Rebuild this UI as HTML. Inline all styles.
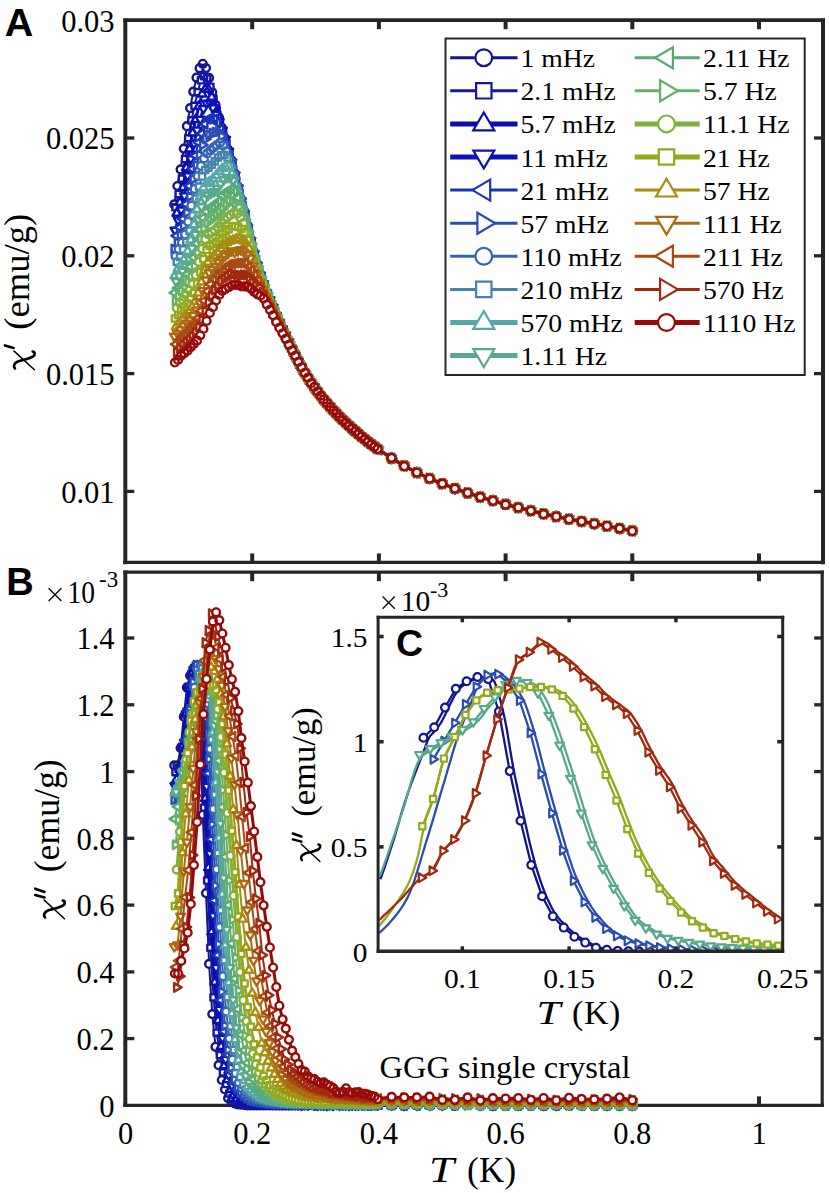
<!DOCTYPE html>
<html><head><meta charset="utf-8"><title>chi</title>
<style>html,body{margin:0;padding:0;background:#fff;}svg{display:block;}</style></head>
<body><svg width="829" height="1193" viewBox="0 0 829 1193">
<rect width="829" height="1193" fill="#fff"/>
<g><line x1="125.3" y1="18.4" x2="125.3" y2="564.2" stroke="#262626" stroke-width="4"/><line x1="823" y1="18.4" x2="823" y2="564.2" stroke="#262626" stroke-width="4"/><line x1="123.3" y1="20.2" x2="825" y2="20.2" stroke="#262626" stroke-width="3.7"/><line x1="123.3" y1="562.4" x2="825" y2="562.4" stroke="#262626" stroke-width="3.3"/><line x1="252.2" y1="20.2" x2="252.2" y2="29.2" stroke="#262626" stroke-width="4"/><line x1="252.2" y1="562.4" x2="252.2" y2="553.4" stroke="#262626" stroke-width="4"/><line x1="378.9" y1="20.2" x2="378.9" y2="29.2" stroke="#262626" stroke-width="4"/><line x1="378.9" y1="562.4" x2="378.9" y2="553.4" stroke="#262626" stroke-width="4"/><line x1="505.6" y1="20.2" x2="505.6" y2="29.2" stroke="#262626" stroke-width="4"/><line x1="505.6" y1="562.4" x2="505.6" y2="553.4" stroke="#262626" stroke-width="4"/><line x1="632.3" y1="20.2" x2="632.3" y2="29.2" stroke="#262626" stroke-width="4"/><line x1="632.3" y1="562.4" x2="632.3" y2="553.4" stroke="#262626" stroke-width="4"/><line x1="759" y1="20.2" x2="759" y2="29.2" stroke="#262626" stroke-width="4"/><line x1="759" y1="562.4" x2="759" y2="553.4" stroke="#262626" stroke-width="4"/><line x1="125.3" y1="491.4" x2="134.3" y2="491.4" stroke="#262626" stroke-width="3.3"/><line x1="823" y1="491.4" x2="814" y2="491.4" stroke="#262626" stroke-width="3.3"/><line x1="125.3" y1="373.6" x2="134.3" y2="373.6" stroke="#262626" stroke-width="3.3"/><line x1="823" y1="373.6" x2="814" y2="373.6" stroke="#262626" stroke-width="3.3"/><line x1="125.3" y1="255.8" x2="134.3" y2="255.8" stroke="#262626" stroke-width="3.3"/><line x1="823" y1="255.8" x2="814" y2="255.8" stroke="#262626" stroke-width="3.3"/><line x1="125.3" y1="138" x2="134.3" y2="138" stroke="#262626" stroke-width="3.3"/><line x1="823" y1="138" x2="814" y2="138" stroke="#262626" stroke-width="3.3"/><text x="114.5" y="31.5" font-family="Liberation Serif" font-size="30.5" text-anchor="end" >0.03</text><text x="114.5" y="149.3" font-family="Liberation Serif" font-size="30.5" text-anchor="end" >0.025</text><text x="114.5" y="267.1" font-family="Liberation Serif" font-size="30.5" text-anchor="end" >0.02</text><text x="114.5" y="384.9" font-family="Liberation Serif" font-size="30.5" text-anchor="end" >0.015</text><text x="114.5" y="502.7" font-family="Liberation Serif" font-size="30.5" text-anchor="end" >0.01</text><line x1="125.3" y1="570.6" x2="125.3" y2="1107" stroke="#262626" stroke-width="4"/><line x1="822.2" y1="570.6" x2="822.2" y2="1107" stroke="#262626" stroke-width="3.2"/><line x1="123.3" y1="572.2" x2="823.8" y2="572.2" stroke="#262626" stroke-width="3.2"/><line x1="123.3" y1="1105.4" x2="823.8" y2="1105.4" stroke="#262626" stroke-width="3.2"/><line x1="252.2" y1="572.2" x2="252.2" y2="581.2" stroke="#262626" stroke-width="4"/><line x1="252.2" y1="1105.4" x2="252.2" y2="1096.4" stroke="#262626" stroke-width="4"/><line x1="378.9" y1="572.2" x2="378.9" y2="581.2" stroke="#262626" stroke-width="4"/><line x1="378.9" y1="1105.4" x2="378.9" y2="1096.4" stroke="#262626" stroke-width="4"/><line x1="505.6" y1="572.2" x2="505.6" y2="581.2" stroke="#262626" stroke-width="4"/><line x1="505.6" y1="1105.4" x2="505.6" y2="1096.4" stroke="#262626" stroke-width="4"/><line x1="632.3" y1="572.2" x2="632.3" y2="581.2" stroke="#262626" stroke-width="4"/><line x1="632.3" y1="1105.4" x2="632.3" y2="1096.4" stroke="#262626" stroke-width="4"/><line x1="759" y1="572.2" x2="759" y2="581.2" stroke="#262626" stroke-width="4"/><line x1="759" y1="1105.4" x2="759" y2="1096.4" stroke="#262626" stroke-width="4"/><line x1="125.3" y1="1038.6" x2="134.3" y2="1038.6" stroke="#262626" stroke-width="3.3"/><line x1="822.2" y1="1038.6" x2="814.2" y2="1038.6" stroke="#262626" stroke-width="3.3"/><line x1="125.3" y1="971.9" x2="134.3" y2="971.9" stroke="#262626" stroke-width="3.3"/><line x1="822.2" y1="971.9" x2="814.2" y2="971.9" stroke="#262626" stroke-width="3.3"/><line x1="125.3" y1="905.1" x2="134.3" y2="905.1" stroke="#262626" stroke-width="3.3"/><line x1="822.2" y1="905.1" x2="814.2" y2="905.1" stroke="#262626" stroke-width="3.3"/><line x1="125.3" y1="838.3" x2="134.3" y2="838.3" stroke="#262626" stroke-width="3.3"/><line x1="822.2" y1="838.3" x2="814.2" y2="838.3" stroke="#262626" stroke-width="3.3"/><line x1="125.3" y1="771.6" x2="134.3" y2="771.6" stroke="#262626" stroke-width="3.3"/><line x1="822.2" y1="771.6" x2="814.2" y2="771.6" stroke="#262626" stroke-width="3.3"/><line x1="125.3" y1="704.8" x2="134.3" y2="704.8" stroke="#262626" stroke-width="3.3"/><line x1="822.2" y1="704.8" x2="814.2" y2="704.8" stroke="#262626" stroke-width="3.3"/><line x1="125.3" y1="638" x2="134.3" y2="638" stroke="#262626" stroke-width="3.3"/><line x1="822.2" y1="638" x2="814.2" y2="638" stroke="#262626" stroke-width="3.3"/><text x="114.5" y="1116.7" font-family="Liberation Serif" font-size="30.5" text-anchor="end" >0</text><text x="114.5" y="1049.9" font-family="Liberation Serif" font-size="30.5" text-anchor="end" >0.2</text><text x="114.5" y="983.2" font-family="Liberation Serif" font-size="30.5" text-anchor="end" >0.4</text><text x="114.5" y="916.4" font-family="Liberation Serif" font-size="30.5" text-anchor="end" >0.6</text><text x="114.5" y="849.6" font-family="Liberation Serif" font-size="30.5" text-anchor="end" >0.8</text><text x="114.5" y="782.9" font-family="Liberation Serif" font-size="30.5" text-anchor="end" >1</text><text x="114.5" y="716.1" font-family="Liberation Serif" font-size="30.5" text-anchor="end" >1.2</text><text x="114.5" y="649.3" font-family="Liberation Serif" font-size="30.5" text-anchor="end" >1.4</text><text x="125.5" y="1144" font-family="Liberation Serif" font-size="30.5" text-anchor="middle" >0</text><text x="252.2" y="1144" font-family="Liberation Serif" font-size="30.5" text-anchor="middle" >0.2</text><text x="378.9" y="1144" font-family="Liberation Serif" font-size="30.5" text-anchor="middle" >0.4</text><text x="505.6" y="1144" font-family="Liberation Serif" font-size="30.5" text-anchor="middle" >0.6</text><text x="632.3" y="1144" font-family="Liberation Serif" font-size="30.5" text-anchor="middle" >0.8</text><text x="759" y="1144" font-family="Liberation Serif" font-size="30.5" text-anchor="middle" >1</text></g>
<g stroke-linejoin="round"><path d="M174.3 204.4 177.4 186 180.6 169.4 183.8 148.6 186.9 126.2 190.1 108.1 193.3 91.6 196.5 77.6 199.6 68.2 202.8 63.8 206 68 209.1 77.9 212.3 92.3 215.5 104.9 218.6 116.9 221.8 127.7 225 138.2 228.1 149.5 231.3 160 234.5 173.4 237.6 186.2 240.8 198.8 244 210.9 247.1 224.6 250.3 238.7 253.5 251.6 256.6 263 259.8 273.4 263 282.8 266.1 291.1 269.3 298.8 272.5 306 275.6 314.3 278.8 321.2 282 328.1 285.1 335.4 288.3 341.6 291.5 348.2 294.6 353.8 297.8 360.3 301 366.6 304.1 371.5 307.3 377 310.5 382.3 313.6 386.5 316.8 390.9 320 395.1 323.2 398.8 326.3 403.1 329.5 406.2 332.7 409.4 335.8 412.7 339 415.9 342.2 419 345.3 421.9 348.5 425.5 351.7 427.9 354.8 431.4 358 433.8 361.2 436.7 364.3 438.6 367.5 441 370.7 443.8 373.8 445.7 377 448.6 391.6 458.2 404.2 465.8 416.9 472.9 429.6 478.4 442.2 483.4 454.9 488.8 467.6 492.8 480.3 497.1 492.9 500.5 505.6 504.2 518.3 507.5 530.9 510.7 543.6 513.8 556.3 516.8 569 518.9 581.6 521.7 594.3 523.8 607 526.1 619.6 528.6 632.3 530.8" fill="none" stroke="#14148c" stroke-width="2.0"/><path d="M170.4 204.4a3.9 3.9 0 1 0 7.8 0a3.9 3.9 0 1 0 -7.8 0ZM173.5 186a3.9 3.9 0 1 0 7.8 0a3.9 3.9 0 1 0 -7.8 0ZM176.7 169.4a3.9 3.9 0 1 0 7.8 0a3.9 3.9 0 1 0 -7.8 0ZM179.9 148.6a3.9 3.9 0 1 0 7.8 0a3.9 3.9 0 1 0 -7.8 0ZM183 126.2a3.9 3.9 0 1 0 7.8 0a3.9 3.9 0 1 0 -7.8 0ZM186.2 108.1a3.9 3.9 0 1 0 7.8 0a3.9 3.9 0 1 0 -7.8 0ZM189.4 91.6a3.9 3.9 0 1 0 7.8 0a3.9 3.9 0 1 0 -7.8 0ZM192.6 77.6a3.9 3.9 0 1 0 7.8 0a3.9 3.9 0 1 0 -7.8 0ZM195.7 68.2a3.9 3.9 0 1 0 7.8 0a3.9 3.9 0 1 0 -7.8 0ZM198.9 63.8a3.9 3.9 0 1 0 7.8 0a3.9 3.9 0 1 0 -7.8 0ZM202.1 68a3.9 3.9 0 1 0 7.8 0a3.9 3.9 0 1 0 -7.8 0ZM205.2 77.9a3.9 3.9 0 1 0 7.8 0a3.9 3.9 0 1 0 -7.8 0ZM208.4 92.3a3.9 3.9 0 1 0 7.8 0a3.9 3.9 0 1 0 -7.8 0ZM211.6 104.9a3.9 3.9 0 1 0 7.8 0a3.9 3.9 0 1 0 -7.8 0ZM214.7 116.9a3.9 3.9 0 1 0 7.8 0a3.9 3.9 0 1 0 -7.8 0ZM217.9 127.7a3.9 3.9 0 1 0 7.8 0a3.9 3.9 0 1 0 -7.8 0ZM221.1 138.2a3.9 3.9 0 1 0 7.8 0a3.9 3.9 0 1 0 -7.8 0ZM224.2 149.5a3.9 3.9 0 1 0 7.8 0a3.9 3.9 0 1 0 -7.8 0ZM227.4 160a3.9 3.9 0 1 0 7.8 0a3.9 3.9 0 1 0 -7.8 0ZM230.6 173.4a3.9 3.9 0 1 0 7.8 0a3.9 3.9 0 1 0 -7.8 0ZM233.7 186.2a3.9 3.9 0 1 0 7.8 0a3.9 3.9 0 1 0 -7.8 0ZM236.9 198.8a3.9 3.9 0 1 0 7.8 0a3.9 3.9 0 1 0 -7.8 0ZM240.1 210.9a3.9 3.9 0 1 0 7.8 0a3.9 3.9 0 1 0 -7.8 0ZM243.2 224.6a3.9 3.9 0 1 0 7.8 0a3.9 3.9 0 1 0 -7.8 0ZM246.4 238.7a3.9 3.9 0 1 0 7.8 0a3.9 3.9 0 1 0 -7.8 0ZM249.6 251.6a3.9 3.9 0 1 0 7.8 0a3.9 3.9 0 1 0 -7.8 0ZM252.7 263a3.9 3.9 0 1 0 7.8 0a3.9 3.9 0 1 0 -7.8 0ZM255.9 273.4a3.9 3.9 0 1 0 7.8 0a3.9 3.9 0 1 0 -7.8 0ZM259.1 282.8a3.9 3.9 0 1 0 7.8 0a3.9 3.9 0 1 0 -7.8 0ZM262.2 291.1a3.9 3.9 0 1 0 7.8 0a3.9 3.9 0 1 0 -7.8 0ZM265.4 298.8a3.9 3.9 0 1 0 7.8 0a3.9 3.9 0 1 0 -7.8 0ZM268.6 306a3.9 3.9 0 1 0 7.8 0a3.9 3.9 0 1 0 -7.8 0ZM271.7 314.3a3.9 3.9 0 1 0 7.8 0a3.9 3.9 0 1 0 -7.8 0ZM274.9 321.2a3.9 3.9 0 1 0 7.8 0a3.9 3.9 0 1 0 -7.8 0ZM278.1 328.1a3.9 3.9 0 1 0 7.8 0a3.9 3.9 0 1 0 -7.8 0ZM281.2 335.4a3.9 3.9 0 1 0 7.8 0a3.9 3.9 0 1 0 -7.8 0ZM284.4 341.6a3.9 3.9 0 1 0 7.8 0a3.9 3.9 0 1 0 -7.8 0ZM287.6 348.2a3.9 3.9 0 1 0 7.8 0a3.9 3.9 0 1 0 -7.8 0ZM290.7 353.8a3.9 3.9 0 1 0 7.8 0a3.9 3.9 0 1 0 -7.8 0ZM293.9 360.3a3.9 3.9 0 1 0 7.8 0a3.9 3.9 0 1 0 -7.8 0ZM297.1 366.6a3.9 3.9 0 1 0 7.8 0a3.9 3.9 0 1 0 -7.8 0ZM300.2 371.5a3.9 3.9 0 1 0 7.8 0a3.9 3.9 0 1 0 -7.8 0ZM303.4 377a3.9 3.9 0 1 0 7.8 0a3.9 3.9 0 1 0 -7.8 0ZM306.6 382.3a3.9 3.9 0 1 0 7.8 0a3.9 3.9 0 1 0 -7.8 0ZM309.7 386.5a3.9 3.9 0 1 0 7.8 0a3.9 3.9 0 1 0 -7.8 0ZM312.9 390.9a3.9 3.9 0 1 0 7.8 0a3.9 3.9 0 1 0 -7.8 0ZM316.1 395.1a3.9 3.9 0 1 0 7.8 0a3.9 3.9 0 1 0 -7.8 0ZM319.3 398.8a3.9 3.9 0 1 0 7.8 0a3.9 3.9 0 1 0 -7.8 0ZM322.4 403.1a3.9 3.9 0 1 0 7.8 0a3.9 3.9 0 1 0 -7.8 0ZM325.6 406.2a3.9 3.9 0 1 0 7.8 0a3.9 3.9 0 1 0 -7.8 0ZM328.8 409.4a3.9 3.9 0 1 0 7.8 0a3.9 3.9 0 1 0 -7.8 0ZM331.9 412.7a3.9 3.9 0 1 0 7.8 0a3.9 3.9 0 1 0 -7.8 0ZM335.1 415.9a3.9 3.9 0 1 0 7.8 0a3.9 3.9 0 1 0 -7.8 0ZM338.3 419a3.9 3.9 0 1 0 7.8 0a3.9 3.9 0 1 0 -7.8 0ZM341.4 421.9a3.9 3.9 0 1 0 7.8 0a3.9 3.9 0 1 0 -7.8 0ZM344.6 425.5a3.9 3.9 0 1 0 7.8 0a3.9 3.9 0 1 0 -7.8 0ZM347.8 427.9a3.9 3.9 0 1 0 7.8 0a3.9 3.9 0 1 0 -7.8 0ZM350.9 431.4a3.9 3.9 0 1 0 7.8 0a3.9 3.9 0 1 0 -7.8 0ZM354.1 433.8a3.9 3.9 0 1 0 7.8 0a3.9 3.9 0 1 0 -7.8 0ZM357.3 436.7a3.9 3.9 0 1 0 7.8 0a3.9 3.9 0 1 0 -7.8 0ZM360.4 438.6a3.9 3.9 0 1 0 7.8 0a3.9 3.9 0 1 0 -7.8 0ZM363.6 441a3.9 3.9 0 1 0 7.8 0a3.9 3.9 0 1 0 -7.8 0ZM366.8 443.8a3.9 3.9 0 1 0 7.8 0a3.9 3.9 0 1 0 -7.8 0ZM369.9 445.7a3.9 3.9 0 1 0 7.8 0a3.9 3.9 0 1 0 -7.8 0ZM373.1 448.6a3.9 3.9 0 1 0 7.8 0a3.9 3.9 0 1 0 -7.8 0ZM387.7 458.2a3.9 3.9 0 1 0 7.8 0a3.9 3.9 0 1 0 -7.8 0ZM400.3 465.8a3.9 3.9 0 1 0 7.8 0a3.9 3.9 0 1 0 -7.8 0ZM413 472.9a3.9 3.9 0 1 0 7.8 0a3.9 3.9 0 1 0 -7.8 0ZM425.7 478.4a3.9 3.9 0 1 0 7.8 0a3.9 3.9 0 1 0 -7.8 0ZM438.4 483.4a3.9 3.9 0 1 0 7.8 0a3.9 3.9 0 1 0 -7.8 0ZM451 488.8a3.9 3.9 0 1 0 7.8 0a3.9 3.9 0 1 0 -7.8 0ZM463.7 492.8a3.9 3.9 0 1 0 7.8 0a3.9 3.9 0 1 0 -7.8 0ZM476.4 497.1a3.9 3.9 0 1 0 7.8 0a3.9 3.9 0 1 0 -7.8 0ZM489 500.5a3.9 3.9 0 1 0 7.8 0a3.9 3.9 0 1 0 -7.8 0ZM501.7 504.2a3.9 3.9 0 1 0 7.8 0a3.9 3.9 0 1 0 -7.8 0ZM514.4 507.5a3.9 3.9 0 1 0 7.8 0a3.9 3.9 0 1 0 -7.8 0ZM527 510.7a3.9 3.9 0 1 0 7.8 0a3.9 3.9 0 1 0 -7.8 0ZM539.7 513.8a3.9 3.9 0 1 0 7.8 0a3.9 3.9 0 1 0 -7.8 0ZM552.4 516.8a3.9 3.9 0 1 0 7.8 0a3.9 3.9 0 1 0 -7.8 0ZM565.1 518.9a3.9 3.9 0 1 0 7.8 0a3.9 3.9 0 1 0 -7.8 0ZM577.7 521.7a3.9 3.9 0 1 0 7.8 0a3.9 3.9 0 1 0 -7.8 0ZM590.4 523.8a3.9 3.9 0 1 0 7.8 0a3.9 3.9 0 1 0 -7.8 0ZM603.1 526.1a3.9 3.9 0 1 0 7.8 0a3.9 3.9 0 1 0 -7.8 0ZM615.7 528.6a3.9 3.9 0 1 0 7.8 0a3.9 3.9 0 1 0 -7.8 0ZM628.4 530.8a3.9 3.9 0 1 0 7.8 0a3.9 3.9 0 1 0 -7.8 0Z" fill="#fff" stroke="#14148c" stroke-width="2.4"/><path d="M175.5 207.3 178.7 194 181.9 178.7 185 159 188.2 138.2 191.4 120.4 194.6 105.8 197.7 92.2 200.9 80.3 204.1 76.1 207.2 78.4 210.4 86.7 213.6 98.6 216.7 110.5 219.9 120.1 223.1 131.2 226.2 142.8 229.4 153.4 232.6 165.1 235.7 177.4 238.9 190.9 242.1 204.1 245.2 217 248.4 229.9 251.6 243.5 254.7 256.5 257.9 267.5 261.1 277.2 264.2 285.7 267.4 294.6 270.6 302 273.7 309.3 276.9 316.6 280.1 324 283.2 330.2 286.4 337.5 289.6 343.8 292.7 350.6 295.9 357.2 299.1 362.6 302.2 368.3 305.4 373.8 308.6 378.8 311.7 383.8 314.9 388.3 318.1 392.4 321.3 395.9 324.4 400.1 327.6 404.2 330.8 407.4 333.9 411.1 337.1 414.4 340.3 417.2 343.4 420.6 346.6 423.9 349.8 426.6 352.9 429.2 356.1 432 359.3 434.4 362.4 437.5 365.6 439.7 368.8 442.2 371.9 444.8 375.1 446.9 378.3 449.2 391.6 458.4 404.2 465.6 416.9 472.9 429.6 478.5 442.2 483.8 454.9 488.5 467.6 493.1 480.3 497.1 492.9 500.8 505.6 504.1 518.3 507.8 530.9 510.8 543.6 513.9 556.3 516.8 569 518.7 581.6 521.5 594.3 524 607 525.9 619.6 528.7 632.3 530.7" fill="none" stroke="#1616a0" stroke-width="2.0"/><path d="M172.4 204.2h6.2v6.2h-6.2ZM175.6 190.9h6.2v6.2h-6.2ZM178.8 175.5h6.2v6.2h-6.2ZM181.9 155.9h6.2v6.2h-6.2ZM185.1 135.1h6.2v6.2h-6.2ZM188.3 117.3h6.2v6.2h-6.2ZM191.4 102.7h6.2v6.2h-6.2ZM194.6 89.1h6.2v6.2h-6.2ZM197.8 77.2h6.2v6.2h-6.2ZM200.9 73h6.2v6.2h-6.2ZM204.1 75.3h6.2v6.2h-6.2ZM207.3 83.6h6.2v6.2h-6.2ZM210.4 95.5h6.2v6.2h-6.2ZM213.6 107.3h6.2v6.2h-6.2ZM216.8 117h6.2v6.2h-6.2ZM219.9 128.1h6.2v6.2h-6.2ZM223.1 139.7h6.2v6.2h-6.2ZM226.3 150.2h6.2v6.2h-6.2ZM229.4 162h6.2v6.2h-6.2ZM232.6 174.3h6.2v6.2h-6.2ZM235.8 187.7h6.2v6.2h-6.2ZM238.9 201h6.2v6.2h-6.2ZM242.1 213.9h6.2v6.2h-6.2ZM245.3 226.8h6.2v6.2h-6.2ZM248.4 240.4h6.2v6.2h-6.2ZM251.6 253.4h6.2v6.2h-6.2ZM254.8 264.4h6.2v6.2h-6.2ZM257.9 274.1h6.2v6.2h-6.2ZM261.1 282.6h6.2v6.2h-6.2ZM264.3 291.5h6.2v6.2h-6.2ZM267.5 298.9h6.2v6.2h-6.2ZM270.6 306.2h6.2v6.2h-6.2ZM273.8 313.5h6.2v6.2h-6.2ZM277 320.9h6.2v6.2h-6.2ZM280.1 327h6.2v6.2h-6.2ZM283.3 334.4h6.2v6.2h-6.2ZM286.5 340.7h6.2v6.2h-6.2ZM289.6 347.5h6.2v6.2h-6.2ZM292.8 354h6.2v6.2h-6.2ZM296 359.5h6.2v6.2h-6.2ZM299.1 365.2h6.2v6.2h-6.2ZM302.3 370.7h6.2v6.2h-6.2ZM305.5 375.7h6.2v6.2h-6.2ZM308.6 380.7h6.2v6.2h-6.2ZM311.8 385.2h6.2v6.2h-6.2ZM315 389.3h6.2v6.2h-6.2ZM318.1 392.8h6.2v6.2h-6.2ZM321.3 397h6.2v6.2h-6.2ZM324.5 401h6.2v6.2h-6.2ZM327.6 404.3h6.2v6.2h-6.2ZM330.8 408h6.2v6.2h-6.2ZM334 411.3h6.2v6.2h-6.2ZM337.1 414.1h6.2v6.2h-6.2ZM340.3 417.5h6.2v6.2h-6.2ZM343.5 420.8h6.2v6.2h-6.2ZM346.6 423.5h6.2v6.2h-6.2ZM349.8 426.1h6.2v6.2h-6.2ZM353 428.9h6.2v6.2h-6.2ZM356.1 431.3h6.2v6.2h-6.2ZM359.3 434.4h6.2v6.2h-6.2ZM362.5 436.6h6.2v6.2h-6.2ZM365.6 439.1h6.2v6.2h-6.2ZM368.8 441.6h6.2v6.2h-6.2ZM372 443.8h6.2v6.2h-6.2ZM375.1 446.1h6.2v6.2h-6.2ZM388.4 455.3h6.2v6.2h-6.2ZM401.1 462.5h6.2v6.2h-6.2ZM413.8 469.8h6.2v6.2h-6.2ZM426.5 475.4h6.2v6.2h-6.2ZM439.1 480.7h6.2v6.2h-6.2ZM451.8 485.4h6.2v6.2h-6.2ZM464.5 490h6.2v6.2h-6.2ZM477.1 493.9h6.2v6.2h-6.2ZM489.8 497.7h6.2v6.2h-6.2ZM502.5 501h6.2v6.2h-6.2ZM515.2 504.6h6.2v6.2h-6.2ZM527.8 507.7h6.2v6.2h-6.2ZM540.5 510.8h6.2v6.2h-6.2ZM553.2 513.7h6.2v6.2h-6.2ZM565.8 515.6h6.2v6.2h-6.2ZM578.5 518.4h6.2v6.2h-6.2ZM591.2 520.9h6.2v6.2h-6.2ZM603.8 522.8h6.2v6.2h-6.2ZM616.5 525.5h6.2v6.2h-6.2ZM629.2 527.6h6.2v6.2h-6.2Z" fill="#fff" stroke="#1616a0" stroke-width="2.4"/><path d="M176.8 213.1 180 202.2 183.1 187.2 186.3 167.6 189.5 148.8 192.7 132.8 195.8 119.2 199 105.9 202.2 93.8 205.3 88.9 208.5 89.2 211.7 97 214.8 106.5 218 115 221.2 126.4 224.3 136.3 227.5 147 230.7 157.9 233.8 170.1 237 183.4 240.2 196.4 243.3 209.6 246.5 222.1 249.7 235.5 252.8 248.6 256 261.3 259.2 270.7 262.3 280.3 265.5 289.4 268.7 297.7 271.8 305.3 275 312.5 278.2 319.6 281.3 326.3 284.5 333.1 287.7 339.6 290.8 346.2 294 353 297.2 359 300.3 365.1 303.5 370.8 306.7 375.4 309.8 381 313 384.9 316.2 389.9 319.4 394 322.5 397.7 325.7 401.8 328.9 405.4 332 409 335.2 412.4 338.4 415.6 341.5 418.8 344.7 421.3 347.9 424.7 351 427.1 354.2 431 357.4 433.1 360.5 435.6 363.7 438.4 366.9 440.6 370 443.2 373.2 445.7 376.4 447.9 391.6 457.6 404.2 465.8 416.9 472.6 429.6 478.6 442.2 483.8 454.9 488.8 467.6 493 480.3 496.6 492.9 500.6 505.6 504.2 518.3 507.4 530.9 510.5 543.6 513.7 556.3 516.3 569 518.9 581.6 521.4 594.3 523.5 607 526.5 619.6 528.6 632.3 530.7" fill="none" stroke="#0c0cb0" stroke-width="3.0"/><path d="M176.8 208.4L181.2 215.8L172.4 215.8ZM180 197.5L184.3 204.9L175.6 204.9ZM183.1 182.5L187.5 189.9L178.8 189.9ZM186.3 162.9L190.7 170.3L181.9 170.3ZM189.5 144.1L193.9 151.5L185.1 151.5ZM192.7 128.1L197 135.5L188.3 135.5ZM195.8 114.5L200.2 121.9L191.5 121.9ZM199 101.2L203.4 108.6L194.6 108.6ZM202.2 89.1L206.5 96.5L197.8 96.5ZM205.3 84.2L209.7 91.6L201 91.6ZM208.5 84.5L212.9 91.9L204.1 91.9ZM211.7 92.2L216 99.7L207.3 99.7ZM214.8 101.8L219.2 109.2L210.5 109.2ZM218 110.2L222.4 117.6L213.6 117.6ZM221.2 121.6L225.5 129L216.8 129ZM224.3 131.5L228.7 138.9L220 138.9ZM227.5 142.3L231.9 149.7L223.1 149.7ZM230.7 153.2L235 160.6L226.3 160.6ZM233.8 165.3L238.2 172.7L229.5 172.7ZM237 178.6L241.4 186L232.6 186ZM240.2 191.6L244.5 199L235.8 199ZM243.3 204.9L247.7 212.3L239 212.3ZM246.5 217.3L250.9 224.7L242.1 224.7ZM249.7 230.7L254 238.1L245.3 238.1ZM252.8 243.9L257.2 251.3L248.5 251.3ZM256 256.5L260.4 264L251.6 264ZM259.2 265.9L263.5 273.3L254.8 273.3ZM262.3 275.6L266.7 283L258 283ZM265.5 284.7L269.9 292.1L261.1 292.1ZM268.7 293L273 300.4L264.3 300.4ZM271.8 300.6L276.2 308L267.5 308ZM275 307.7L279.4 315.1L270.6 315.1ZM278.2 314.8L282.5 322.2L273.8 322.2ZM281.3 321.6L285.7 329L277 329ZM284.5 328.3L288.9 335.7L280.1 335.7ZM287.7 334.8L292 342.2L283.3 342.2ZM290.8 341.5L295.2 348.9L286.5 348.9ZM294 348.2L298.4 355.6L289.6 355.6ZM297.2 354.2L301.5 361.6L292.8 361.6ZM300.3 360.3L304.7 367.8L296 367.8ZM303.5 366L307.9 373.4L299.1 373.4ZM306.7 370.6L311 378L302.3 378ZM309.8 376.3L314.2 383.7L305.5 383.7ZM313 380.2L317.4 387.6L308.6 387.6ZM316.2 385.2L320.6 392.6L311.8 392.6ZM319.4 389.2L323.7 396.6L315 396.6ZM322.5 393L326.9 400.4L318.2 400.4ZM325.7 397.1L330.1 404.5L321.3 404.5ZM328.9 400.6L333.2 408L324.5 408ZM332 404.3L336.4 411.7L327.7 411.7ZM335.2 407.7L339.6 415.1L330.8 415.1ZM338.4 410.8L342.7 418.3L334 418.3ZM341.5 414.1L345.9 421.5L337.2 421.5ZM344.7 416.6L349.1 424L340.3 424ZM347.9 420L352.2 427.4L343.5 427.4ZM351 422.4L355.4 429.8L346.7 429.8ZM354.2 426.3L358.6 433.7L349.8 433.7ZM357.4 428.3L361.7 435.8L353 435.8ZM360.5 430.9L364.9 438.3L356.2 438.3ZM363.7 433.7L368.1 441.1L359.3 441.1ZM366.9 435.9L371.2 443.3L362.5 443.3ZM370 438.4L374.4 445.8L365.7 445.8ZM373.2 441L377.6 448.4L368.8 448.4ZM376.4 443.2L380.7 450.6L372 450.6ZM391.6 452.9L395.9 460.3L387.2 460.3ZM404.2 461.1L408.6 468.5L399.9 468.5ZM416.9 467.8L421.3 475.2L412.5 475.2ZM429.6 473.9L433.9 481.3L425.2 481.3ZM442.2 479L446.6 486.4L437.9 486.4ZM454.9 484.1L459.3 491.5L450.6 491.5ZM467.6 488.3L472 495.7L463.2 495.7ZM480.3 491.9L484.6 499.3L475.9 499.3ZM492.9 495.9L497.3 503.3L488.6 503.3ZM505.6 499.4L510 506.8L501.2 506.8ZM518.3 502.7L522.6 510.1L513.9 510.1ZM530.9 505.8L535.3 513.2L526.6 513.2ZM543.6 509L548 516.4L539.2 516.4ZM556.3 511.5L560.6 518.9L551.9 518.9ZM569 514.2L573.3 521.6L564.6 521.6ZM581.6 516.7L586 524.1L577.3 524.1ZM594.3 518.8L598.7 526.2L589.9 526.2ZM607 521.8L611.3 529.2L602.6 529.2ZM619.6 523.8L624 531.2L615.3 531.2ZM632.3 526L636.7 533.4L627.9 533.4Z" fill="#fff" stroke="#0c0cb0" stroke-width="2.4"/><path d="M174.9 230.4 178.1 220.3 181.2 210.2 184.4 196.1 187.6 175.9 190.8 159 193.9 143.7 197.1 130.2 200.3 119.5 203.4 108.8 206.6 103.5 209.8 103.1 212.9 108 216.1 114.4 219.3 122 222.4 130.4 225.6 139.5 228.8 151.4 231.9 162.2 235.1 175.2 238.3 188 241.4 201.3 244.6 213.7 247.8 228.2 250.9 240.9 254.1 254.1 257.3 265.3 260.4 275.2 263.6 284.1 266.8 293 269.9 300 273.1 307.4 276.3 315.4 279.4 322.4 282.6 329.1 285.8 335.6 288.9 342.1 292.1 349.5 295.3 355.6 298.4 361.8 301.6 367.6 304.8 373.2 307.9 377.8 311.1 383.1 314.3 386.8 317.5 391.3 320.6 395.9 323.8 399.8 327 403.4 330.1 406.5 333.3 410.5 336.5 414 339.6 416.8 342.8 419.8 346 423.1 349.1 425.4 352.3 428.6 355.5 431.4 358.6 434.4 361.8 436.8 365 439.4 368.1 442.4 371.3 444.2 374.5 447 377.6 448.9 391.6 458.6 404.2 465.4 416.9 472.6 429.6 478.3 442.2 483.6 454.9 488.8 467.6 493.4 480.3 497.1 492.9 500.6 505.6 504.3 518.3 507.5 530.9 510.7 543.6 514.1 556.3 516.6 569 518.8 581.6 521.6 594.3 524.1 607 526.2 619.6 528.6 632.3 530.7" fill="none" stroke="#0a14b4" stroke-width="3.0"/><path d="M174.9 235.2L179.3 227.7L170.5 227.7ZM178.1 225L182.4 217.6L173.7 217.6ZM181.2 214.9L185.6 207.5L176.9 207.5ZM184.4 200.8L188.8 193.4L180 193.4ZM187.6 180.6L192 173.2L183.2 173.2ZM190.8 163.7L195.1 156.3L186.4 156.3ZM193.9 148.4L198.3 141L189.6 141ZM197.1 135L201.5 127.6L192.7 127.6ZM200.3 124.2L204.6 116.8L195.9 116.8ZM203.4 113.5L207.8 106.1L199.1 106.1ZM206.6 108.2L211 100.8L202.2 100.8ZM209.8 107.8L214.1 100.4L205.4 100.4ZM212.9 112.7L217.3 105.3L208.6 105.3ZM216.1 119.2L220.5 111.8L211.7 111.8ZM219.3 126.8L223.6 119.3L214.9 119.3ZM222.4 135.2L226.8 127.8L218.1 127.8ZM225.6 144.3L230 136.9L221.2 136.9ZM228.8 156.2L233.1 148.8L224.4 148.8ZM231.9 166.9L236.3 159.5L227.6 159.5ZM235.1 179.9L239.5 172.5L230.7 172.5ZM238.3 192.8L242.6 185.4L233.9 185.4ZM241.4 206L245.8 198.6L237.1 198.6ZM244.6 218.5L249 211.1L240.2 211.1ZM247.8 232.9L252.1 225.5L243.4 225.5ZM250.9 245.6L255.3 238.2L246.6 238.2ZM254.1 258.8L258.5 251.4L249.7 251.4ZM257.3 270L261.6 262.6L252.9 262.6ZM260.4 280L264.8 272.6L256.1 272.6ZM263.6 288.8L268 281.4L259.2 281.4ZM266.8 297.7L271.1 290.3L262.4 290.3ZM269.9 304.8L274.3 297.3L265.6 297.3ZM273.1 312.1L277.5 304.7L268.7 304.7ZM276.3 320.2L280.6 312.8L271.9 312.8ZM279.4 327.1L283.8 319.7L275.1 319.7ZM282.6 333.9L287 326.5L278.2 326.5ZM285.8 340.3L290.1 332.9L281.4 332.9ZM288.9 346.8L293.3 339.4L284.6 339.4ZM292.1 354.2L296.5 346.8L287.7 346.8ZM295.3 360.3L299.6 352.9L290.9 352.9ZM298.4 366.5L302.8 359.1L294.1 359.1ZM301.6 372.3L306 364.9L297.2 364.9ZM304.8 378L309.1 370.6L300.4 370.6ZM307.9 382.6L312.3 375.2L303.6 375.2ZM311.1 387.8L315.5 380.4L306.7 380.4ZM314.3 391.6L318.7 384.2L309.9 384.2ZM317.5 396L321.8 388.6L313.1 388.6ZM320.6 400.7L325 393.2L316.3 393.2ZM323.8 404.6L328.2 397.2L319.4 397.2ZM327 408.2L331.3 400.8L322.6 400.8ZM330.1 411.3L334.5 403.8L325.8 403.8ZM333.3 415.3L337.7 407.9L328.9 407.9ZM336.5 418.7L340.8 411.3L332.1 411.3ZM339.6 421.6L344 414.2L335.3 414.2ZM342.8 424.5L347.2 417.1L338.4 417.1ZM346 427.8L350.3 420.4L341.6 420.4ZM349.1 430.2L353.5 422.8L344.8 422.8ZM352.3 433.4L356.7 426L347.9 426ZM355.5 436.1L359.8 428.7L351.1 428.7ZM358.6 439.1L363 431.7L354.3 431.7ZM361.8 441.5L366.2 434.1L357.4 434.1ZM365 444.1L369.3 436.7L360.6 436.7ZM368.1 447.1L372.5 439.7L363.8 439.7ZM371.3 448.9L375.7 441.5L366.9 441.5ZM374.5 451.8L378.8 444.3L370.1 444.3ZM377.6 453.6L382 446.2L373.3 446.2ZM391.6 463.3L395.9 455.9L387.2 455.9ZM404.2 470.2L408.6 462.8L399.9 462.8ZM416.9 477.3L421.3 469.9L412.5 469.9ZM429.6 483.1L433.9 475.7L425.2 475.7ZM442.2 488.3L446.6 480.9L437.9 480.9ZM454.9 493.6L459.3 486.1L450.6 486.1ZM467.6 498.1L472 490.7L463.2 490.7ZM480.3 501.9L484.6 494.4L475.9 494.4ZM492.9 505.4L497.3 498L488.6 498ZM505.6 509L510 501.6L501.2 501.6ZM518.3 512.2L522.6 504.8L513.9 504.8ZM530.9 515.4L535.3 508L526.6 508ZM543.6 518.8L548 511.4L539.2 511.4ZM556.3 521.3L560.6 513.9L551.9 513.9ZM569 523.5L573.3 516.1L564.6 516.1ZM581.6 526.3L586 518.9L577.3 518.9ZM594.3 528.9L598.7 521.5L589.9 521.5ZM607 530.9L611.3 523.5L602.6 523.5ZM619.6 533.3L624 525.9L615.3 525.9ZM632.3 535.5L636.7 528L627.9 528Z" fill="#fff" stroke="#0a14b4" stroke-width="2.4"/><path d="M176.2 235.8 179.3 227.4 182.5 218.9 185.7 204.2 188.9 185.9 192 168.9 195.2 155.5 198.4 142.5 201.5 133.7 204.7 124 207.9 119.1 211 118.5 214.2 119.1 217.4 122.7 220.5 129.2 223.7 136.7 226.9 144.7 230 156.6 233.2 168.4 236.4 180.8 239.5 193.4 242.7 206.5 245.9 218.7 249 233.2 252.2 246.3 255.4 258.6 258.5 269.5 261.7 278.7 264.9 287.9 268 295.5 271.2 303.8 274.4 310.7 277.5 318.2 280.7 324.6 283.9 332.4 287 338.5 290.2 345.4 293.4 351.6 296.5 357.5 299.7 364.1 302.9 369.9 306 375.1 309.2 379.8 312.4 385.1 315.6 389 318.7 393.6 321.9 397.5 325.1 401.2 328.2 404.6 331.4 408.4 334.6 411.8 337.7 414.9 340.9 418.1 344.1 421.8 347.2 424.2 350.4 427 353.6 429.5 356.7 432.1 359.9 435.1 363.1 437.8 366.2 440.6 369.4 442.8 372.6 445 375.7 447.3 378.9 450 391.6 458.2 404.2 465.7 416.9 472.3 429.6 478.5 442.2 483.9 454.9 488.7 467.6 493 480.3 497.2 492.9 500.6 505.6 504.1 518.3 507.5 530.9 510.6 543.6 513.9 556.3 516.5 569 519.2 581.6 521.5 594.3 523.6 607 526.2 619.6 528.8 632.3 530.8" fill="none" stroke="#1a32b4" stroke-width="2.0"/><path d="M171.4 235.8L178.8 231.5L178.8 240.2ZM174.6 227.4L182 223L182 231.7ZM177.8 218.9L185.2 214.5L185.2 223.2ZM180.9 204.2L188.4 199.8L188.4 208.6ZM184.1 185.9L191.5 181.6L191.5 190.3ZM187.3 168.9L194.7 164.5L194.7 173.3ZM190.4 155.5L197.9 151.1L197.9 159.9ZM193.6 142.5L201 138.1L201 146.8ZM196.8 133.7L204.2 129.3L204.2 138ZM199.9 124L207.4 119.7L207.4 128.4ZM203.1 119.1L210.5 114.8L210.5 123.5ZM206.3 118.5L213.7 114.1L213.7 122.9ZM209.4 119.1L216.9 114.7L216.9 123.5ZM212.6 122.7L220 118.3L220 127.1ZM215.8 129.2L223.2 124.8L223.2 133.6ZM219 136.7L226.4 132.4L226.4 141.1ZM222.1 144.7L229.5 140.3L229.5 149.1ZM225.3 156.6L232.7 152.2L232.7 161ZM228.5 168.4L235.9 164L235.9 172.7ZM231.6 180.8L239 176.4L239 185.1ZM234.8 193.4L242.2 189L242.2 197.8ZM238 206.5L245.4 202.1L245.4 210.8ZM241.1 218.7L248.5 214.4L248.5 223.1ZM244.3 233.2L251.7 228.8L251.7 237.6ZM247.5 246.3L254.9 241.9L254.9 250.7ZM250.6 258.6L258 254.2L258 263ZM253.8 269.5L261.2 265.2L261.2 273.9ZM257 278.7L264.4 274.4L264.4 283.1ZM260.1 287.9L267.5 283.5L267.5 292.3ZM263.3 295.5L270.7 291.1L270.7 299.8ZM266.5 303.8L273.9 299.4L273.9 308.2ZM269.6 310.7L277 306.3L277 315.1ZM272.8 318.2L280.2 313.8L280.2 322.6ZM276 324.6L283.4 320.3L283.4 329ZM279.1 332.4L286.5 328L286.5 336.8ZM282.3 338.5L289.7 334.1L289.7 342.9ZM285.5 345.4L292.9 341L292.9 349.8ZM288.6 351.6L296 347.2L296 356ZM291.8 357.5L299.2 353.1L299.2 361.9ZM295 364.1L302.4 359.8L302.4 368.5ZM298.1 369.9L305.5 365.5L305.5 374.2ZM301.3 375.1L308.7 370.8L308.7 379.5ZM304.5 379.8L311.9 375.5L311.9 384.2ZM307.6 385.1L315.1 380.7L315.1 389.5ZM310.8 389L318.2 384.6L318.2 393.3ZM314 393.6L321.4 389.2L321.4 397.9ZM317.1 397.5L324.6 393.2L324.6 401.9ZM320.3 401.2L327.7 396.8L327.7 405.5ZM323.5 404.6L330.9 400.3L330.9 409ZM326.6 408.4L334.1 404.1L334.1 412.8ZM329.8 411.8L337.2 407.4L337.2 416.1ZM333 414.9L340.4 410.5L340.4 419.3ZM336.1 418.1L343.6 413.8L343.6 422.5ZM339.3 421.8L346.7 417.4L346.7 426.1ZM342.5 424.2L349.9 419.8L349.9 428.6ZM345.7 427L353.1 422.6L353.1 431.3ZM348.8 429.5L356.2 425.2L356.2 433.9ZM352 432.1L359.4 427.7L359.4 436.4ZM355.2 435.1L362.6 430.7L362.6 439.4ZM358.3 437.8L365.7 433.4L365.7 442.2ZM361.5 440.6L368.9 436.2L368.9 444.9ZM364.7 442.8L372.1 438.4L372.1 447.2ZM367.8 445L375.2 440.7L375.2 449.4ZM371 447.3L378.4 442.9L378.4 451.6ZM374.2 450L381.6 445.6L381.6 454.4ZM386.8 458.2L394.2 453.8L394.2 462.6ZM399.5 465.7L406.9 461.3L406.9 470.1ZM412.2 472.3L419.6 467.9L419.6 476.6ZM424.8 478.5L432.2 474.1L432.2 482.8ZM437.5 483.9L444.9 479.5L444.9 488.3ZM450.2 488.7L457.6 484.3L457.6 493.1ZM462.8 493L470.3 488.7L470.3 497.4ZM475.5 497.2L482.9 492.8L482.9 501.5ZM488.2 500.6L495.6 496.3L495.6 505ZM500.9 504.1L508.3 499.7L508.3 508.5ZM513.5 507.5L520.9 503.1L520.9 511.9ZM526.2 510.6L533.6 506.3L533.6 515ZM538.9 513.9L546.3 509.5L546.3 518.3ZM551.5 516.5L558.9 512.2L558.9 520.9ZM564.2 519.2L571.6 514.8L571.6 523.6ZM576.9 521.5L584.3 517.1L584.3 525.8ZM589.5 523.6L597 519.2L597 528ZM602.2 526.2L609.6 521.8L609.6 530.5ZM614.9 528.8L622.3 524.4L622.3 533.1ZM627.6 530.8L635 526.5L635 535.2Z" fill="#fff" stroke="#1a32b4" stroke-width="2.4"/><path d="M174.3 249.1 177.4 242.5 180.6 235.1 183.8 225.6 186.9 212.6 190.1 196.3 193.3 179.1 196.5 165.1 199.6 154.7 202.8 144.9 206 138.9 209.1 134.9 212.3 133.3 215.5 132.2 218.6 131.5 221.8 136.1 225 143.1 228.1 152 231.3 160.3 234.5 172.7 237.6 186.3 240.8 198.4 244 211.7 247.1 224.5 250.3 238.3 253.5 250.9 256.6 263.1 259.8 273.4 263 282.2 266.1 291 269.3 299.2 272.5 306.3 275.6 314.1 278.8 321.2 282 328 285.1 335.1 288.3 341.5 291.5 347.3 294.6 354.4 297.8 360.3 301 366.4 304.1 371.9 307.3 376.5 310.5 381.6 313.6 386.5 316.8 390.7 320 395.1 323.2 399 326.3 402.8 329.5 406.4 332.7 409.5 335.8 412.8 339 416.1 342.2 419.3 345.3 422.6 348.5 425.3 351.7 428.3 354.8 430.7 358 433.5 361.2 436.1 364.3 438.9 367.5 441.8 370.7 443.6 373.8 445.9 377 448.8 391.6 458.2 404.2 465.6 416.9 472.9 429.6 478.2 442.2 483.8 454.9 488.8 467.6 492.7 480.3 497 492.9 500.9 505.6 504.1 518.3 508 530.9 510.5 543.6 514 556.3 516.6 569 519.2 581.6 521.4 594.3 523.7 607 526.3 619.6 528.4 632.3 530.8" fill="none" stroke="#2a4cb4" stroke-width="2.0"/><path d="M179 249.1L171.6 244.7L171.6 253.4ZM182.2 242.5L174.8 238.1L174.8 246.9ZM185.4 235.1L177.9 230.8L177.9 239.5ZM188.5 225.6L181.1 221.3L181.1 230ZM191.7 212.6L184.3 208.2L184.3 217ZM194.9 196.3L187.4 192L187.4 200.7ZM198 179.1L190.6 174.7L190.6 183.4ZM201.2 165.1L193.8 160.8L193.8 169.5ZM204.4 154.7L197 150.4L197 159.1ZM207.5 144.9L200.1 140.5L200.1 149.2ZM210.7 138.9L203.3 134.5L203.3 143.2ZM213.9 134.9L206.5 130.5L206.5 139.2ZM217 133.3L209.6 128.9L209.6 137.7ZM220.2 132.2L212.8 127.8L212.8 136.6ZM223.4 131.5L216 127.2L216 135.9ZM226.5 136.1L219.1 131.8L219.1 140.5ZM229.7 143.1L222.3 138.7L222.3 147.5ZM232.9 152L225.5 147.7L225.5 156.4ZM236 160.3L228.6 155.9L228.6 164.6ZM239.2 172.7L231.8 168.3L231.8 177.1ZM242.4 186.3L235 181.9L235 190.7ZM245.5 198.4L238.1 194L238.1 202.8ZM248.7 211.7L241.3 207.3L241.3 216.1ZM251.9 224.5L244.5 220.1L244.5 228.9ZM255 238.3L247.6 233.9L247.6 242.7ZM258.2 250.9L250.8 246.5L250.8 255.3ZM261.4 263.1L254 258.8L254 267.5ZM264.5 273.4L257.1 269.1L257.1 277.8ZM267.7 282.2L260.3 277.8L260.3 286.5ZM270.9 291L263.5 286.6L263.5 295.3ZM274 299.2L266.6 294.9L266.6 303.6ZM277.2 306.3L269.8 301.9L269.8 310.6ZM280.4 314.1L273 309.7L273 318.4ZM283.5 321.2L276.1 316.8L276.1 325.5ZM286.7 328L279.3 323.7L279.3 332.4ZM289.9 335.1L282.5 330.7L282.5 339.5ZM293.1 341.5L285.6 337.1L285.6 345.9ZM296.2 347.3L288.8 342.9L288.8 351.6ZM299.4 354.4L292 350.1L292 358.8ZM302.6 360.3L295.1 355.9L295.1 364.6ZM305.7 366.4L298.3 362.1L298.3 370.8ZM308.9 371.9L301.5 367.5L301.5 376.2ZM312.1 376.5L304.6 372.1L304.6 380.9ZM315.2 381.6L307.8 377.2L307.8 385.9ZM318.4 386.5L311 382.2L311 390.9ZM321.6 390.7L314.1 386.3L314.1 395.1ZM324.7 395.1L317.3 390.7L317.3 399.4ZM327.9 399L320.5 394.6L320.5 403.4ZM331.1 402.8L323.7 398.4L323.7 407.2ZM334.2 406.4L326.8 402L326.8 410.8ZM337.4 409.5L330 405.2L330 413.9ZM340.6 412.8L333.2 408.4L333.2 417.2ZM343.7 416.1L336.3 411.7L336.3 420.4ZM346.9 419.3L339.5 415L339.5 423.7ZM350.1 422.6L342.7 418.3L342.7 427ZM353.2 425.3L345.8 420.9L345.8 429.6ZM356.4 428.3L349 424L349 432.7ZM359.6 430.7L352.2 426.3L352.2 435.1ZM362.7 433.5L355.3 429.1L355.3 437.9ZM365.9 436.1L358.5 431.7L358.5 440.5ZM369.1 438.9L361.7 434.6L361.7 443.3ZM372.2 441.8L364.8 437.4L364.8 446.1ZM375.4 443.6L368 439.2L368 447.9ZM378.6 445.9L371.2 441.5L371.2 450.2ZM381.7 448.8L374.3 444.4L374.3 453.1ZM396.3 458.2L388.9 453.8L388.9 462.6ZM409 465.6L401.6 461.3L401.6 470ZM421.7 472.9L414.2 468.5L414.2 477.2ZM434.3 478.2L426.9 473.8L426.9 482.5ZM447 483.8L439.6 479.5L439.6 488.2ZM459.7 488.8L452.3 484.4L452.3 493.1ZM472.3 492.7L464.9 488.3L464.9 497.1ZM485 497L477.6 492.6L477.6 501.4ZM497.7 500.9L490.3 496.5L490.3 505.3ZM510.3 504.1L502.9 499.8L502.9 508.5ZM523 508L515.6 503.6L515.6 512.3ZM535.7 510.5L528.3 506.1L528.3 514.9ZM548.4 514L540.9 509.6L540.9 518.3ZM561 516.6L553.6 512.2L553.6 520.9ZM573.7 519.2L566.3 514.8L566.3 523.6ZM586.4 521.4L579 517L579 525.8ZM599 523.7L591.6 519.3L591.6 528ZM611.7 526.3L604.3 521.9L604.3 530.7ZM624.4 528.4L617 524L617 532.7ZM637 530.8L629.6 526.5L629.6 535.2Z" fill="#fff" stroke="#2a4cb4" stroke-width="2.4"/><path d="M175.5 256.2 178.7 249.2 181.9 242.8 185 234.5 188.2 221.7 191.4 205.7 194.6 188.9 197.7 176.1 200.9 166 204.1 158.4 207.2 153.4 210.4 150.3 213.6 147.3 216.7 145.2 219.9 142.9 223.1 145.3 226.2 151.3 229.4 159.1 232.6 167.5 235.7 178.7 238.9 191.6 242.1 203.6 245.2 216.4 248.4 229.8 251.6 243.8 254.7 256.6 257.9 267.4 261.1 276.9 264.2 285.4 267.4 293.6 270.6 302.4 273.7 309.8 276.9 316.8 280.1 323.8 283.2 330.4 286.4 337.2 289.6 343.9 292.7 350 295.9 356.7 299.1 362.9 302.2 368.8 305.4 374.1 308.6 379.2 311.7 384.2 314.9 387.9 318.1 392.3 321.3 396.5 324.4 400.5 327.6 404.4 330.8 407.8 333.9 410.5 337.1 414.8 340.3 417.4 343.4 420.3 346.6 423.5 349.8 426.5 352.9 429.1 356.1 432.3 359.3 434.6 362.4 437 365.6 440.1 368.8 442.5 371.9 444.7 375.1 446.9 378.3 449 391.6 458.1 404.2 466 416.9 472.9 429.6 478.5 442.2 483.7 454.9 488.8 467.6 492.9 480.3 497 492.9 500.6 505.6 504.5 518.3 507.5 530.9 511 543.6 513.9 556.3 516.6 569 518.9 581.6 520.9 594.3 523.8 607 526.1 619.6 528.3 632.3 531" fill="none" stroke="#3464b4" stroke-width="2.0"/><path d="M171.6 256.2a3.9 3.9 0 1 0 7.8 0a3.9 3.9 0 1 0 -7.8 0ZM174.8 249.2a3.9 3.9 0 1 0 7.8 0a3.9 3.9 0 1 0 -7.8 0ZM178 242.8a3.9 3.9 0 1 0 7.8 0a3.9 3.9 0 1 0 -7.8 0ZM181.1 234.5a3.9 3.9 0 1 0 7.8 0a3.9 3.9 0 1 0 -7.8 0ZM184.3 221.7a3.9 3.9 0 1 0 7.8 0a3.9 3.9 0 1 0 -7.8 0ZM187.5 205.7a3.9 3.9 0 1 0 7.8 0a3.9 3.9 0 1 0 -7.8 0ZM190.7 188.9a3.9 3.9 0 1 0 7.8 0a3.9 3.9 0 1 0 -7.8 0ZM193.8 176.1a3.9 3.9 0 1 0 7.8 0a3.9 3.9 0 1 0 -7.8 0ZM197 166a3.9 3.9 0 1 0 7.8 0a3.9 3.9 0 1 0 -7.8 0ZM200.2 158.4a3.9 3.9 0 1 0 7.8 0a3.9 3.9 0 1 0 -7.8 0ZM203.3 153.4a3.9 3.9 0 1 0 7.8 0a3.9 3.9 0 1 0 -7.8 0ZM206.5 150.3a3.9 3.9 0 1 0 7.8 0a3.9 3.9 0 1 0 -7.8 0ZM209.7 147.3a3.9 3.9 0 1 0 7.8 0a3.9 3.9 0 1 0 -7.8 0ZM212.8 145.2a3.9 3.9 0 1 0 7.8 0a3.9 3.9 0 1 0 -7.8 0ZM216 142.9a3.9 3.9 0 1 0 7.8 0a3.9 3.9 0 1 0 -7.8 0ZM219.2 145.3a3.9 3.9 0 1 0 7.8 0a3.9 3.9 0 1 0 -7.8 0ZM222.3 151.3a3.9 3.9 0 1 0 7.8 0a3.9 3.9 0 1 0 -7.8 0ZM225.5 159.1a3.9 3.9 0 1 0 7.8 0a3.9 3.9 0 1 0 -7.8 0ZM228.7 167.5a3.9 3.9 0 1 0 7.8 0a3.9 3.9 0 1 0 -7.8 0ZM231.8 178.7a3.9 3.9 0 1 0 7.8 0a3.9 3.9 0 1 0 -7.8 0ZM235 191.6a3.9 3.9 0 1 0 7.8 0a3.9 3.9 0 1 0 -7.8 0ZM238.2 203.6a3.9 3.9 0 1 0 7.8 0a3.9 3.9 0 1 0 -7.8 0ZM241.3 216.4a3.9 3.9 0 1 0 7.8 0a3.9 3.9 0 1 0 -7.8 0ZM244.5 229.8a3.9 3.9 0 1 0 7.8 0a3.9 3.9 0 1 0 -7.8 0ZM247.7 243.8a3.9 3.9 0 1 0 7.8 0a3.9 3.9 0 1 0 -7.8 0ZM250.8 256.6a3.9 3.9 0 1 0 7.8 0a3.9 3.9 0 1 0 -7.8 0ZM254 267.4a3.9 3.9 0 1 0 7.8 0a3.9 3.9 0 1 0 -7.8 0ZM257.2 276.9a3.9 3.9 0 1 0 7.8 0a3.9 3.9 0 1 0 -7.8 0ZM260.3 285.4a3.9 3.9 0 1 0 7.8 0a3.9 3.9 0 1 0 -7.8 0ZM263.5 293.6a3.9 3.9 0 1 0 7.8 0a3.9 3.9 0 1 0 -7.8 0ZM266.7 302.4a3.9 3.9 0 1 0 7.8 0a3.9 3.9 0 1 0 -7.8 0ZM269.8 309.8a3.9 3.9 0 1 0 7.8 0a3.9 3.9 0 1 0 -7.8 0ZM273 316.8a3.9 3.9 0 1 0 7.8 0a3.9 3.9 0 1 0 -7.8 0ZM276.2 323.8a3.9 3.9 0 1 0 7.8 0a3.9 3.9 0 1 0 -7.8 0ZM279.3 330.4a3.9 3.9 0 1 0 7.8 0a3.9 3.9 0 1 0 -7.8 0ZM282.5 337.2a3.9 3.9 0 1 0 7.8 0a3.9 3.9 0 1 0 -7.8 0ZM285.7 343.9a3.9 3.9 0 1 0 7.8 0a3.9 3.9 0 1 0 -7.8 0ZM288.8 350a3.9 3.9 0 1 0 7.8 0a3.9 3.9 0 1 0 -7.8 0ZM292 356.7a3.9 3.9 0 1 0 7.8 0a3.9 3.9 0 1 0 -7.8 0ZM295.2 362.9a3.9 3.9 0 1 0 7.8 0a3.9 3.9 0 1 0 -7.8 0ZM298.3 368.8a3.9 3.9 0 1 0 7.8 0a3.9 3.9 0 1 0 -7.8 0ZM301.5 374.1a3.9 3.9 0 1 0 7.8 0a3.9 3.9 0 1 0 -7.8 0ZM304.7 379.2a3.9 3.9 0 1 0 7.8 0a3.9 3.9 0 1 0 -7.8 0ZM307.8 384.2a3.9 3.9 0 1 0 7.8 0a3.9 3.9 0 1 0 -7.8 0ZM311 387.9a3.9 3.9 0 1 0 7.8 0a3.9 3.9 0 1 0 -7.8 0ZM314.2 392.3a3.9 3.9 0 1 0 7.8 0a3.9 3.9 0 1 0 -7.8 0ZM317.4 396.5a3.9 3.9 0 1 0 7.8 0a3.9 3.9 0 1 0 -7.8 0ZM320.5 400.5a3.9 3.9 0 1 0 7.8 0a3.9 3.9 0 1 0 -7.8 0ZM323.7 404.4a3.9 3.9 0 1 0 7.8 0a3.9 3.9 0 1 0 -7.8 0ZM326.9 407.8a3.9 3.9 0 1 0 7.8 0a3.9 3.9 0 1 0 -7.8 0ZM330 410.5a3.9 3.9 0 1 0 7.8 0a3.9 3.9 0 1 0 -7.8 0ZM333.2 414.8a3.9 3.9 0 1 0 7.8 0a3.9 3.9 0 1 0 -7.8 0ZM336.4 417.4a3.9 3.9 0 1 0 7.8 0a3.9 3.9 0 1 0 -7.8 0ZM339.5 420.3a3.9 3.9 0 1 0 7.8 0a3.9 3.9 0 1 0 -7.8 0ZM342.7 423.5a3.9 3.9 0 1 0 7.8 0a3.9 3.9 0 1 0 -7.8 0ZM345.9 426.5a3.9 3.9 0 1 0 7.8 0a3.9 3.9 0 1 0 -7.8 0ZM349 429.1a3.9 3.9 0 1 0 7.8 0a3.9 3.9 0 1 0 -7.8 0ZM352.2 432.3a3.9 3.9 0 1 0 7.8 0a3.9 3.9 0 1 0 -7.8 0ZM355.4 434.6a3.9 3.9 0 1 0 7.8 0a3.9 3.9 0 1 0 -7.8 0ZM358.5 437a3.9 3.9 0 1 0 7.8 0a3.9 3.9 0 1 0 -7.8 0ZM361.7 440.1a3.9 3.9 0 1 0 7.8 0a3.9 3.9 0 1 0 -7.8 0ZM364.9 442.5a3.9 3.9 0 1 0 7.8 0a3.9 3.9 0 1 0 -7.8 0ZM368 444.7a3.9 3.9 0 1 0 7.8 0a3.9 3.9 0 1 0 -7.8 0ZM371.2 446.9a3.9 3.9 0 1 0 7.8 0a3.9 3.9 0 1 0 -7.8 0ZM374.4 449a3.9 3.9 0 1 0 7.8 0a3.9 3.9 0 1 0 -7.8 0ZM387.7 458.1a3.9 3.9 0 1 0 7.8 0a3.9 3.9 0 1 0 -7.8 0ZM400.3 466a3.9 3.9 0 1 0 7.8 0a3.9 3.9 0 1 0 -7.8 0ZM413 472.9a3.9 3.9 0 1 0 7.8 0a3.9 3.9 0 1 0 -7.8 0ZM425.7 478.5a3.9 3.9 0 1 0 7.8 0a3.9 3.9 0 1 0 -7.8 0ZM438.4 483.7a3.9 3.9 0 1 0 7.8 0a3.9 3.9 0 1 0 -7.8 0ZM451 488.8a3.9 3.9 0 1 0 7.8 0a3.9 3.9 0 1 0 -7.8 0ZM463.7 492.9a3.9 3.9 0 1 0 7.8 0a3.9 3.9 0 1 0 -7.8 0ZM476.4 497a3.9 3.9 0 1 0 7.8 0a3.9 3.9 0 1 0 -7.8 0ZM489 500.6a3.9 3.9 0 1 0 7.8 0a3.9 3.9 0 1 0 -7.8 0ZM501.7 504.5a3.9 3.9 0 1 0 7.8 0a3.9 3.9 0 1 0 -7.8 0ZM514.4 507.5a3.9 3.9 0 1 0 7.8 0a3.9 3.9 0 1 0 -7.8 0ZM527 511a3.9 3.9 0 1 0 7.8 0a3.9 3.9 0 1 0 -7.8 0ZM539.7 513.9a3.9 3.9 0 1 0 7.8 0a3.9 3.9 0 1 0 -7.8 0ZM552.4 516.6a3.9 3.9 0 1 0 7.8 0a3.9 3.9 0 1 0 -7.8 0ZM565.1 518.9a3.9 3.9 0 1 0 7.8 0a3.9 3.9 0 1 0 -7.8 0ZM577.7 520.9a3.9 3.9 0 1 0 7.8 0a3.9 3.9 0 1 0 -7.8 0ZM590.4 523.8a3.9 3.9 0 1 0 7.8 0a3.9 3.9 0 1 0 -7.8 0ZM603.1 526.1a3.9 3.9 0 1 0 7.8 0a3.9 3.9 0 1 0 -7.8 0ZM615.7 528.3a3.9 3.9 0 1 0 7.8 0a3.9 3.9 0 1 0 -7.8 0ZM628.4 531a3.9 3.9 0 1 0 7.8 0a3.9 3.9 0 1 0 -7.8 0Z" fill="#fff" stroke="#3464b4" stroke-width="2.4"/><path d="M176.8 262 180 257 183.1 249.6 186.3 241.8 189.5 230.6 192.7 215.4 195.8 198.6 199 186.6 202.2 176.5 205.3 170 208.5 167.7 211.7 164.8 214.8 161.5 218 157.5 221.2 155.2 224.3 154.8 227.5 157.7 230.7 166 233.8 175.9 237 186.5 240.2 196.8 243.3 208.8 246.5 221.9 249.7 235.2 252.8 248.3 256 260.4 259.2 271.3 262.3 280.8 265.5 289.5 268.7 297.5 271.8 305 275 312.2 278.2 319.7 281.3 326.4 284.5 333.6 287.7 339.6 290.8 346.7 294 352.8 297.2 359.3 300.3 365.1 303.5 370.8 306.7 375.4 309.8 380.8 313 385.5 316.2 390.1 319.4 394.2 322.5 397.9 325.7 401.4 328.9 405.8 332 409.2 335.2 412.4 338.4 415.7 341.5 419.1 344.7 421.7 347.9 424.5 351 427.9 354.2 430.3 357.4 432.9 360.5 435.5 363.7 438.4 366.9 440.3 370 443.2 373.2 445.9 376.4 447.8 391.6 458.5 404.2 465.7 416.9 472.9 429.6 478.4 442.2 483.9 454.9 488.3 467.6 492.8 480.3 497 492.9 500.8 505.6 504.1 518.3 507.9 530.9 510.8 543.6 513.8 556.3 516.5 569 519 581.6 520.9 594.3 523.8 607 526 619.6 528.5 632.3 530.5" fill="none" stroke="#4482ac" stroke-width="2.0"/><path d="M173.7 258.8h6.2v6.2h-6.2ZM176.9 253.9h6.2v6.2h-6.2ZM180 246.4h6.2v6.2h-6.2ZM183.2 238.7h6.2v6.2h-6.2ZM186.4 227.5h6.2v6.2h-6.2ZM189.5 212.3h6.2v6.2h-6.2ZM192.7 195.5h6.2v6.2h-6.2ZM195.9 183.5h6.2v6.2h-6.2ZM199 173.4h6.2v6.2h-6.2ZM202.2 166.9h6.2v6.2h-6.2ZM205.4 164.6h6.2v6.2h-6.2ZM208.5 161.7h6.2v6.2h-6.2ZM211.7 158.3h6.2v6.2h-6.2ZM214.9 154.4h6.2v6.2h-6.2ZM218 152.1h6.2v6.2h-6.2ZM221.2 151.7h6.2v6.2h-6.2ZM224.4 154.6h6.2v6.2h-6.2ZM227.5 162.8h6.2v6.2h-6.2ZM230.7 172.8h6.2v6.2h-6.2ZM233.9 183.4h6.2v6.2h-6.2ZM237 193.7h6.2v6.2h-6.2ZM240.2 205.6h6.2v6.2h-6.2ZM243.4 218.8h6.2v6.2h-6.2ZM246.5 232.1h6.2v6.2h-6.2ZM249.7 245.2h6.2v6.2h-6.2ZM252.9 257.3h6.2v6.2h-6.2ZM256 268.2h6.2v6.2h-6.2ZM259.2 277.7h6.2v6.2h-6.2ZM262.4 286.4h6.2v6.2h-6.2ZM265.6 294.4h6.2v6.2h-6.2ZM268.7 301.9h6.2v6.2h-6.2ZM271.9 309.1h6.2v6.2h-6.2ZM275.1 316.6h6.2v6.2h-6.2ZM278.2 323.3h6.2v6.2h-6.2ZM281.4 330.5h6.2v6.2h-6.2ZM284.6 336.5h6.2v6.2h-6.2ZM287.7 343.6h6.2v6.2h-6.2ZM290.9 349.7h6.2v6.2h-6.2ZM294.1 356.2h6.2v6.2h-6.2ZM297.2 361.9h6.2v6.2h-6.2ZM300.4 367.7h6.2v6.2h-6.2ZM303.6 372.3h6.2v6.2h-6.2ZM306.7 377.6h6.2v6.2h-6.2ZM309.9 382.4h6.2v6.2h-6.2ZM313.1 387h6.2v6.2h-6.2ZM316.2 391.1h6.2v6.2h-6.2ZM319.4 394.7h6.2v6.2h-6.2ZM322.6 398.3h6.2v6.2h-6.2ZM325.7 402.7h6.2v6.2h-6.2ZM328.9 406.1h6.2v6.2h-6.2ZM332.1 409.2h6.2v6.2h-6.2ZM335.2 412.6h6.2v6.2h-6.2ZM338.4 416h6.2v6.2h-6.2ZM341.6 418.6h6.2v6.2h-6.2ZM344.7 421.4h6.2v6.2h-6.2ZM347.9 424.8h6.2v6.2h-6.2ZM351.1 427.2h6.2v6.2h-6.2ZM354.2 429.7h6.2v6.2h-6.2ZM357.4 432.4h6.2v6.2h-6.2ZM360.6 435.3h6.2v6.2h-6.2ZM363.7 437.2h6.2v6.2h-6.2ZM366.9 440.1h6.2v6.2h-6.2ZM370.1 442.7h6.2v6.2h-6.2ZM373.2 444.7h6.2v6.2h-6.2ZM388.4 455.4h6.2v6.2h-6.2ZM401.1 462.6h6.2v6.2h-6.2ZM413.8 469.8h6.2v6.2h-6.2ZM426.5 475.2h6.2v6.2h-6.2ZM439.1 480.8h6.2v6.2h-6.2ZM451.8 485.2h6.2v6.2h-6.2ZM464.5 489.7h6.2v6.2h-6.2ZM477.1 493.9h6.2v6.2h-6.2ZM489.8 497.7h6.2v6.2h-6.2ZM502.5 501h6.2v6.2h-6.2ZM515.2 504.8h6.2v6.2h-6.2ZM527.8 507.6h6.2v6.2h-6.2ZM540.5 510.6h6.2v6.2h-6.2ZM553.2 513.4h6.2v6.2h-6.2ZM565.8 515.9h6.2v6.2h-6.2ZM578.5 517.7h6.2v6.2h-6.2ZM591.2 520.7h6.2v6.2h-6.2ZM603.8 522.9h6.2v6.2h-6.2ZM616.5 525.3h6.2v6.2h-6.2ZM629.2 527.4h6.2v6.2h-6.2Z" fill="#fff" stroke="#4482ac" stroke-width="2.4"/><path d="M174.9 275.4 178.1 268.4 181.2 264.4 184.4 258.9 187.6 251 190.8 239.7 193.9 224.4 197.1 209.3 200.3 196.7 203.4 187.9 206.6 183 209.8 181.5 212.9 178.6 216.1 175.2 219.3 171 222.4 168.2 225.6 166.4 228.8 165.9 231.9 173.6 235.1 183.3 238.3 194.1 241.4 204.2 244.6 215.5 247.8 228.1 250.9 241.6 254.1 253.9 257.3 265 260.4 275.3 263.6 284 266.8 292.7 269.9 300.6 273.1 308.1 276.3 315.3 279.4 322 282.6 329.1 285.8 336.2 288.9 342.6 292.1 349.1 295.3 355.3 298.4 361.4 301.6 367.1 304.8 373.2 307.9 377.8 311.1 382.4 314.3 387.6 317.5 391.1 320.6 395.6 323.8 399.6 327 403.8 330.1 406.6 333.3 410.6 336.5 413.7 339.6 416.7 342.8 420.2 346 423.1 349.1 426.1 352.3 428.7 355.5 431.3 358.6 434.1 361.8 436.7 365 439.4 368.1 441.8 371.3 444.4 374.5 446.2 377.6 448.9 391.6 458.7 404.2 466.1 416.9 472.3 429.6 478.8 442.2 483.9 454.9 488.5 467.6 493.2 480.3 496.9 492.9 500.5 505.6 504.4 518.3 507.4 530.9 511 543.6 514 556.3 516.6 569 519.1 581.6 521.6 594.3 523.7 607 526.4 619.6 528.6 632.3 531" fill="none" stroke="#56a8a8" stroke-width="3.0"/><path d="M174.9 270.6L179.3 278L170.5 278ZM178.1 263.7L182.4 271.1L173.7 271.1ZM181.2 259.6L185.6 267L176.9 267ZM184.4 254.1L188.8 261.5L180 261.5ZM187.6 246.3L192 253.7L183.2 253.7ZM190.8 235L195.1 242.4L186.4 242.4ZM193.9 219.7L198.3 227.1L189.6 227.1ZM197.1 204.5L201.5 211.9L192.7 211.9ZM200.3 191.9L204.6 199.3L195.9 199.3ZM203.4 183.1L207.8 190.5L199.1 190.5ZM206.6 178.3L211 185.7L202.2 185.7ZM209.8 176.7L214.1 184.1L205.4 184.1ZM212.9 173.8L217.3 181.2L208.6 181.2ZM216.1 170.5L220.5 177.9L211.7 177.9ZM219.3 166.3L223.6 173.7L214.9 173.7ZM222.4 163.5L226.8 170.9L218.1 170.9ZM225.6 161.6L230 169L221.2 169ZM228.8 161.2L233.1 168.6L224.4 168.6ZM231.9 168.9L236.3 176.3L227.6 176.3ZM235.1 178.5L239.5 185.9L230.7 185.9ZM238.3 189.3L242.6 196.7L233.9 196.7ZM241.4 199.4L245.8 206.8L237.1 206.8ZM244.6 210.8L249 218.2L240.2 218.2ZM247.8 223.4L252.1 230.8L243.4 230.8ZM250.9 236.9L255.3 244.3L246.6 244.3ZM254.1 249.2L258.5 256.6L249.7 256.6ZM257.3 260.3L261.6 267.7L252.9 267.7ZM260.4 270.5L264.8 277.9L256.1 277.9ZM263.6 279.2L268 286.6L259.2 286.6ZM266.8 287.9L271.1 295.3L262.4 295.3ZM269.9 295.8L274.3 303.3L265.6 303.3ZM273.1 303.4L277.5 310.8L268.7 310.8ZM276.3 310.6L280.6 318L271.9 318ZM279.4 317.3L283.8 324.7L275.1 324.7ZM282.6 324.3L287 331.7L278.2 331.7ZM285.8 331.4L290.1 338.8L281.4 338.8ZM288.9 337.9L293.3 345.3L284.6 345.3ZM292.1 344.4L296.5 351.8L287.7 351.8ZM295.3 350.5L299.6 357.9L290.9 357.9ZM298.4 356.7L302.8 364.1L294.1 364.1ZM301.6 362.4L306 369.8L297.2 369.8ZM304.8 368.4L309.1 375.8L300.4 375.8ZM307.9 373.1L312.3 380.5L303.6 380.5ZM311.1 377.6L315.5 385.1L306.7 385.1ZM314.3 382.9L318.7 390.3L309.9 390.3ZM317.5 386.4L321.8 393.8L313.1 393.8ZM320.6 390.8L325 398.2L316.3 398.2ZM323.8 394.9L328.2 402.3L319.4 402.3ZM327 399L331.3 406.4L322.6 406.4ZM330.1 401.8L334.5 409.3L325.8 409.3ZM333.3 405.8L337.7 413.2L328.9 413.2ZM336.5 409L340.8 416.4L332.1 416.4ZM339.6 411.9L344 419.3L335.3 419.3ZM342.8 415.4L347.2 422.8L338.4 422.8ZM346 418.4L350.3 425.8L341.6 425.8ZM349.1 421.4L353.5 428.8L344.8 428.8ZM352.3 424L356.7 431.4L347.9 431.4ZM355.5 426.6L359.8 434L351.1 434ZM358.6 429.3L363 436.7L354.3 436.7ZM361.8 432L366.2 439.4L357.4 439.4ZM365 434.7L369.3 442.1L360.6 442.1ZM368.1 437.1L372.5 444.5L363.8 444.5ZM371.3 439.7L375.7 447.1L366.9 447.1ZM374.5 441.4L378.8 448.8L370.1 448.8ZM377.6 444.1L382 451.5L373.3 451.5ZM391.6 453.9L395.9 461.3L387.2 461.3ZM404.2 461.4L408.6 468.8L399.9 468.8ZM416.9 467.6L421.3 475L412.5 475ZM429.6 474L433.9 481.5L425.2 481.5ZM442.2 479.1L446.6 486.5L437.9 486.5ZM454.9 483.7L459.3 491.1L450.6 491.1ZM467.6 488.4L472 495.8L463.2 495.8ZM480.3 492.1L484.6 499.5L475.9 499.5ZM492.9 495.7L497.3 503.2L488.6 503.2ZM505.6 499.7L510 507.1L501.2 507.1ZM518.3 502.7L522.6 510.1L513.9 510.1ZM530.9 506.2L535.3 513.7L526.6 513.7ZM543.6 509.3L548 516.7L539.2 516.7ZM556.3 511.8L560.6 519.2L551.9 519.2ZM569 514.3L573.3 521.7L564.6 521.7ZM581.6 516.8L586 524.2L577.3 524.2ZM594.3 518.9L598.7 526.3L589.9 526.3ZM607 521.6L611.3 529.1L602.6 529.1ZM619.6 523.9L624 531.3L615.3 531.3ZM632.3 526.2L636.7 533.6L627.9 533.6Z" fill="#fff" stroke="#56a8a8" stroke-width="2.4"/><path d="M176.2 281.6 179.3 276.1 182.5 271.6 185.7 266.5 188.9 258.9 192 248.3 195.2 234.6 198.4 219.5 201.5 206.9 204.7 199.1 207.9 195.6 211 193.5 214.2 191.6 217.4 188.5 220.5 184.1 223.7 179.9 226.9 177.6 230 177.7 233.2 180.4 236.4 190.1 239.5 200.7 242.7 211.8 245.9 222.6 249 234.3 252.2 246.4 255.4 258.9 258.5 269.2 261.7 279.2 264.9 287.6 268 295.6 271.2 304.1 274.4 311 277.5 318.1 280.7 325.2 283.9 332.1 287 339.2 290.2 344.9 293.4 351.9 296.5 358.2 299.7 363.6 302.9 370 306 374.6 309.2 379.8 312.4 384.4 315.6 389 318.7 393.5 321.9 397.7 325.1 400.7 328.2 404.9 331.4 408.4 334.6 411.2 337.7 415.1 340.9 418.1 344.1 421.2 347.2 424.1 350.4 427.2 353.6 429.9 356.7 432.3 359.9 435.1 363.1 438.5 366.2 440.8 369.4 442.7 372.6 445.2 375.7 447.6 378.9 449.6 391.6 458.6 404.2 465.6 416.9 472.6 429.6 478.4 442.2 483.7 454.9 488.4 467.6 493 480.3 497.2 492.9 500.7 505.6 504.3 518.3 507.8 530.9 510.6 543.6 513.6 556.3 516.4 569 519.1 581.6 521.4 594.3 523.9 607 526.3 619.6 528.5 632.3 530.8" fill="none" stroke="#58a88e" stroke-width="3.0"/><path d="M176.2 286.4L180.5 279L171.8 279ZM179.3 280.8L183.7 273.4L175 273.4ZM182.5 276.3L186.9 268.9L178.1 268.9ZM185.7 271.2L190.1 263.8L181.3 263.8ZM188.9 263.6L193.2 256.2L184.5 256.2ZM192 253L196.4 245.6L187.6 245.6ZM195.2 239.3L199.6 231.9L190.8 231.9ZM198.4 224.2L202.7 216.8L194 216.8ZM201.5 211.7L205.9 204.3L197.2 204.3ZM204.7 203.8L209.1 196.4L200.3 196.4ZM207.9 200.4L212.2 192.9L203.5 192.9ZM211 198.2L215.4 190.8L206.7 190.8ZM214.2 196.4L218.6 189L209.8 189ZM217.4 193.3L221.7 185.9L213 185.9ZM220.5 188.8L224.9 181.4L216.2 181.4ZM223.7 184.7L228.1 177.3L219.3 177.3ZM226.9 182.4L231.2 175L222.5 175ZM230 182.5L234.4 175.1L225.7 175.1ZM233.2 185.1L237.6 177.7L228.8 177.7ZM236.4 194.9L240.7 187.5L232 187.5ZM239.5 205.5L243.9 198.1L235.2 198.1ZM242.7 216.5L247.1 209.1L238.3 209.1ZM245.9 227.3L250.2 219.9L241.5 219.9ZM249 239L253.4 231.6L244.7 231.6ZM252.2 251.2L256.6 243.7L247.8 243.7ZM255.4 263.6L259.7 256.2L251 256.2ZM258.5 273.9L262.9 266.5L254.2 266.5ZM261.7 283.9L266.1 276.5L257.3 276.5ZM264.9 292.3L269.2 284.9L260.5 284.9ZM268 300.4L272.4 293L263.7 293ZM271.2 308.8L275.6 301.4L266.8 301.4ZM274.4 315.8L278.7 308.3L270 308.3ZM277.5 322.8L281.9 315.4L273.2 315.4ZM280.7 330L285.1 322.5L276.3 322.5ZM283.9 336.8L288.2 329.4L279.5 329.4ZM287 344L291.4 336.6L282.7 336.6ZM290.2 349.6L294.6 342.2L285.8 342.2ZM293.4 356.7L297.7 349.3L289 349.3ZM296.5 363L300.9 355.6L292.2 355.6ZM299.7 368.4L304.1 361L295.3 361ZM302.9 374.8L307.2 367.3L298.5 367.3ZM306 379.3L310.4 371.9L301.7 371.9ZM309.2 384.5L313.6 377.1L304.8 377.1ZM312.4 389.2L316.8 381.7L308 381.7ZM315.6 393.8L319.9 386.4L311.2 386.4ZM318.7 398.3L323.1 390.9L314.3 390.9ZM321.9 402.5L326.3 395.1L317.5 395.1ZM325.1 405.4L329.4 398L320.7 398ZM328.2 409.6L332.6 402.2L323.9 402.2ZM331.4 413.1L335.8 405.7L327 405.7ZM334.6 416L338.9 408.6L330.2 408.6ZM337.7 419.8L342.1 412.4L333.4 412.4ZM340.9 422.9L345.3 415.4L336.5 415.4ZM344.1 425.9L348.4 418.5L339.7 418.5ZM347.2 428.9L351.6 421.5L342.9 421.5ZM350.4 432L354.8 424.6L346 424.6ZM353.6 434.7L357.9 427.3L349.2 427.3ZM356.7 437L361.1 429.6L352.4 429.6ZM359.9 439.8L364.3 432.4L355.5 432.4ZM363.1 443.3L367.4 435.8L358.7 435.8ZM366.2 445.5L370.6 438.1L361.9 438.1ZM369.4 447.5L373.8 440.1L365 440.1ZM372.6 450L376.9 442.6L368.2 442.6ZM375.7 452.4L380.1 445L371.4 445ZM378.9 454.3L383.3 446.9L374.5 446.9ZM391.6 463.4L395.9 456L387.2 456ZM404.2 470.4L408.6 463L399.9 463ZM416.9 477.4L421.3 469.9L412.5 469.9ZM429.6 483.2L433.9 475.7L425.2 475.7ZM442.2 488.5L446.6 481.1L437.9 481.1ZM454.9 493.1L459.3 485.7L450.6 485.7ZM467.6 497.8L472 490.3L463.2 490.3ZM480.3 501.9L484.6 494.5L475.9 494.5ZM492.9 505.4L497.3 498L488.6 498ZM505.6 509L510 501.6L501.2 501.6ZM518.3 512.6L522.6 505.2L513.9 505.2ZM530.9 515.3L535.3 507.9L526.6 507.9ZM543.6 518.4L548 511L539.2 511ZM556.3 521.1L560.6 513.7L551.9 513.7ZM569 523.8L573.3 516.4L564.6 516.4ZM581.6 526.2L586 518.7L577.3 518.7ZM594.3 528.6L598.7 521.2L589.9 521.2ZM607 531L611.3 523.6L602.6 523.6ZM619.6 533.2L624 525.8L615.3 525.8ZM632.3 535.5L636.7 528.1L627.9 528.1Z" fill="#fff" stroke="#58a88e" stroke-width="2.4"/><path d="M174.3 292.7 177.4 288.1 180.6 284.5 183.8 279.9 186.9 274.3 190.1 266.8 193.3 257.4 196.5 243.5 199.6 229.4 202.8 217.9 206 211.6 209.1 207.7 212.3 206.2 215.5 203.6 218.6 201 221.8 195.7 225 192.6 228.1 190.4 231.3 189.5 234.5 191.4 237.6 197.6 240.8 208.2 244 218.2 247.1 229.1 250.3 241.7 253.5 253.1 256.6 264.3 259.8 273.4 263 282.3 266.1 290.8 269.3 298.8 272.5 306.2 275.6 313.9 278.8 320.7 282 328.2 285.1 334.9 288.3 341.3 291.5 348.1 294.6 354 297.8 359.9 301 366 304.1 371.9 307.3 377.1 310.5 381.4 313.6 386.6 316.8 390.7 320 394.9 323.2 398.8 326.3 402.3 329.5 406.3 332.7 410 335.8 412.6 339 416.1 342.2 419.1 345.3 422.3 348.5 425.1 351.7 427.8 354.8 430.6 358 433.7 361.2 436.4 364.3 438.8 367.5 441.3 370.7 443.7 373.8 446.3 377 449 391.6 458.1 404.2 465.7 416.9 472.5 429.6 478.2 442.2 483.6 454.9 488.6 467.6 492.8 480.3 497.1 492.9 500.6 505.6 504.2 518.3 507.5 530.9 510.8 543.6 513.8 556.3 516.9 569 519.1 581.6 521.8 594.3 523.7 607 526 619.6 528.2 632.3 530.7" fill="none" stroke="#5aaa74" stroke-width="2.0"/><path d="M169.5 292.7L176.9 288.3L176.9 297ZM172.7 288.1L180.1 283.7L180.1 292.4ZM175.9 284.5L183.3 280.1L183.3 288.9ZM179 279.9L186.4 275.5L186.4 284.2ZM182.2 274.3L189.6 269.9L189.6 278.6ZM185.4 266.8L192.8 262.4L192.8 271.2ZM188.5 257.4L196 253L196 261.7ZM191.7 243.5L199.1 239.1L199.1 247.9ZM194.9 229.4L202.3 225L202.3 233.8ZM198 217.9L205.5 213.5L205.5 222.2ZM201.2 211.6L208.6 207.2L208.6 216ZM204.4 207.7L211.8 203.4L211.8 212.1ZM207.5 206.2L215 201.8L215 210.6ZM210.7 203.6L218.1 199.3L218.1 208ZM213.9 201L221.3 196.7L221.3 205.4ZM217 195.7L224.5 191.4L224.5 200.1ZM220.2 192.6L227.6 188.2L227.6 197ZM223.4 190.4L230.8 186L230.8 194.8ZM226.6 189.5L234 185.1L234 193.8ZM229.7 191.4L237.1 187L237.1 195.8ZM232.9 197.6L240.3 193.2L240.3 202ZM236.1 208.2L243.5 203.8L243.5 212.6ZM239.2 218.2L246.6 213.8L246.6 222.6ZM242.4 229.1L249.8 224.7L249.8 233.5ZM245.6 241.7L253 237.4L253 246.1ZM248.7 253.1L256.1 248.7L256.1 257.4ZM251.9 264.3L259.3 259.9L259.3 268.7ZM255.1 273.4L262.5 269.1L262.5 277.8ZM258.2 282.3L265.6 277.9L265.6 286.7ZM261.4 290.8L268.8 286.4L268.8 295.2ZM264.6 298.8L272 294.4L272 303.2ZM267.7 306.2L275.1 301.8L275.1 310.6ZM270.9 313.9L278.3 309.5L278.3 318.3ZM274.1 320.7L281.5 316.3L281.5 325ZM277.2 328.2L284.6 323.8L284.6 332.5ZM280.4 334.9L287.8 330.5L287.8 339.3ZM283.6 341.3L291 336.9L291 345.6ZM286.7 348.1L294.1 343.7L294.1 352.5ZM289.9 354L297.3 349.6L297.3 358.4ZM293.1 359.9L300.5 355.5L300.5 364.2ZM296.2 366L303.6 361.6L303.6 370.4ZM299.4 371.9L306.8 367.5L306.8 376.3ZM302.6 377.1L310 372.8L310 381.5ZM305.7 381.4L313.1 377.1L313.1 385.8ZM308.9 386.6L316.3 382.2L316.3 391ZM312.1 390.7L319.5 386.3L319.5 395ZM315.2 394.9L322.7 390.5L322.7 399.3ZM318.4 398.8L325.8 394.4L325.8 403.1ZM321.6 402.3L329 397.9L329 406.6ZM324.7 406.3L332.2 401.9L332.2 410.7ZM327.9 410L335.3 405.6L335.3 414.4ZM331.1 412.6L338.5 408.2L338.5 417ZM334.2 416.1L341.7 411.8L341.7 420.5ZM337.4 419.1L344.8 414.7L344.8 423.5ZM340.6 422.3L348 417.9L348 426.7ZM343.7 425.1L351.2 420.7L351.2 429.4ZM346.9 427.8L354.3 423.5L354.3 432.2ZM350.1 430.6L357.5 426.2L357.5 435ZM353.3 433.7L360.7 429.3L360.7 438.1ZM356.4 436.4L363.8 432L363.8 440.7ZM359.6 438.8L367 434.4L367 443.1ZM362.8 441.3L370.2 436.9L370.2 445.7ZM365.9 443.7L373.3 439.3L373.3 448ZM369.1 446.3L376.5 441.9L376.5 450.7ZM372.3 449L379.7 444.6L379.7 453.3ZM386.8 458.1L394.2 453.8L394.2 462.5ZM399.5 465.7L406.9 461.3L406.9 470.1ZM412.2 472.5L419.6 468.1L419.6 476.9ZM424.8 478.2L432.2 473.8L432.2 482.6ZM437.5 483.6L444.9 479.2L444.9 488ZM450.2 488.6L457.6 484.3L457.6 493ZM462.8 492.8L470.3 488.4L470.3 497.1ZM475.5 497.1L482.9 492.7L482.9 501.4ZM488.2 500.6L495.6 496.2L495.6 504.9ZM500.9 504.2L508.3 499.9L508.3 508.6ZM513.5 507.5L520.9 503.2L520.9 511.9ZM526.2 510.8L533.6 506.4L533.6 515.2ZM538.9 513.8L546.3 509.5L546.3 518.2ZM551.5 516.9L558.9 512.5L558.9 521.2ZM564.2 519.1L571.6 514.7L571.6 523.5ZM576.9 521.8L584.3 517.5L584.3 526.2ZM589.5 523.7L597 519.3L597 528.1ZM602.2 526L609.6 521.6L609.6 530.4ZM614.9 528.2L622.3 523.8L622.3 532.5ZM627.6 530.7L635 526.4L635 535.1Z" fill="#fff" stroke="#5aaa74" stroke-width="2.4"/><path d="M175.5 300.8 178.7 296.2 181.9 291 185 287.9 188.2 281.8 191.4 276.5 194.6 266.1 197.7 252.6 200.9 238.8 204.1 228.3 207.2 223.2 210.4 220.7 213.6 218.3 216.7 215.6 219.9 212.5 223.1 208.8 226.2 205.3 229.4 201.3 232.6 200.9 235.7 203.2 238.9 206.8 242.1 214.7 245.2 225.5 248.4 235.9 251.6 247.9 254.7 259.5 257.9 268.6 261.1 277 264.2 286.7 267.4 294.2 270.6 302.2 273.7 309.7 276.9 316.5 280.1 323.9 283.2 331 286.4 337.8 289.6 344 292.7 350.2 295.9 356.6 299.1 362.7 302.2 368.4 305.4 373.5 308.6 378.8 311.7 383.9 314.9 388.2 318.1 392.1 321.3 396.6 324.4 400.4 327.6 404 330.8 407.8 333.9 410.8 337.1 414.8 340.3 417.1 343.4 420.6 346.6 423.8 349.8 426.3 352.9 429.7 356.1 431.9 359.3 434.5 362.4 437.4 365.6 439.9 368.8 442.1 371.9 444.9 375.1 447.1 378.3 449.3 391.6 457.9 404.2 466 416.9 472.6 429.6 478.3 442.2 484.3 454.9 488.6 467.6 493.3 480.3 497.4 492.9 500.4 505.6 504.2 518.3 507.4 530.9 510.9 543.6 513.7 556.3 516.7 569 519.2 581.6 521.5 594.3 523.8 607 525.9 619.6 528.5 632.3 530.7" fill="none" stroke="#68b068" stroke-width="2.0"/><path d="M180.3 300.8L172.9 296.4L172.9 305.2ZM183.5 296.2L176 291.9L176 300.6ZM186.6 291L179.2 286.6L179.2 295.3ZM189.8 287.9L182.4 283.5L182.4 292.3ZM193 281.8L185.5 277.4L185.5 286.2ZM196.1 276.5L188.7 272.1L188.7 280.9ZM199.3 266.1L191.9 261.8L191.9 270.5ZM202.5 252.6L195.1 248.2L195.1 256.9ZM205.6 238.8L198.2 234.5L198.2 243.2ZM208.8 228.3L201.4 223.9L201.4 232.7ZM212 223.2L204.6 218.8L204.6 227.5ZM215.1 220.7L207.7 216.3L207.7 225.1ZM218.3 218.3L210.9 213.9L210.9 222.7ZM221.5 215.6L214.1 211.2L214.1 220ZM224.6 212.5L217.2 208.1L217.2 216.8ZM227.8 208.8L220.4 204.5L220.4 213.2ZM231 205.3L223.6 200.9L223.6 209.7ZM234.1 201.3L226.7 196.9L226.7 205.6ZM237.3 200.9L229.9 196.5L229.9 205.3ZM240.5 203.2L233.1 198.8L233.1 207.6ZM243.6 206.8L236.2 202.4L236.2 211.2ZM246.8 214.7L239.4 210.3L239.4 219ZM250 225.5L242.6 221.2L242.6 229.9ZM253.1 235.9L245.7 231.6L245.7 240.3ZM256.3 247.9L248.9 243.6L248.9 252.3ZM259.5 259.5L252.1 255.2L252.1 263.9ZM262.6 268.6L255.2 264.2L255.2 273ZM265.8 277L258.4 272.6L258.4 281.4ZM269 286.7L261.6 282.3L261.6 291.1ZM272.1 294.2L264.7 289.9L264.7 298.6ZM275.3 302.2L267.9 297.9L267.9 306.6ZM278.5 309.7L271.1 305.3L271.1 314.1ZM281.6 316.5L274.2 312.2L274.2 320.9ZM284.8 323.9L277.4 319.5L277.4 328.2ZM288 331L280.6 326.7L280.6 335.4ZM291.2 337.8L283.7 333.4L283.7 342.1ZM294.3 344L286.9 339.6L286.9 348.3ZM297.5 350.2L290.1 345.8L290.1 354.6ZM300.7 356.6L293.2 352.3L293.2 361ZM303.8 362.7L296.4 358.3L296.4 367.1ZM307 368.4L299.6 364L299.6 372.8ZM310.2 373.5L302.7 369.1L302.7 377.8ZM313.3 378.8L305.9 374.4L305.9 383.1ZM316.5 383.9L309.1 379.5L309.1 388.2ZM319.7 388.2L312.2 383.8L312.2 392.6ZM322.8 392.1L315.4 387.7L315.4 396.4ZM326 396.6L318.6 392.2L318.6 401ZM329.2 400.4L321.8 396L321.8 404.8ZM332.3 404L324.9 399.7L324.9 408.4ZM335.5 407.8L328.1 403.5L328.1 412.2ZM338.7 410.8L331.3 406.4L331.3 415.1ZM341.8 414.8L334.4 410.4L334.4 419.2ZM345 417.1L337.6 412.7L337.6 421.4ZM348.2 420.6L340.8 416.2L340.8 425ZM351.3 423.8L343.9 419.4L343.9 428.2ZM354.5 426.3L347.1 422L347.1 430.7ZM357.7 429.7L350.3 425.3L350.3 434ZM360.8 431.9L353.4 427.5L353.4 436.3ZM364 434.5L356.6 430.2L356.6 438.9ZM367.2 437.4L359.8 433.1L359.8 441.8ZM370.3 439.9L362.9 435.6L362.9 444.3ZM373.5 442.1L366.1 437.7L366.1 446.5ZM376.7 444.9L369.3 440.5L369.3 449.3ZM379.8 447.1L372.4 442.7L372.4 451.4ZM383 449.3L375.6 444.9L375.6 453.6ZM396.3 457.9L388.9 453.5L388.9 462.3ZM409 466L401.6 461.6L401.6 470.3ZM421.7 472.6L414.2 468.3L414.2 477ZM434.3 478.3L426.9 473.9L426.9 482.7ZM447 484.3L439.6 479.9L439.6 488.6ZM459.7 488.6L452.3 484.2L452.3 493ZM472.3 493.3L464.9 489L464.9 497.7ZM485 497.4L477.6 493L477.6 501.8ZM497.7 500.4L490.3 496.1L490.3 504.8ZM510.3 504.2L502.9 499.9L502.9 508.6ZM523 507.4L515.6 503L515.6 511.7ZM535.7 510.9L528.3 506.5L528.3 515.2ZM548.4 513.7L540.9 509.4L540.9 518.1ZM561 516.7L553.6 512.3L553.6 521.1ZM573.7 519.2L566.3 514.8L566.3 523.6ZM586.4 521.5L579 517.1L579 525.9ZM599 523.8L591.6 519.4L591.6 528.1ZM611.7 525.9L604.3 521.5L604.3 530.3ZM624.4 528.5L617 524.1L617 532.9ZM637 530.7L629.6 526.4L629.6 535.1Z" fill="#fff" stroke="#68b068" stroke-width="2.4"/><path d="M176.8 308 180 303 183.1 299.9 186.3 295 189.5 290.5 192.7 284.1 195.8 275.1 199 261.9 202.2 248.7 205.3 239.3 208.5 234.5 211.7 232.1 214.8 230.1 218 226.9 221.2 223.1 224.3 219.8 227.5 217.1 230.7 214.9 233.8 212.8 237 213.9 240.2 217.6 243.3 223.1 246.5 233.3 249.7 243.3 252.8 255.5 256 265.1 259.2 275.4 262.3 282.3 265.5 289.8 268.7 298 271.8 305.6 275 312.5 278.2 319.7 281.3 326.6 284.5 333.3 287.7 340.2 290.8 346.6 294 352.7 297.2 359.2 300.3 364.9 303.5 370.8 306.7 375.6 309.8 381.2 313 385.2 316.2 390.7 319.4 394.3 322.5 398.4 325.7 401.5 328.9 405.4 332 409.3 335.2 412.5 338.4 415.2 341.5 418.7 344.7 421.6 347.9 425 351 427.9 354.2 430.2 357.4 432.6 360.5 435.9 363.7 438.2 366.9 441.1 370 443 373.2 445.8 376.4 448.1 391.6 458.7 404.2 466 416.9 472.6 429.6 478.3 442.2 484 454.9 488.4 467.6 493 480.3 497.1 492.9 501 505.6 504.6 518.3 507.8 530.9 510.6 543.6 514.1 556.3 516.7 569 518.9 581.6 521.8 594.3 523.7 607 526.2 619.6 528.5 632.3 530.7" fill="none" stroke="#80b040" stroke-width="3.0"/><path d="M172.9 308a3.9 3.9 0 1 0 7.8 0a3.9 3.9 0 1 0 -7.8 0ZM176.1 303a3.9 3.9 0 1 0 7.8 0a3.9 3.9 0 1 0 -7.8 0ZM179.2 299.9a3.9 3.9 0 1 0 7.8 0a3.9 3.9 0 1 0 -7.8 0ZM182.4 295a3.9 3.9 0 1 0 7.8 0a3.9 3.9 0 1 0 -7.8 0ZM185.6 290.5a3.9 3.9 0 1 0 7.8 0a3.9 3.9 0 1 0 -7.8 0ZM188.8 284.1a3.9 3.9 0 1 0 7.8 0a3.9 3.9 0 1 0 -7.8 0ZM191.9 275.1a3.9 3.9 0 1 0 7.8 0a3.9 3.9 0 1 0 -7.8 0ZM195.1 261.9a3.9 3.9 0 1 0 7.8 0a3.9 3.9 0 1 0 -7.8 0ZM198.3 248.7a3.9 3.9 0 1 0 7.8 0a3.9 3.9 0 1 0 -7.8 0ZM201.4 239.3a3.9 3.9 0 1 0 7.8 0a3.9 3.9 0 1 0 -7.8 0ZM204.6 234.5a3.9 3.9 0 1 0 7.8 0a3.9 3.9 0 1 0 -7.8 0ZM207.8 232.1a3.9 3.9 0 1 0 7.8 0a3.9 3.9 0 1 0 -7.8 0ZM210.9 230.1a3.9 3.9 0 1 0 7.8 0a3.9 3.9 0 1 0 -7.8 0ZM214.1 226.9a3.9 3.9 0 1 0 7.8 0a3.9 3.9 0 1 0 -7.8 0ZM217.3 223.1a3.9 3.9 0 1 0 7.8 0a3.9 3.9 0 1 0 -7.8 0ZM220.4 219.8a3.9 3.9 0 1 0 7.8 0a3.9 3.9 0 1 0 -7.8 0ZM223.6 217.1a3.9 3.9 0 1 0 7.8 0a3.9 3.9 0 1 0 -7.8 0ZM226.8 214.9a3.9 3.9 0 1 0 7.8 0a3.9 3.9 0 1 0 -7.8 0ZM229.9 212.8a3.9 3.9 0 1 0 7.8 0a3.9 3.9 0 1 0 -7.8 0ZM233.1 213.9a3.9 3.9 0 1 0 7.8 0a3.9 3.9 0 1 0 -7.8 0ZM236.3 217.6a3.9 3.9 0 1 0 7.8 0a3.9 3.9 0 1 0 -7.8 0ZM239.4 223.1a3.9 3.9 0 1 0 7.8 0a3.9 3.9 0 1 0 -7.8 0ZM242.6 233.3a3.9 3.9 0 1 0 7.8 0a3.9 3.9 0 1 0 -7.8 0ZM245.8 243.3a3.9 3.9 0 1 0 7.8 0a3.9 3.9 0 1 0 -7.8 0ZM248.9 255.5a3.9 3.9 0 1 0 7.8 0a3.9 3.9 0 1 0 -7.8 0ZM252.1 265.1a3.9 3.9 0 1 0 7.8 0a3.9 3.9 0 1 0 -7.8 0ZM255.3 275.4a3.9 3.9 0 1 0 7.8 0a3.9 3.9 0 1 0 -7.8 0ZM258.4 282.3a3.9 3.9 0 1 0 7.8 0a3.9 3.9 0 1 0 -7.8 0ZM261.6 289.8a3.9 3.9 0 1 0 7.8 0a3.9 3.9 0 1 0 -7.8 0ZM264.8 298a3.9 3.9 0 1 0 7.8 0a3.9 3.9 0 1 0 -7.8 0ZM267.9 305.6a3.9 3.9 0 1 0 7.8 0a3.9 3.9 0 1 0 -7.8 0ZM271.1 312.5a3.9 3.9 0 1 0 7.8 0a3.9 3.9 0 1 0 -7.8 0ZM274.3 319.7a3.9 3.9 0 1 0 7.8 0a3.9 3.9 0 1 0 -7.8 0ZM277.4 326.6a3.9 3.9 0 1 0 7.8 0a3.9 3.9 0 1 0 -7.8 0ZM280.6 333.3a3.9 3.9 0 1 0 7.8 0a3.9 3.9 0 1 0 -7.8 0ZM283.8 340.2a3.9 3.9 0 1 0 7.8 0a3.9 3.9 0 1 0 -7.8 0ZM286.9 346.6a3.9 3.9 0 1 0 7.8 0a3.9 3.9 0 1 0 -7.8 0ZM290.1 352.7a3.9 3.9 0 1 0 7.8 0a3.9 3.9 0 1 0 -7.8 0ZM293.3 359.2a3.9 3.9 0 1 0 7.8 0a3.9 3.9 0 1 0 -7.8 0ZM296.4 364.9a3.9 3.9 0 1 0 7.8 0a3.9 3.9 0 1 0 -7.8 0ZM299.6 370.8a3.9 3.9 0 1 0 7.8 0a3.9 3.9 0 1 0 -7.8 0ZM302.8 375.6a3.9 3.9 0 1 0 7.8 0a3.9 3.9 0 1 0 -7.8 0ZM305.9 381.2a3.9 3.9 0 1 0 7.8 0a3.9 3.9 0 1 0 -7.8 0ZM309.1 385.2a3.9 3.9 0 1 0 7.8 0a3.9 3.9 0 1 0 -7.8 0ZM312.3 390.7a3.9 3.9 0 1 0 7.8 0a3.9 3.9 0 1 0 -7.8 0ZM315.5 394.3a3.9 3.9 0 1 0 7.8 0a3.9 3.9 0 1 0 -7.8 0ZM318.6 398.4a3.9 3.9 0 1 0 7.8 0a3.9 3.9 0 1 0 -7.8 0ZM321.8 401.5a3.9 3.9 0 1 0 7.8 0a3.9 3.9 0 1 0 -7.8 0ZM325 405.4a3.9 3.9 0 1 0 7.8 0a3.9 3.9 0 1 0 -7.8 0ZM328.1 409.3a3.9 3.9 0 1 0 7.8 0a3.9 3.9 0 1 0 -7.8 0ZM331.3 412.5a3.9 3.9 0 1 0 7.8 0a3.9 3.9 0 1 0 -7.8 0ZM334.5 415.2a3.9 3.9 0 1 0 7.8 0a3.9 3.9 0 1 0 -7.8 0ZM337.6 418.7a3.9 3.9 0 1 0 7.8 0a3.9 3.9 0 1 0 -7.8 0ZM340.8 421.6a3.9 3.9 0 1 0 7.8 0a3.9 3.9 0 1 0 -7.8 0ZM344 425a3.9 3.9 0 1 0 7.8 0a3.9 3.9 0 1 0 -7.8 0ZM347.1 427.9a3.9 3.9 0 1 0 7.8 0a3.9 3.9 0 1 0 -7.8 0ZM350.3 430.2a3.9 3.9 0 1 0 7.8 0a3.9 3.9 0 1 0 -7.8 0ZM353.5 432.6a3.9 3.9 0 1 0 7.8 0a3.9 3.9 0 1 0 -7.8 0ZM356.6 435.9a3.9 3.9 0 1 0 7.8 0a3.9 3.9 0 1 0 -7.8 0ZM359.8 438.2a3.9 3.9 0 1 0 7.8 0a3.9 3.9 0 1 0 -7.8 0ZM363 441.1a3.9 3.9 0 1 0 7.8 0a3.9 3.9 0 1 0 -7.8 0ZM366.1 443a3.9 3.9 0 1 0 7.8 0a3.9 3.9 0 1 0 -7.8 0ZM369.3 445.8a3.9 3.9 0 1 0 7.8 0a3.9 3.9 0 1 0 -7.8 0ZM372.5 448.1a3.9 3.9 0 1 0 7.8 0a3.9 3.9 0 1 0 -7.8 0ZM387.7 458.7a3.9 3.9 0 1 0 7.8 0a3.9 3.9 0 1 0 -7.8 0ZM400.3 466a3.9 3.9 0 1 0 7.8 0a3.9 3.9 0 1 0 -7.8 0ZM413 472.6a3.9 3.9 0 1 0 7.8 0a3.9 3.9 0 1 0 -7.8 0ZM425.7 478.3a3.9 3.9 0 1 0 7.8 0a3.9 3.9 0 1 0 -7.8 0ZM438.4 484a3.9 3.9 0 1 0 7.8 0a3.9 3.9 0 1 0 -7.8 0ZM451 488.4a3.9 3.9 0 1 0 7.8 0a3.9 3.9 0 1 0 -7.8 0ZM463.7 493a3.9 3.9 0 1 0 7.8 0a3.9 3.9 0 1 0 -7.8 0ZM476.4 497.1a3.9 3.9 0 1 0 7.8 0a3.9 3.9 0 1 0 -7.8 0ZM489 501a3.9 3.9 0 1 0 7.8 0a3.9 3.9 0 1 0 -7.8 0ZM501.7 504.6a3.9 3.9 0 1 0 7.8 0a3.9 3.9 0 1 0 -7.8 0ZM514.4 507.8a3.9 3.9 0 1 0 7.8 0a3.9 3.9 0 1 0 -7.8 0ZM527 510.6a3.9 3.9 0 1 0 7.8 0a3.9 3.9 0 1 0 -7.8 0ZM539.7 514.1a3.9 3.9 0 1 0 7.8 0a3.9 3.9 0 1 0 -7.8 0ZM552.4 516.7a3.9 3.9 0 1 0 7.8 0a3.9 3.9 0 1 0 -7.8 0ZM565.1 518.9a3.9 3.9 0 1 0 7.8 0a3.9 3.9 0 1 0 -7.8 0ZM577.7 521.8a3.9 3.9 0 1 0 7.8 0a3.9 3.9 0 1 0 -7.8 0ZM590.4 523.7a3.9 3.9 0 1 0 7.8 0a3.9 3.9 0 1 0 -7.8 0ZM603.1 526.2a3.9 3.9 0 1 0 7.8 0a3.9 3.9 0 1 0 -7.8 0ZM615.7 528.5a3.9 3.9 0 1 0 7.8 0a3.9 3.9 0 1 0 -7.8 0ZM628.4 530.7a3.9 3.9 0 1 0 7.8 0a3.9 3.9 0 1 0 -7.8 0Z" fill="#fff" stroke="#80b040" stroke-width="2.4"/><path d="M174.9 318.5 178.1 315.1 181.2 310.5 184.4 307.2 187.6 303.6 190.8 298.6 193.9 293.1 197.1 283.4 200.3 272.2 203.4 259.1 206.6 249.8 209.8 245.9 212.9 243.8 216.1 241.7 219.3 238.3 222.4 234.2 225.6 231.5 228.8 229.4 231.9 226.1 235.1 226.1 238.3 227.1 241.4 229 244.6 232.4 247.8 239.9 250.9 250.8 254.1 261.3 257.3 271.3 260.4 280 263.6 288.3 266.8 294.2 269.9 301.7 273.1 308.7 276.3 315.6 279.4 322.8 282.6 329.5 285.8 336 288.9 342.8 292.1 349 295.3 355.7 298.4 361.6 301.6 367.6 304.8 372.9 307.9 377.9 311.1 382.8 314.3 387.7 317.5 391.6 320.6 395.6 323.8 399.3 327 403.3 330.1 407 333.3 410.6 336.5 413.1 339.6 417.1 342.8 420.2 346 423 349.1 426.3 352.3 428.5 355.5 431.4 358.6 434.1 361.8 437 365 439.5 368.1 441.7 371.3 444.1 374.5 446 377.6 448.7 391.6 458.7 404.2 465.9 416.9 472.7 429.6 478.3 442.2 483.8 454.9 488.5 467.6 493 480.3 497 492.9 500.5 505.6 504.4 518.3 508 530.9 511 543.6 513.6 556.3 516.6 569 519.2 581.6 521.6 594.3 523.6 607 526.1 619.6 528.5 632.3 530.9" fill="none" stroke="#92aa1c" stroke-width="3.0"/><path d="M171.8 315.4h6.2v6.2h-6.2ZM175 312h6.2v6.2h-6.2ZM178.1 307.4h6.2v6.2h-6.2ZM181.3 304h6.2v6.2h-6.2ZM184.5 300.5h6.2v6.2h-6.2ZM187.6 295.5h6.2v6.2h-6.2ZM190.8 290h6.2v6.2h-6.2ZM194 280.3h6.2v6.2h-6.2ZM197.1 269h6.2v6.2h-6.2ZM200.3 256h6.2v6.2h-6.2ZM203.5 246.7h6.2v6.2h-6.2ZM206.6 242.8h6.2v6.2h-6.2ZM209.8 240.7h6.2v6.2h-6.2ZM213 238.6h6.2v6.2h-6.2ZM216.1 235.2h6.2v6.2h-6.2ZM219.3 231.1h6.2v6.2h-6.2ZM222.5 228.4h6.2v6.2h-6.2ZM225.6 226.2h6.2v6.2h-6.2ZM228.8 223h6.2v6.2h-6.2ZM232 223h6.2v6.2h-6.2ZM235.1 223.9h6.2v6.2h-6.2ZM238.3 225.9h6.2v6.2h-6.2ZM241.5 229.3h6.2v6.2h-6.2ZM244.6 236.8h6.2v6.2h-6.2ZM247.8 247.7h6.2v6.2h-6.2ZM251 258.2h6.2v6.2h-6.2ZM254.1 268.2h6.2v6.2h-6.2ZM257.3 276.9h6.2v6.2h-6.2ZM260.5 285.1h6.2v6.2h-6.2ZM263.7 291h6.2v6.2h-6.2ZM266.8 298.6h6.2v6.2h-6.2ZM270 305.6h6.2v6.2h-6.2ZM273.2 312.5h6.2v6.2h-6.2ZM276.3 319.7h6.2v6.2h-6.2ZM279.5 326.4h6.2v6.2h-6.2ZM282.7 332.9h6.2v6.2h-6.2ZM285.8 339.6h6.2v6.2h-6.2ZM289 345.9h6.2v6.2h-6.2ZM292.2 352.6h6.2v6.2h-6.2ZM295.3 358.4h6.2v6.2h-6.2ZM298.5 364.5h6.2v6.2h-6.2ZM301.7 369.7h6.2v6.2h-6.2ZM304.8 374.8h6.2v6.2h-6.2ZM308 379.7h6.2v6.2h-6.2ZM311.2 384.5h6.2v6.2h-6.2ZM314.3 388.5h6.2v6.2h-6.2ZM317.5 392.5h6.2v6.2h-6.2ZM320.7 396.2h6.2v6.2h-6.2ZM323.8 400.2h6.2v6.2h-6.2ZM327 403.9h6.2v6.2h-6.2ZM330.2 407.5h6.2v6.2h-6.2ZM333.3 410h6.2v6.2h-6.2ZM336.5 413.9h6.2v6.2h-6.2ZM339.7 417.1h6.2v6.2h-6.2ZM342.8 419.8h6.2v6.2h-6.2ZM346 423.2h6.2v6.2h-6.2ZM349.2 425.3h6.2v6.2h-6.2ZM352.3 428.3h6.2v6.2h-6.2ZM355.5 431h6.2v6.2h-6.2ZM358.7 433.9h6.2v6.2h-6.2ZM361.8 436.4h6.2v6.2h-6.2ZM365 438.5h6.2v6.2h-6.2ZM368.2 441h6.2v6.2h-6.2ZM371.3 442.9h6.2v6.2h-6.2ZM374.5 445.5h6.2v6.2h-6.2ZM388.4 455.5h6.2v6.2h-6.2ZM401.1 462.7h6.2v6.2h-6.2ZM413.8 469.6h6.2v6.2h-6.2ZM426.5 475.2h6.2v6.2h-6.2ZM439.1 480.7h6.2v6.2h-6.2ZM451.8 485.4h6.2v6.2h-6.2ZM464.5 489.9h6.2v6.2h-6.2ZM477.1 493.8h6.2v6.2h-6.2ZM489.8 497.4h6.2v6.2h-6.2ZM502.5 501.3h6.2v6.2h-6.2ZM515.2 504.9h6.2v6.2h-6.2ZM527.8 507.9h6.2v6.2h-6.2ZM540.5 510.5h6.2v6.2h-6.2ZM553.2 513.5h6.2v6.2h-6.2ZM565.8 516.1h6.2v6.2h-6.2ZM578.5 518.5h6.2v6.2h-6.2ZM591.2 520.5h6.2v6.2h-6.2ZM603.8 523h6.2v6.2h-6.2ZM616.5 525.4h6.2v6.2h-6.2ZM629.2 527.8h6.2v6.2h-6.2Z" fill="#fff" stroke="#92aa1c" stroke-width="2.4"/><path d="M176.2 326.6 179.3 322.3 182.5 318.3 185.7 314.9 188.9 312.1 192 307.3 195.2 301.2 198.4 292.8 201.5 281.7 204.7 270.1 207.9 262 211 257.8 214.2 255 217.4 252 220.5 248.4 223.7 245.1 226.9 242.4 230 240.8 233.2 239.9 236.4 238.6 239.5 238.4 242.7 240.5 245.9 243 249 248.7 252.2 257.9 255.4 267.7 258.5 277.4 261.7 285 264.9 292.5 268 298.8 271.2 305.7 274.4 311.8 277.5 318.7 280.7 325.2 283.9 331.8 287 338.8 290.2 345.2 293.4 351.6 296.5 357.6 299.7 363.9 302.9 369.5 306 375 309.2 380.2 312.4 384.5 315.6 388.9 318.7 393.4 321.9 396.8 325.1 401.3 328.2 404.6 331.4 408.2 334.6 412.1 337.7 414.9 340.9 418.5 344.1 421.2 347.2 423.9 350.4 426.6 353.6 429.6 356.7 432.9 359.9 435.3 363.1 437.5 366.2 440.3 369.4 442.4 372.6 445.4 375.7 447.7 378.9 450.1 391.6 458.3 404.2 465.6 416.9 472.8 429.6 478.4 442.2 483.7 454.9 488.4 467.6 493 480.3 497.1 492.9 500.4 505.6 504.5 518.3 507.5 530.9 510.6 543.6 513.8 556.3 516.3 569 519.6 581.6 521.5 594.3 524 607 526.2 619.6 528.5 632.3 530.7" fill="none" stroke="#a88e10" stroke-width="2.0"/><path d="M176.2 321.8L180.5 329.2L171.8 329.2ZM179.3 317.5L183.7 324.9L175 324.9ZM182.5 313.6L186.9 321L178.1 321ZM185.7 310.2L190.1 317.6L181.3 317.6ZM188.9 307.4L193.2 314.8L184.5 314.8ZM192 302.6L196.4 310L187.6 310ZM195.2 296.4L199.6 303.8L190.8 303.8ZM198.4 288L202.7 295.4L194 295.4ZM201.5 277L205.9 284.4L197.2 284.4ZM204.7 265.3L209.1 272.7L200.3 272.7ZM207.9 257.2L212.2 264.6L203.5 264.6ZM211 253.1L215.4 260.5L206.7 260.5ZM214.2 250.3L218.6 257.7L209.8 257.7ZM217.4 247.3L221.7 254.7L213 254.7ZM220.5 243.7L224.9 251.1L216.2 251.1ZM223.7 240.3L228.1 247.7L219.3 247.7ZM226.9 237.6L231.2 245L222.5 245ZM230 236L234.4 243.5L225.7 243.5ZM233.2 235.2L237.6 242.6L228.8 242.6ZM236.4 233.9L240.7 241.3L232 241.3ZM239.5 233.7L243.9 241.1L235.2 241.1ZM242.7 235.8L247.1 243.2L238.3 243.2ZM245.9 238.2L250.2 245.6L241.5 245.6ZM249 243.9L253.4 251.3L244.7 251.3ZM252.2 253.1L256.6 260.5L247.8 260.5ZM255.4 263L259.7 270.4L251 270.4ZM258.5 272.7L262.9 280.1L254.2 280.1ZM261.7 280.2L266.1 287.6L257.3 287.6ZM264.9 287.8L269.2 295.2L260.5 295.2ZM268 294.1L272.4 301.5L263.7 301.5ZM271.2 301L275.6 308.4L266.8 308.4ZM274.4 307.1L278.7 314.5L270 314.5ZM277.5 314L281.9 321.4L273.2 321.4ZM280.7 320.4L285.1 327.8L276.3 327.8ZM283.9 327.1L288.2 334.5L279.5 334.5ZM287 334L291.4 341.4L282.7 341.4ZM290.2 340.5L294.6 347.9L285.8 347.9ZM293.4 346.9L297.7 354.3L289 354.3ZM296.5 352.9L300.9 360.3L292.2 360.3ZM299.7 359.2L304.1 366.6L295.3 366.6ZM302.9 364.8L307.2 372.2L298.5 372.2ZM306 370.3L310.4 377.7L301.7 377.7ZM309.2 375.4L313.6 382.9L304.8 382.9ZM312.4 379.8L316.8 387.2L308 387.2ZM315.6 384.2L319.9 391.6L311.2 391.6ZM318.7 388.7L323.1 396.1L314.3 396.1ZM321.9 392.1L326.3 399.5L317.5 399.5ZM325.1 396.5L329.4 403.9L320.7 403.9ZM328.2 399.8L332.6 407.2L323.9 407.2ZM331.4 403.4L335.8 410.9L327 410.9ZM334.6 407.4L338.9 414.8L330.2 414.8ZM337.7 410.2L342.1 417.6L333.4 417.6ZM340.9 413.7L345.3 421.1L336.5 421.1ZM344.1 416.4L348.4 423.8L339.7 423.8ZM347.2 419.2L351.6 426.6L342.9 426.6ZM350.4 421.8L354.8 429.2L346 429.2ZM353.6 424.9L357.9 432.3L349.2 432.3ZM356.7 428.2L361.1 435.6L352.4 435.6ZM359.9 430.6L364.3 438L355.5 438ZM363.1 432.8L367.4 440.2L358.7 440.2ZM366.2 435.6L370.6 443L361.9 443ZM369.4 437.7L373.8 445.1L365 445.1ZM372.6 440.6L376.9 448.1L368.2 448.1ZM375.7 442.9L380.1 450.3L371.4 450.3ZM378.9 445.4L383.3 452.8L374.5 452.8ZM391.6 453.6L395.9 461L387.2 461ZM404.2 460.9L408.6 468.3L399.9 468.3ZM416.9 468.1L421.3 475.5L412.5 475.5ZM429.6 473.6L433.9 481L425.2 481ZM442.2 479L446.6 486.4L437.9 486.4ZM454.9 483.7L459.3 491.1L450.6 491.1ZM467.6 488.3L472 495.7L463.2 495.7ZM480.3 492.3L484.6 499.7L475.9 499.7ZM492.9 495.7L497.3 503.1L488.6 503.1ZM505.6 499.8L510 507.2L501.2 507.2ZM518.3 502.8L522.6 510.2L513.9 510.2ZM530.9 505.8L535.3 513.2L526.6 513.2ZM543.6 509L548 516.4L539.2 516.4ZM556.3 511.6L560.6 519L551.9 519ZM569 514.9L573.3 522.3L564.6 522.3ZM581.6 516.8L586 524.2L577.3 524.2ZM594.3 519.3L598.7 526.7L589.9 526.7ZM607 521.5L611.3 528.9L602.6 528.9ZM619.6 523.8L624 531.2L615.3 531.2ZM632.3 526L636.7 533.4L627.9 533.4Z" fill="#fff" stroke="#a88e10" stroke-width="2.4"/><path d="M174.3 336.4 177.4 333.7 180.6 330.1 183.8 326.1 186.9 323.4 190.1 320.2 193.3 315.8 196.5 310.3 199.6 302.1 202.8 290.8 206 280.2 209.1 272.9 212.3 269.4 215.5 266.4 218.6 262.3 221.8 259.7 225 256 228.1 253.7 231.3 251.2 234.5 252.4 237.6 250.9 240.8 250 244 252.3 247.1 255 250.3 258.3 253.5 266.2 256.6 274.8 259.8 282.5 263 289.6 266.1 296.7 269.3 303.7 272.5 309.1 275.6 315.9 278.8 321.9 282 328.4 285.1 334.5 288.3 341.5 291.5 348.1 294.6 353.7 297.8 359.9 301 365.9 304.1 372.1 307.3 377.3 310.5 381.9 313.6 386.5 316.8 390.8 320 394.9 323.2 398.6 326.3 402.8 329.5 406.1 332.7 409.8 335.8 413.1 339 416.3 342.2 419.1 345.3 422.3 348.5 425.5 351.7 428.1 354.8 430.9 358 433.5 361.2 436.4 364.3 438.6 367.5 441.3 370.7 444.1 373.8 446.4 377 448.8 391.6 458.2 404.2 466 416.9 472.7 429.6 478.5 442.2 483.5 454.9 488.1 467.6 493 480.3 496.7 492.9 500.7 505.6 504.1 518.3 507.7 530.9 511 543.6 513.8 556.3 516.4 569 519.4 581.6 521.5 594.3 523.8 607 526.1 619.6 528.7 632.3 530.9" fill="none" stroke="#ae6a12" stroke-width="2.0"/><path d="M174.3 341.1L178.6 333.7L169.9 333.7ZM177.4 338.5L181.8 331L173.1 331ZM180.6 334.8L185 327.4L176.2 327.4ZM183.8 330.8L188.2 323.4L179.4 323.4ZM186.9 328.1L191.3 320.7L182.6 320.7ZM190.1 324.9L194.5 317.5L185.7 317.5ZM193.3 320.5L197.7 313.1L188.9 313.1ZM196.5 315L200.8 307.6L192.1 307.6ZM199.6 306.8L204 299.4L195.3 299.4ZM202.8 295.5L207.2 288.1L198.4 288.1ZM206 284.9L210.3 277.5L201.6 277.5ZM209.1 277.6L213.5 270.2L204.8 270.2ZM212.3 274.1L216.7 266.7L207.9 266.7ZM215.5 271.1L219.8 263.7L211.1 263.7ZM218.6 267.1L223 259.7L214.3 259.7ZM221.8 264.4L226.2 257L217.4 257ZM225 260.8L229.3 253.3L220.6 253.3ZM228.1 258.4L232.5 251L223.8 251ZM231.3 255.9L235.7 248.5L226.9 248.5ZM234.5 257.1L238.8 249.7L230.1 249.7ZM237.6 255.6L242 248.2L233.3 248.2ZM240.8 254.7L245.2 247.3L236.4 247.3ZM244 257L248.3 249.6L239.6 249.6ZM247.1 259.7L251.5 252.3L242.8 252.3ZM250.3 263L254.7 255.6L245.9 255.6ZM253.5 271L257.8 263.6L249.1 263.6ZM256.6 279.5L261 272.1L252.3 272.1ZM259.8 287.3L264.2 279.9L255.4 279.9ZM263 294.3L267.3 286.9L258.6 286.9ZM266.1 301.4L270.5 294L261.8 294ZM269.3 308.4L273.7 301L264.9 301ZM272.5 313.9L276.8 306.5L268.1 306.5ZM275.6 320.6L280 313.2L271.3 313.2ZM278.8 326.6L283.2 319.2L274.4 319.2ZM282 333.2L286.3 325.7L277.6 325.7ZM285.1 339.3L289.5 331.9L280.8 331.9ZM288.3 346.2L292.7 338.8L283.9 338.8ZM291.5 352.8L295.8 345.4L287.1 345.4ZM294.6 358.4L299 351L290.3 351ZM297.8 364.7L302.2 357.3L293.4 357.3ZM301 370.6L305.3 363.2L296.6 363.2ZM304.1 376.8L308.5 369.4L299.8 369.4ZM307.3 382L311.7 374.6L302.9 374.6ZM310.5 386.7L314.9 379.2L306.1 379.2ZM313.6 391.2L318 383.8L309.3 383.8ZM316.8 395.6L321.2 388.2L312.4 388.2ZM320 399.7L324.4 392.3L315.6 392.3ZM323.2 403.4L327.5 396L318.8 396ZM326.3 407.6L330.7 400.2L322 400.2ZM329.5 410.9L333.9 403.5L325.1 403.5ZM332.7 414.5L337 407.1L328.3 407.1ZM335.8 417.8L340.2 410.4L331.5 410.4ZM339 421L343.4 413.6L334.6 413.6ZM342.2 423.9L346.5 416.5L337.8 416.5ZM345.3 427L349.7 419.6L341 419.6ZM348.5 430.2L352.9 422.8L344.1 422.8ZM351.7 432.8L356 425.4L347.3 425.4ZM354.8 435.6L359.2 428.2L350.5 428.2ZM358 438.3L362.4 430.9L353.6 430.9ZM361.2 441.1L365.5 433.7L356.8 433.7ZM364.3 443.4L368.7 436L360 436ZM367.5 446L371.9 438.6L363.1 438.6ZM370.7 448.8L375 441.4L366.3 441.4ZM373.8 451.2L378.2 443.8L369.5 443.8ZM377 453.5L381.4 446.1L372.6 446.1ZM391.6 462.9L395.9 455.5L387.2 455.5ZM404.2 470.8L408.6 463.4L399.9 463.4ZM416.9 477.5L421.3 470L412.5 470ZM429.6 483.3L433.9 475.9L425.2 475.9ZM442.2 488.3L446.6 480.9L437.9 480.9ZM454.9 492.9L459.3 485.5L450.6 485.5ZM467.6 497.7L472 490.3L463.2 490.3ZM480.3 501.4L484.6 494L475.9 494ZM492.9 505.4L497.3 498L488.6 498ZM505.6 508.8L510 501.4L501.2 501.4ZM518.3 512.4L522.6 505L513.9 505ZM530.9 515.8L535.3 508.4L526.6 508.4ZM543.6 518.5L548 511.1L539.2 511.1ZM556.3 521.1L560.6 513.7L551.9 513.7ZM569 524.1L573.3 516.7L564.6 516.7ZM581.6 526.2L586 518.8L577.3 518.8ZM594.3 528.5L598.7 521.1L589.9 521.1ZM607 530.8L611.3 523.4L602.6 523.4ZM619.6 533.4L624 526L615.3 526ZM632.3 535.6L636.7 528.2L627.9 528.2Z" fill="#fff" stroke="#ae6a12" stroke-width="2.4"/><path d="M175.5 344.2 178.7 340.6 181.9 337.2 185 334 188.2 331.3 191.4 327.6 194.6 323.7 197.7 318.3 200.9 310.8 204.1 300.7 207.2 291.2 210.4 284.3 213.6 279.5 216.7 276 219.9 271.9 223.1 270.4 226.2 266.8 229.4 264.2 232.6 263.8 235.7 263 238.9 263.1 242.1 263.2 245.2 263.4 248.4 266.8 251.6 270 254.7 274.3 257.9 280.9 261.1 287 264.2 294.6 267.4 300.9 270.6 307.9 273.7 314 276.9 320.2 280.1 325.7 283.2 331.7 286.4 337.7 289.6 343.8 292.7 350.7 295.9 356.8 299.1 362.5 302.2 368.1 305.4 373.9 308.6 379 311.7 383.8 314.9 388.1 318.1 392.3 321.3 396.6 324.4 400.4 327.6 403.8 330.8 407.6 333.9 411.1 337.1 414.1 340.3 417.3 343.4 420.4 346.6 423.3 349.8 426.5 352.9 429.2 356.1 431.9 359.3 434.7 362.4 437.7 365.6 439.9 368.8 442.3 371.9 444.6 375.1 447.1 378.3 449.3 391.6 458.6 404.2 466.2 416.9 473.2 429.6 478.6 442.2 483.5 454.9 488.2 467.6 493.2 480.3 496.9 492.9 500.6 505.6 504.3 518.3 508 530.9 510.6 543.6 513.9 556.3 516.7 569 518.8 581.6 521.4 594.3 523.7 607 525.9 619.6 528.5 632.3 530.9" fill="none" stroke="#a84a12" stroke-width="2.0"/><path d="M170.8 344.2L178.2 339.8L178.2 348.6ZM174 340.6L181.4 336.3L181.4 345ZM177.1 337.2L184.5 332.8L184.5 341.5ZM180.3 334L187.7 329.6L187.7 338.4ZM183.5 331.3L190.9 326.9L190.9 335.6ZM186.6 327.6L194.1 323.3L194.1 332ZM189.8 323.7L197.2 319.3L197.2 328ZM193 318.3L200.4 314L200.4 322.7ZM196.1 310.8L203.6 306.5L203.6 315.2ZM199.3 300.7L206.7 296.4L206.7 305.1ZM202.5 291.2L209.9 286.8L209.9 295.5ZM205.6 284.3L213.1 280L213.1 288.7ZM208.8 279.5L216.2 275.1L216.2 283.9ZM212 276L219.4 271.6L219.4 280.3ZM215.1 271.9L222.6 267.5L222.6 276.2ZM218.3 270.4L225.7 266L225.7 274.7ZM221.5 266.8L228.9 262.5L228.9 271.2ZM224.7 264.2L232.1 259.8L232.1 268.6ZM227.8 263.8L235.2 259.5L235.2 268.2ZM231 263L238.4 258.6L238.4 267.4ZM234.2 263.1L241.6 258.8L241.6 267.5ZM237.3 263.2L244.7 258.8L244.7 267.5ZM240.5 263.4L247.9 259L247.9 267.8ZM243.7 266.8L251.1 262.5L251.1 271.2ZM246.8 270L254.2 265.7L254.2 274.4ZM250 274.3L257.4 270L257.4 278.7ZM253.2 280.9L260.6 276.5L260.6 285.2ZM256.3 287L263.7 282.6L263.7 291.3ZM259.5 294.6L266.9 290.3L266.9 299ZM262.7 300.9L270.1 296.6L270.1 305.3ZM265.8 307.9L273.2 303.6L273.2 312.3ZM269 314L276.4 309.6L276.4 318.3ZM272.2 320.2L279.6 315.8L279.6 324.6ZM275.3 325.7L282.7 321.4L282.7 330.1ZM278.5 331.7L285.9 327.3L285.9 336ZM281.7 337.7L289.1 333.3L289.1 342.1ZM284.8 343.8L292.2 339.4L292.2 348.2ZM288 350.7L295.4 346.4L295.4 355.1ZM291.2 356.8L298.6 352.4L298.6 361.1ZM294.3 362.5L301.7 358.2L301.7 366.9ZM297.5 368.1L304.9 363.8L304.9 372.5ZM300.7 373.9L308.1 369.5L308.1 378.2ZM303.8 379L311.2 374.7L311.2 383.4ZM307 383.8L314.4 379.5L314.4 388.2ZM310.2 388.1L317.6 383.8L317.6 392.5ZM313.3 392.3L320.8 387.9L320.8 396.7ZM316.5 396.6L323.9 392.3L323.9 401ZM319.7 400.4L327.1 396L327.1 404.8ZM322.8 403.8L330.3 399.5L330.3 408.2ZM326 407.6L333.4 403.2L333.4 411.9ZM329.2 411.1L336.6 406.8L336.6 415.5ZM332.3 414.1L339.8 409.7L339.8 418.5ZM335.5 417.3L342.9 412.9L342.9 421.6ZM338.7 420.4L346.1 416L346.1 424.7ZM341.8 423.3L349.3 419L349.3 427.7ZM345 426.5L352.4 422.1L352.4 430.9ZM348.2 429.2L355.6 424.8L355.6 433.6ZM351.4 431.9L358.8 427.6L358.8 436.3ZM354.5 434.7L361.9 430.3L361.9 439ZM357.7 437.7L365.1 433.4L365.1 442.1ZM360.9 439.9L368.3 435.5L368.3 444.2ZM364 442.3L371.4 437.9L371.4 446.6ZM367.2 444.6L374.6 440.3L374.6 449ZM370.4 447.1L377.8 442.8L377.8 451.5ZM373.5 449.3L380.9 445L380.9 453.7ZM386.8 458.6L394.2 454.3L394.2 463ZM399.5 466.2L406.9 461.8L406.9 470.6ZM412.2 473.2L419.6 468.9L419.6 477.6ZM424.8 478.6L432.2 474.2L432.2 482.9ZM437.5 483.5L444.9 479.1L444.9 487.8ZM450.2 488.2L457.6 483.9L457.6 492.6ZM462.8 493.2L470.3 488.8L470.3 497.5ZM475.5 496.9L482.9 492.6L482.9 501.3ZM488.2 500.6L495.6 496.2L495.6 504.9ZM500.9 504.3L508.3 500L508.3 508.7ZM513.5 508L520.9 503.6L520.9 512.3ZM526.2 510.6L533.6 506.2L533.6 515ZM538.9 513.9L546.3 509.5L546.3 518.3ZM551.5 516.7L558.9 512.3L558.9 521ZM564.2 518.8L571.6 514.5L571.6 523.2ZM576.9 521.4L584.3 517L584.3 525.8ZM589.5 523.7L597 519.3L597 528ZM602.2 525.9L609.6 521.5L609.6 530.3ZM614.9 528.5L622.3 524.1L622.3 532.9ZM627.6 530.9L635 526.6L635 535.3Z" fill="#fff" stroke="#a84a12" stroke-width="2.4"/><path d="M176.8 352.2 180 348.4 183.1 344.7 186.3 342.2 189.5 339.6 192.7 336 195.8 332 199 326.9 202.2 319.7 205.3 310.9 208.5 302.4 211.7 295.9 214.8 290 218 286.2 221.2 281.1 224.3 279.3 227.5 276.6 230.7 274.2 233.8 274.1 237 274.8 240.2 275.5 243.3 274.7 246.5 275 249.7 277.4 252.8 280.7 256 283.9 259.2 287 262.3 292.2 265.5 299.4 268.7 304.4 271.8 312.1 275 317.7 278.2 323.4 281.3 329.3 284.5 335.2 287.7 340.8 290.8 346.6 294 354 297.2 359.1 300.3 365.2 303.5 370.8 306.7 375.9 309.8 380.8 313 385.3 316.2 390 319.4 393.7 322.5 398.6 325.7 402.1 328.9 405.8 332 408.9 335.2 412.4 338.4 415.4 341.5 418.9 344.7 421.4 347.9 424.5 351 427.7 354.2 430.8 357.4 433.4 360.5 436.1 363.7 438.1 366.9 440.7 370 443.6 373.2 445.3 376.4 448.1 391.6 458.7 404.2 465.6 416.9 472.4 429.6 478.5 442.2 484 454.9 488.3 467.6 493.1 480.3 497.1 492.9 500.7 505.6 504.2 518.3 507.7 530.9 511 543.6 513.7 556.3 517 569 519.1 581.6 521.4 594.3 523.7 607 526.2 619.6 528.4 632.3 530.7" fill="none" stroke="#a02a10" stroke-width="2.0"/><path d="M181.6 352.2L174.1 347.8L174.1 356.6ZM184.7 348.4L177.3 344.1L177.3 352.8ZM187.9 344.7L180.5 340.4L180.5 349.1ZM191.1 342.2L183.6 337.8L183.6 346.6ZM194.2 339.6L186.8 335.3L186.8 344ZM197.4 336L190 331.6L190 340.4ZM200.6 332L193.2 327.7L193.2 336.4ZM203.7 326.9L196.3 322.6L196.3 331.3ZM206.9 319.7L199.5 315.3L199.5 324ZM210.1 310.9L202.7 306.5L202.7 315.2ZM213.2 302.4L205.8 298L205.8 306.8ZM216.4 295.9L209 291.6L209 300.3ZM219.6 290L212.2 285.6L212.2 294.4ZM222.7 286.2L215.3 281.9L215.3 290.6ZM225.9 281.1L218.5 276.7L218.5 285.5ZM229.1 279.3L221.7 275L221.7 283.7ZM232.2 276.6L224.8 272.2L224.8 280.9ZM235.4 274.2L228 269.9L228 278.6ZM238.6 274.1L231.2 269.7L231.2 278.5ZM241.7 274.8L234.3 270.4L234.3 279.2ZM244.9 275.5L237.5 271.1L237.5 279.8ZM248.1 274.7L240.7 270.4L240.7 279.1ZM251.2 275L243.8 270.6L243.8 279.4ZM254.4 277.4L247 273L247 281.7ZM257.6 280.7L250.2 276.3L250.2 285ZM260.7 283.9L253.3 279.5L253.3 288.3ZM263.9 287L256.5 282.6L256.5 291.4ZM267.1 292.2L259.7 287.9L259.7 296.6ZM270.2 299.4L262.8 295.1L262.8 303.8ZM273.4 304.4L266 300L266 308.8ZM276.6 312.1L269.2 307.7L269.2 316.5ZM279.7 317.7L272.3 313.3L272.3 322.1ZM282.9 323.4L275.5 319L275.5 327.7ZM286.1 329.3L278.7 325L278.7 333.7ZM289.3 335.2L281.8 330.8L281.8 339.5ZM292.4 340.8L285 336.4L285 345.2ZM295.6 346.6L288.2 342.3L288.2 351ZM298.8 354L291.3 349.6L291.3 358.4ZM301.9 359.1L294.5 354.7L294.5 363.5ZM305.1 365.2L297.7 360.8L297.7 369.6ZM308.3 370.8L300.8 366.5L300.8 375.2ZM311.4 375.9L304 371.5L304 380.2ZM314.6 380.8L307.2 376.4L307.2 385.2ZM317.8 385.3L310.3 381L310.3 389.7ZM320.9 390L313.5 385.6L313.5 394.4ZM324.1 393.7L316.7 389.3L316.7 398.1ZM327.3 398.6L319.9 394.2L319.9 402.9ZM330.4 402.1L323 397.7L323 406.4ZM333.6 405.8L326.2 401.4L326.2 410.1ZM336.8 408.9L329.4 404.5L329.4 413.3ZM339.9 412.4L332.5 408.1L332.5 416.8ZM343.1 415.4L335.7 411L335.7 419.8ZM346.3 418.9L338.9 414.5L338.9 423.2ZM349.4 421.4L342 417L342 425.8ZM352.6 424.5L345.2 420.1L345.2 428.9ZM355.8 427.7L348.4 423.3L348.4 432ZM358.9 430.8L351.5 426.4L351.5 435.1ZM362.1 433.4L354.7 429L354.7 437.7ZM365.3 436.1L357.9 431.7L357.9 440.5ZM368.4 438.1L361 433.7L361 442.4ZM371.6 440.7L364.2 436.3L364.2 445ZM374.8 443.6L367.4 439.2L367.4 448ZM377.9 445.3L370.5 440.9L370.5 449.6ZM381.1 448.1L373.7 443.7L373.7 452.4ZM396.3 458.7L388.9 454.4L388.9 463.1ZM409 465.6L401.6 461.3L401.6 470ZM421.7 472.4L414.2 468L414.2 476.7ZM434.3 478.5L426.9 474.1L426.9 482.9ZM447 484L439.6 479.6L439.6 488.3ZM459.7 488.3L452.3 484L452.3 492.7ZM472.3 493.1L464.9 488.7L464.9 497.4ZM485 497.1L477.6 492.7L477.6 501.4ZM497.7 500.7L490.3 496.3L490.3 505.1ZM510.3 504.2L502.9 499.9L502.9 508.6ZM523 507.7L515.6 503.3L515.6 512.1ZM535.7 511L528.3 506.6L528.3 515.4ZM548.4 513.7L540.9 509.3L540.9 518.1ZM561 517L553.6 512.6L553.6 521.4ZM573.7 519.1L566.3 514.7L566.3 523.4ZM586.4 521.4L579 517.1L579 525.8ZM599 523.7L591.6 519.3L591.6 528.1ZM611.7 526.2L604.3 521.8L604.3 530.6ZM624.4 528.4L617 524.1L617 532.8ZM637 530.7L629.6 526.3L629.6 535Z" fill="#fff" stroke="#a02a10" stroke-width="2.4"/><path d="M174.9 362.5 178.1 359.9 181.2 355.7 184.4 353.2 187.6 350.7 190.8 347.1 193.9 344 197.1 340.6 200.3 335.3 203.4 328.9 206.6 320.9 209.8 313 212.9 307.2 216.1 300.4 219.3 295 222.4 290.9 225.6 288.9 228.8 287.1 231.9 285.2 235.1 285 238.3 285.2 241.4 286.5 244.6 286.3 247.8 286.9 250.9 288.6 254.1 292 257.3 294.2 260.4 295.7 263.6 298.3 266.8 304.7 269.9 309.8 273.1 315.4 276.3 322.2 279.4 327.9 282.6 333.3 285.8 338.9 288.9 344.9 292.1 350.3 295.3 355.9 298.4 361.9 301.6 367.3 304.8 372.8 307.9 377.6 311.1 383.2 314.3 386.9 317.5 391.3 320.6 395.7 323.8 399.4 327 403 330.1 406.8 333.3 410.4 336.5 413.5 339.6 417 342.8 420.2 346 423.1 349.1 426 352.3 428.6 355.5 431.3 358.6 434.1 361.8 436.5 365 439.4 368.1 442 371.3 444.4 374.5 446.8 377.6 449 391.6 457.9 404.2 466.2 416.9 472.5 429.6 478.5 442.2 483.6 454.9 488.6 467.6 492.8 480.3 497.1 492.9 500.7 505.6 504.6 518.3 507.5 530.9 510.7 543.6 514.1 556.3 516.5 569 519.3 581.6 521.3 594.3 523.8 607 526 619.6 528.4 632.3 531" fill="none" stroke="#980a0a" stroke-width="3.0"/><path d="M171 362.5a3.9 3.9 0 1 0 7.8 0a3.9 3.9 0 1 0 -7.8 0ZM174.2 359.9a3.9 3.9 0 1 0 7.8 0a3.9 3.9 0 1 0 -7.8 0ZM177.3 355.7a3.9 3.9 0 1 0 7.8 0a3.9 3.9 0 1 0 -7.8 0ZM180.5 353.2a3.9 3.9 0 1 0 7.8 0a3.9 3.9 0 1 0 -7.8 0ZM183.7 350.7a3.9 3.9 0 1 0 7.8 0a3.9 3.9 0 1 0 -7.8 0ZM186.9 347.1a3.9 3.9 0 1 0 7.8 0a3.9 3.9 0 1 0 -7.8 0ZM190 344a3.9 3.9 0 1 0 7.8 0a3.9 3.9 0 1 0 -7.8 0ZM193.2 340.6a3.9 3.9 0 1 0 7.8 0a3.9 3.9 0 1 0 -7.8 0ZM196.4 335.3a3.9 3.9 0 1 0 7.8 0a3.9 3.9 0 1 0 -7.8 0ZM199.5 328.9a3.9 3.9 0 1 0 7.8 0a3.9 3.9 0 1 0 -7.8 0ZM202.7 320.9a3.9 3.9 0 1 0 7.8 0a3.9 3.9 0 1 0 -7.8 0ZM205.9 313a3.9 3.9 0 1 0 7.8 0a3.9 3.9 0 1 0 -7.8 0ZM209 307.2a3.9 3.9 0 1 0 7.8 0a3.9 3.9 0 1 0 -7.8 0ZM212.2 300.4a3.9 3.9 0 1 0 7.8 0a3.9 3.9 0 1 0 -7.8 0ZM215.4 295a3.9 3.9 0 1 0 7.8 0a3.9 3.9 0 1 0 -7.8 0ZM218.5 290.9a3.9 3.9 0 1 0 7.8 0a3.9 3.9 0 1 0 -7.8 0ZM221.7 288.9a3.9 3.9 0 1 0 7.8 0a3.9 3.9 0 1 0 -7.8 0ZM224.9 287.1a3.9 3.9 0 1 0 7.8 0a3.9 3.9 0 1 0 -7.8 0ZM228 285.2a3.9 3.9 0 1 0 7.8 0a3.9 3.9 0 1 0 -7.8 0ZM231.2 285a3.9 3.9 0 1 0 7.8 0a3.9 3.9 0 1 0 -7.8 0ZM234.4 285.2a3.9 3.9 0 1 0 7.8 0a3.9 3.9 0 1 0 -7.8 0ZM237.5 286.5a3.9 3.9 0 1 0 7.8 0a3.9 3.9 0 1 0 -7.8 0ZM240.7 286.3a3.9 3.9 0 1 0 7.8 0a3.9 3.9 0 1 0 -7.8 0ZM243.9 286.9a3.9 3.9 0 1 0 7.8 0a3.9 3.9 0 1 0 -7.8 0ZM247 288.6a3.9 3.9 0 1 0 7.8 0a3.9 3.9 0 1 0 -7.8 0ZM250.2 292a3.9 3.9 0 1 0 7.8 0a3.9 3.9 0 1 0 -7.8 0ZM253.4 294.2a3.9 3.9 0 1 0 7.8 0a3.9 3.9 0 1 0 -7.8 0ZM256.5 295.7a3.9 3.9 0 1 0 7.8 0a3.9 3.9 0 1 0 -7.8 0ZM259.7 298.3a3.9 3.9 0 1 0 7.8 0a3.9 3.9 0 1 0 -7.8 0ZM262.9 304.7a3.9 3.9 0 1 0 7.8 0a3.9 3.9 0 1 0 -7.8 0ZM266 309.8a3.9 3.9 0 1 0 7.8 0a3.9 3.9 0 1 0 -7.8 0ZM269.2 315.4a3.9 3.9 0 1 0 7.8 0a3.9 3.9 0 1 0 -7.8 0ZM272.4 322.2a3.9 3.9 0 1 0 7.8 0a3.9 3.9 0 1 0 -7.8 0ZM275.5 327.9a3.9 3.9 0 1 0 7.8 0a3.9 3.9 0 1 0 -7.8 0ZM278.7 333.3a3.9 3.9 0 1 0 7.8 0a3.9 3.9 0 1 0 -7.8 0ZM281.9 338.9a3.9 3.9 0 1 0 7.8 0a3.9 3.9 0 1 0 -7.8 0ZM285 344.9a3.9 3.9 0 1 0 7.8 0a3.9 3.9 0 1 0 -7.8 0ZM288.2 350.3a3.9 3.9 0 1 0 7.8 0a3.9 3.9 0 1 0 -7.8 0ZM291.4 355.9a3.9 3.9 0 1 0 7.8 0a3.9 3.9 0 1 0 -7.8 0ZM294.5 361.9a3.9 3.9 0 1 0 7.8 0a3.9 3.9 0 1 0 -7.8 0ZM297.7 367.3a3.9 3.9 0 1 0 7.8 0a3.9 3.9 0 1 0 -7.8 0ZM300.9 372.8a3.9 3.9 0 1 0 7.8 0a3.9 3.9 0 1 0 -7.8 0ZM304 377.6a3.9 3.9 0 1 0 7.8 0a3.9 3.9 0 1 0 -7.8 0ZM307.2 383.2a3.9 3.9 0 1 0 7.8 0a3.9 3.9 0 1 0 -7.8 0ZM310.4 386.9a3.9 3.9 0 1 0 7.8 0a3.9 3.9 0 1 0 -7.8 0ZM313.6 391.3a3.9 3.9 0 1 0 7.8 0a3.9 3.9 0 1 0 -7.8 0ZM316.7 395.7a3.9 3.9 0 1 0 7.8 0a3.9 3.9 0 1 0 -7.8 0ZM319.9 399.4a3.9 3.9 0 1 0 7.8 0a3.9 3.9 0 1 0 -7.8 0ZM323.1 403a3.9 3.9 0 1 0 7.8 0a3.9 3.9 0 1 0 -7.8 0ZM326.2 406.8a3.9 3.9 0 1 0 7.8 0a3.9 3.9 0 1 0 -7.8 0ZM329.4 410.4a3.9 3.9 0 1 0 7.8 0a3.9 3.9 0 1 0 -7.8 0ZM332.6 413.5a3.9 3.9 0 1 0 7.8 0a3.9 3.9 0 1 0 -7.8 0ZM335.7 417a3.9 3.9 0 1 0 7.8 0a3.9 3.9 0 1 0 -7.8 0ZM338.9 420.2a3.9 3.9 0 1 0 7.8 0a3.9 3.9 0 1 0 -7.8 0ZM342.1 423.1a3.9 3.9 0 1 0 7.8 0a3.9 3.9 0 1 0 -7.8 0ZM345.2 426a3.9 3.9 0 1 0 7.8 0a3.9 3.9 0 1 0 -7.8 0ZM348.4 428.6a3.9 3.9 0 1 0 7.8 0a3.9 3.9 0 1 0 -7.8 0ZM351.6 431.3a3.9 3.9 0 1 0 7.8 0a3.9 3.9 0 1 0 -7.8 0ZM354.7 434.1a3.9 3.9 0 1 0 7.8 0a3.9 3.9 0 1 0 -7.8 0ZM357.9 436.5a3.9 3.9 0 1 0 7.8 0a3.9 3.9 0 1 0 -7.8 0ZM361.1 439.4a3.9 3.9 0 1 0 7.8 0a3.9 3.9 0 1 0 -7.8 0ZM364.2 442a3.9 3.9 0 1 0 7.8 0a3.9 3.9 0 1 0 -7.8 0ZM367.4 444.4a3.9 3.9 0 1 0 7.8 0a3.9 3.9 0 1 0 -7.8 0ZM370.6 446.8a3.9 3.9 0 1 0 7.8 0a3.9 3.9 0 1 0 -7.8 0ZM373.7 449a3.9 3.9 0 1 0 7.8 0a3.9 3.9 0 1 0 -7.8 0ZM387.7 457.9a3.9 3.9 0 1 0 7.8 0a3.9 3.9 0 1 0 -7.8 0ZM400.3 466.2a3.9 3.9 0 1 0 7.8 0a3.9 3.9 0 1 0 -7.8 0ZM413 472.5a3.9 3.9 0 1 0 7.8 0a3.9 3.9 0 1 0 -7.8 0ZM425.7 478.5a3.9 3.9 0 1 0 7.8 0a3.9 3.9 0 1 0 -7.8 0ZM438.4 483.6a3.9 3.9 0 1 0 7.8 0a3.9 3.9 0 1 0 -7.8 0ZM451 488.6a3.9 3.9 0 1 0 7.8 0a3.9 3.9 0 1 0 -7.8 0ZM463.7 492.8a3.9 3.9 0 1 0 7.8 0a3.9 3.9 0 1 0 -7.8 0ZM476.4 497.1a3.9 3.9 0 1 0 7.8 0a3.9 3.9 0 1 0 -7.8 0ZM489 500.7a3.9 3.9 0 1 0 7.8 0a3.9 3.9 0 1 0 -7.8 0ZM501.7 504.6a3.9 3.9 0 1 0 7.8 0a3.9 3.9 0 1 0 -7.8 0ZM514.4 507.5a3.9 3.9 0 1 0 7.8 0a3.9 3.9 0 1 0 -7.8 0ZM527 510.7a3.9 3.9 0 1 0 7.8 0a3.9 3.9 0 1 0 -7.8 0ZM539.7 514.1a3.9 3.9 0 1 0 7.8 0a3.9 3.9 0 1 0 -7.8 0ZM552.4 516.5a3.9 3.9 0 1 0 7.8 0a3.9 3.9 0 1 0 -7.8 0ZM565.1 519.3a3.9 3.9 0 1 0 7.8 0a3.9 3.9 0 1 0 -7.8 0ZM577.7 521.3a3.9 3.9 0 1 0 7.8 0a3.9 3.9 0 1 0 -7.8 0ZM590.4 523.8a3.9 3.9 0 1 0 7.8 0a3.9 3.9 0 1 0 -7.8 0ZM603.1 526a3.9 3.9 0 1 0 7.8 0a3.9 3.9 0 1 0 -7.8 0ZM615.7 528.4a3.9 3.9 0 1 0 7.8 0a3.9 3.9 0 1 0 -7.8 0ZM628.4 531a3.9 3.9 0 1 0 7.8 0a3.9 3.9 0 1 0 -7.8 0Z" fill="#fff" stroke="#980a0a" stroke-width="2.4"/></g>
<g stroke-linejoin="round"><path d="M174.3 765.4 177.4 765.4 180.6 748 183.8 716.7 186.9 687.4 190.1 675.6 193.3 668.8 196.5 672 199.6 721.6 202.8 814.8 206 893.2 209.1 963.9 212.3 1014.1 215.5 1046.8 218.6 1065.2 221.8 1080 225 1089.4 228.1 1098.2 231.3 1101.5 234.5 1103.5 237.6 1104.3 240.8 1104.7 244 1105 247.1 1105.3 250.3 1105.4 253.5 1105.4 256.6 1105.4 259.8 1105.4 263 1105.4 266.1 1105.4 269.3 1105.4 272.5 1105.4 275.6 1105.4 278.8 1105.4 282 1105.4 285.1 1105.3 288.3 1105.4 291.5 1105.4 294.6 1105.4 297.8 1105.4 301 1105.3 304.1 1105.4 307.3 1105.4 310.5 1105 313.6 1105.4 316.8 1105.4 320 1105.4 323.2 1104.8 326.3 1105.4 329.5 1105.4 332.7 1105.1 335.8 1104.7 339 1105 342.2 1105.4 345.3 1105.4 348.5 1105 351.7 1105.4 354.8 1105.2 358 1105.4 361.2 1104.8 364.3 1105.4 367.5 1105.4 370.7 1105.3 373.8 1105.4 377 1105.3 391.6 1105.4 404.2 1105.4 416.9 1105.4 429.6 1105.4 442.2 1105.4 454.9 1105.3 467.6 1105 480.3 1105.3 492.9 1105.4 505.6 1105.4 518.3 1105.1 530.9 1105.4 543.6 1105.4 556.3 1105.4 569 1105.4 581.6 1104.7 594.3 1105.4 607 1105.4 619.6 1105.4 632.3 1104.9" fill="none" stroke="#14148c" stroke-width="2.0"/><path d="M170.4 765.4a3.9 3.9 0 1 0 7.8 0a3.9 3.9 0 1 0 -7.8 0ZM173.5 765.4a3.9 3.9 0 1 0 7.8 0a3.9 3.9 0 1 0 -7.8 0ZM176.7 748a3.9 3.9 0 1 0 7.8 0a3.9 3.9 0 1 0 -7.8 0ZM179.9 716.7a3.9 3.9 0 1 0 7.8 0a3.9 3.9 0 1 0 -7.8 0ZM183 687.4a3.9 3.9 0 1 0 7.8 0a3.9 3.9 0 1 0 -7.8 0ZM186.2 675.6a3.9 3.9 0 1 0 7.8 0a3.9 3.9 0 1 0 -7.8 0ZM189.4 668.8a3.9 3.9 0 1 0 7.8 0a3.9 3.9 0 1 0 -7.8 0ZM192.6 672a3.9 3.9 0 1 0 7.8 0a3.9 3.9 0 1 0 -7.8 0ZM195.7 721.6a3.9 3.9 0 1 0 7.8 0a3.9 3.9 0 1 0 -7.8 0ZM198.9 814.8a3.9 3.9 0 1 0 7.8 0a3.9 3.9 0 1 0 -7.8 0ZM202.1 893.2a3.9 3.9 0 1 0 7.8 0a3.9 3.9 0 1 0 -7.8 0ZM205.2 963.9a3.9 3.9 0 1 0 7.8 0a3.9 3.9 0 1 0 -7.8 0ZM208.4 1014.1a3.9 3.9 0 1 0 7.8 0a3.9 3.9 0 1 0 -7.8 0ZM211.6 1046.8a3.9 3.9 0 1 0 7.8 0a3.9 3.9 0 1 0 -7.8 0ZM214.7 1065.2a3.9 3.9 0 1 0 7.8 0a3.9 3.9 0 1 0 -7.8 0ZM217.9 1080a3.9 3.9 0 1 0 7.8 0a3.9 3.9 0 1 0 -7.8 0ZM221.1 1089.4a3.9 3.9 0 1 0 7.8 0a3.9 3.9 0 1 0 -7.8 0ZM224.2 1098.2a3.9 3.9 0 1 0 7.8 0a3.9 3.9 0 1 0 -7.8 0ZM227.4 1101.5a3.9 3.9 0 1 0 7.8 0a3.9 3.9 0 1 0 -7.8 0ZM230.6 1103.5a3.9 3.9 0 1 0 7.8 0a3.9 3.9 0 1 0 -7.8 0ZM233.7 1104.3a3.9 3.9 0 1 0 7.8 0a3.9 3.9 0 1 0 -7.8 0ZM236.9 1104.7a3.9 3.9 0 1 0 7.8 0a3.9 3.9 0 1 0 -7.8 0ZM240.1 1105a3.9 3.9 0 1 0 7.8 0a3.9 3.9 0 1 0 -7.8 0ZM243.2 1105.3a3.9 3.9 0 1 0 7.8 0a3.9 3.9 0 1 0 -7.8 0ZM246.4 1105.4a3.9 3.9 0 1 0 7.8 0a3.9 3.9 0 1 0 -7.8 0ZM249.6 1105.4a3.9 3.9 0 1 0 7.8 0a3.9 3.9 0 1 0 -7.8 0ZM252.7 1105.4a3.9 3.9 0 1 0 7.8 0a3.9 3.9 0 1 0 -7.8 0ZM255.9 1105.4a3.9 3.9 0 1 0 7.8 0a3.9 3.9 0 1 0 -7.8 0ZM259.1 1105.4a3.9 3.9 0 1 0 7.8 0a3.9 3.9 0 1 0 -7.8 0ZM262.2 1105.4a3.9 3.9 0 1 0 7.8 0a3.9 3.9 0 1 0 -7.8 0ZM265.4 1105.4a3.9 3.9 0 1 0 7.8 0a3.9 3.9 0 1 0 -7.8 0ZM268.6 1105.4a3.9 3.9 0 1 0 7.8 0a3.9 3.9 0 1 0 -7.8 0ZM271.7 1105.4a3.9 3.9 0 1 0 7.8 0a3.9 3.9 0 1 0 -7.8 0ZM274.9 1105.4a3.9 3.9 0 1 0 7.8 0a3.9 3.9 0 1 0 -7.8 0ZM278.1 1105.4a3.9 3.9 0 1 0 7.8 0a3.9 3.9 0 1 0 -7.8 0ZM281.2 1105.3a3.9 3.9 0 1 0 7.8 0a3.9 3.9 0 1 0 -7.8 0ZM284.4 1105.4a3.9 3.9 0 1 0 7.8 0a3.9 3.9 0 1 0 -7.8 0ZM287.6 1105.4a3.9 3.9 0 1 0 7.8 0a3.9 3.9 0 1 0 -7.8 0ZM290.7 1105.4a3.9 3.9 0 1 0 7.8 0a3.9 3.9 0 1 0 -7.8 0ZM293.9 1105.4a3.9 3.9 0 1 0 7.8 0a3.9 3.9 0 1 0 -7.8 0ZM297.1 1105.3a3.9 3.9 0 1 0 7.8 0a3.9 3.9 0 1 0 -7.8 0ZM300.2 1105.4a3.9 3.9 0 1 0 7.8 0a3.9 3.9 0 1 0 -7.8 0ZM303.4 1105.4a3.9 3.9 0 1 0 7.8 0a3.9 3.9 0 1 0 -7.8 0ZM306.6 1105a3.9 3.9 0 1 0 7.8 0a3.9 3.9 0 1 0 -7.8 0ZM309.7 1105.4a3.9 3.9 0 1 0 7.8 0a3.9 3.9 0 1 0 -7.8 0ZM312.9 1105.4a3.9 3.9 0 1 0 7.8 0a3.9 3.9 0 1 0 -7.8 0ZM316.1 1105.4a3.9 3.9 0 1 0 7.8 0a3.9 3.9 0 1 0 -7.8 0ZM319.3 1104.8a3.9 3.9 0 1 0 7.8 0a3.9 3.9 0 1 0 -7.8 0ZM322.4 1105.4a3.9 3.9 0 1 0 7.8 0a3.9 3.9 0 1 0 -7.8 0ZM325.6 1105.4a3.9 3.9 0 1 0 7.8 0a3.9 3.9 0 1 0 -7.8 0ZM328.8 1105.1a3.9 3.9 0 1 0 7.8 0a3.9 3.9 0 1 0 -7.8 0ZM331.9 1104.7a3.9 3.9 0 1 0 7.8 0a3.9 3.9 0 1 0 -7.8 0ZM335.1 1105a3.9 3.9 0 1 0 7.8 0a3.9 3.9 0 1 0 -7.8 0ZM338.3 1105.4a3.9 3.9 0 1 0 7.8 0a3.9 3.9 0 1 0 -7.8 0ZM341.4 1105.4a3.9 3.9 0 1 0 7.8 0a3.9 3.9 0 1 0 -7.8 0ZM344.6 1105a3.9 3.9 0 1 0 7.8 0a3.9 3.9 0 1 0 -7.8 0ZM347.8 1105.4a3.9 3.9 0 1 0 7.8 0a3.9 3.9 0 1 0 -7.8 0ZM350.9 1105.2a3.9 3.9 0 1 0 7.8 0a3.9 3.9 0 1 0 -7.8 0ZM354.1 1105.4a3.9 3.9 0 1 0 7.8 0a3.9 3.9 0 1 0 -7.8 0ZM357.3 1104.8a3.9 3.9 0 1 0 7.8 0a3.9 3.9 0 1 0 -7.8 0ZM360.4 1105.4a3.9 3.9 0 1 0 7.8 0a3.9 3.9 0 1 0 -7.8 0ZM363.6 1105.4a3.9 3.9 0 1 0 7.8 0a3.9 3.9 0 1 0 -7.8 0ZM366.8 1105.3a3.9 3.9 0 1 0 7.8 0a3.9 3.9 0 1 0 -7.8 0ZM369.9 1105.4a3.9 3.9 0 1 0 7.8 0a3.9 3.9 0 1 0 -7.8 0ZM373.1 1105.3a3.9 3.9 0 1 0 7.8 0a3.9 3.9 0 1 0 -7.8 0ZM387.7 1105.4a3.9 3.9 0 1 0 7.8 0a3.9 3.9 0 1 0 -7.8 0ZM400.3 1105.4a3.9 3.9 0 1 0 7.8 0a3.9 3.9 0 1 0 -7.8 0ZM413 1105.4a3.9 3.9 0 1 0 7.8 0a3.9 3.9 0 1 0 -7.8 0ZM425.7 1105.4a3.9 3.9 0 1 0 7.8 0a3.9 3.9 0 1 0 -7.8 0ZM438.4 1105.4a3.9 3.9 0 1 0 7.8 0a3.9 3.9 0 1 0 -7.8 0ZM451 1105.3a3.9 3.9 0 1 0 7.8 0a3.9 3.9 0 1 0 -7.8 0ZM463.7 1105a3.9 3.9 0 1 0 7.8 0a3.9 3.9 0 1 0 -7.8 0ZM476.4 1105.3a3.9 3.9 0 1 0 7.8 0a3.9 3.9 0 1 0 -7.8 0ZM489 1105.4a3.9 3.9 0 1 0 7.8 0a3.9 3.9 0 1 0 -7.8 0ZM501.7 1105.4a3.9 3.9 0 1 0 7.8 0a3.9 3.9 0 1 0 -7.8 0ZM514.4 1105.1a3.9 3.9 0 1 0 7.8 0a3.9 3.9 0 1 0 -7.8 0ZM527 1105.4a3.9 3.9 0 1 0 7.8 0a3.9 3.9 0 1 0 -7.8 0ZM539.7 1105.4a3.9 3.9 0 1 0 7.8 0a3.9 3.9 0 1 0 -7.8 0ZM552.4 1105.4a3.9 3.9 0 1 0 7.8 0a3.9 3.9 0 1 0 -7.8 0ZM565.1 1105.4a3.9 3.9 0 1 0 7.8 0a3.9 3.9 0 1 0 -7.8 0ZM577.7 1104.7a3.9 3.9 0 1 0 7.8 0a3.9 3.9 0 1 0 -7.8 0ZM590.4 1105.4a3.9 3.9 0 1 0 7.8 0a3.9 3.9 0 1 0 -7.8 0ZM603.1 1105.4a3.9 3.9 0 1 0 7.8 0a3.9 3.9 0 1 0 -7.8 0ZM615.7 1105.4a3.9 3.9 0 1 0 7.8 0a3.9 3.9 0 1 0 -7.8 0ZM628.4 1104.9a3.9 3.9 0 1 0 7.8 0a3.9 3.9 0 1 0 -7.8 0Z" fill="#fff" stroke="#14148c" stroke-width="2.4"/><path d="M175.5 772.2 178.7 768.4 181.9 746.8 185 714.5 188.2 688 191.4 674.1 194.6 667.7 197.7 673.7 200.9 724.5 204.1 807.8 207.2 880.5 210.4 947.7 213.6 997.4 216.7 1032.7 219.9 1055.1 223.1 1072.4 226.2 1084.1 229.4 1093.5 232.6 1098 235.7 1100.8 238.9 1102.1 242.1 1103.1 245.2 1103.8 248.4 1104.3 251.6 1104.5 254.7 1104.6 257.9 1104.7 261.1 1104.8 264.2 1104.9 267.4 1105 270.6 1105 273.7 1105.1 276.9 1105.1 280.1 1105.1 283.2 1105.1 286.4 1104.7 289.6 1105.2 292.7 1105.3 295.9 1105.4 299.1 1105.4 302.2 1105.4 305.4 1105.4 308.6 1105.4 311.7 1105.1 314.9 1105.1 318.1 1105.4 321.3 1105.1 324.4 1105.4 327.6 1104.5 330.8 1104.4 333.9 1105.3 337.1 1105.1 340.3 1105.2 343.4 1105 346.6 1105.4 349.8 1105.4 352.9 1105 356.1 1105.4 359.3 1105.2 362.4 1105.4 365.6 1105.4 368.8 1105 371.9 1104.8 375.1 1105.4 378.3 1105.4 391.6 1105.2 404.2 1105.4 416.9 1105.4 429.6 1105.4 442.2 1105.4 454.9 1105.2 467.6 1105.4 480.3 1105.3 492.9 1105.4 505.6 1105.4 518.3 1105.2 530.9 1105 543.6 1105.1 556.3 1105.3 569 1105.4 581.6 1105.2 594.3 1105.4 607 1105.4 619.6 1105 632.3 1105.4" fill="none" stroke="#1616a0" stroke-width="2.0"/><path d="M172.4 769.1h6.2v6.2h-6.2ZM175.6 765.2h6.2v6.2h-6.2ZM178.8 743.7h6.2v6.2h-6.2ZM181.9 711.3h6.2v6.2h-6.2ZM185.1 684.8h6.2v6.2h-6.2ZM188.3 671h6.2v6.2h-6.2ZM191.4 664.6h6.2v6.2h-6.2ZM194.6 670.5h6.2v6.2h-6.2ZM197.8 721.3h6.2v6.2h-6.2ZM200.9 804.6h6.2v6.2h-6.2ZM204.1 877.4h6.2v6.2h-6.2ZM207.3 944.6h6.2v6.2h-6.2ZM210.4 994.3h6.2v6.2h-6.2ZM213.6 1029.6h6.2v6.2h-6.2ZM216.8 1052h6.2v6.2h-6.2ZM219.9 1069.2h6.2v6.2h-6.2ZM223.1 1080.9h6.2v6.2h-6.2ZM226.3 1090.4h6.2v6.2h-6.2ZM229.4 1094.9h6.2v6.2h-6.2ZM232.6 1097.7h6.2v6.2h-6.2ZM235.8 1099h6.2v6.2h-6.2ZM238.9 1099.9h6.2v6.2h-6.2ZM242.1 1100.7h6.2v6.2h-6.2ZM245.3 1101.1h6.2v6.2h-6.2ZM248.4 1101.4h6.2v6.2h-6.2ZM251.6 1101.5h6.2v6.2h-6.2ZM254.8 1101.6h6.2v6.2h-6.2ZM257.9 1101.7h6.2v6.2h-6.2ZM261.1 1101.8h6.2v6.2h-6.2ZM264.3 1101.9h6.2v6.2h-6.2ZM267.5 1101.9h6.2v6.2h-6.2ZM270.6 1102h6.2v6.2h-6.2ZM273.8 1102h6.2v6.2h-6.2ZM277 1102h6.2v6.2h-6.2ZM280.1 1102h6.2v6.2h-6.2ZM283.3 1101.6h6.2v6.2h-6.2ZM286.5 1102.1h6.2v6.2h-6.2ZM289.6 1102.2h6.2v6.2h-6.2ZM292.8 1102.3h6.2v6.2h-6.2ZM296 1102.3h6.2v6.2h-6.2ZM299.1 1102.3h6.2v6.2h-6.2ZM302.3 1102.3h6.2v6.2h-6.2ZM305.5 1102.3h6.2v6.2h-6.2ZM308.6 1102h6.2v6.2h-6.2ZM311.8 1101.9h6.2v6.2h-6.2ZM315 1102.2h6.2v6.2h-6.2ZM318.1 1102h6.2v6.2h-6.2ZM321.3 1102.3h6.2v6.2h-6.2ZM324.5 1101.4h6.2v6.2h-6.2ZM327.6 1101.3h6.2v6.2h-6.2ZM330.8 1102.2h6.2v6.2h-6.2ZM334 1102h6.2v6.2h-6.2ZM337.1 1102.1h6.2v6.2h-6.2ZM340.3 1101.9h6.2v6.2h-6.2ZM343.5 1102.3h6.2v6.2h-6.2ZM346.6 1102.3h6.2v6.2h-6.2ZM349.8 1101.9h6.2v6.2h-6.2ZM353 1102.3h6.2v6.2h-6.2ZM356.1 1102h6.2v6.2h-6.2ZM359.3 1102.3h6.2v6.2h-6.2ZM362.5 1102.3h6.2v6.2h-6.2ZM365.6 1101.8h6.2v6.2h-6.2ZM368.8 1101.6h6.2v6.2h-6.2ZM372 1102.2h6.2v6.2h-6.2ZM375.1 1102.3h6.2v6.2h-6.2ZM388.4 1102.1h6.2v6.2h-6.2ZM401.1 1102.3h6.2v6.2h-6.2ZM413.8 1102.3h6.2v6.2h-6.2ZM426.5 1102.2h6.2v6.2h-6.2ZM439.1 1102.3h6.2v6.2h-6.2ZM451.8 1102.1h6.2v6.2h-6.2ZM464.5 1102.3h6.2v6.2h-6.2ZM477.1 1102.2h6.2v6.2h-6.2ZM489.8 1102.3h6.2v6.2h-6.2ZM502.5 1102.3h6.2v6.2h-6.2ZM515.2 1102.1h6.2v6.2h-6.2ZM527.8 1101.8h6.2v6.2h-6.2ZM540.5 1102h6.2v6.2h-6.2ZM553.2 1102.2h6.2v6.2h-6.2ZM565.8 1102.3h6.2v6.2h-6.2ZM578.5 1102.1h6.2v6.2h-6.2ZM591.2 1102.3h6.2v6.2h-6.2ZM603.8 1102.3h6.2v6.2h-6.2ZM616.5 1101.9h6.2v6.2h-6.2ZM629.2 1102.3h6.2v6.2h-6.2Z" fill="#fff" stroke="#1616a0" stroke-width="2.4"/><path d="M176.8 779.1 180 769.4 183.1 744.9 186.3 712.7 189.5 688 192.7 671.9 195.8 666.5 199 677.3 202.2 726 205.3 798.1 208.5 867.3 211.7 931.7 214.8 981.9 218 1020.3 221.2 1046.2 224.3 1065.6 227.5 1079.4 230.7 1089.3 233.8 1094.8 237 1098.3 240.2 1100.1 243.3 1101.6 246.5 1102.7 249.7 1103.3 252.8 1103.6 256 1103.9 259.2 1104.1 262.3 1104.3 265.5 1104.5 268.7 1104.6 271.8 1104.7 275 1104.8 278.2 1104.8 281.3 1104.9 284.5 1104.8 287.7 1105 290.8 1104.8 294 1105 297.2 1104.6 300.3 1104.8 303.5 1105.4 306.7 1105.4 309.8 1105.2 313 1105.2 316.2 1105.2 319.4 1104.7 322.5 1105.3 325.7 1105.2 328.9 1105 332 1105.4 335.2 1104.9 338.4 1104.9 341.5 1104.6 344.7 1105.4 347.9 1105.2 351 1105 354.2 1105.2 357.4 1105.4 360.5 1104.8 363.7 1105.2 366.9 1105 370 1105.4 373.2 1104.8 376.4 1105.3 391.6 1105.4 404.2 1105 416.9 1104.9 429.6 1105.4 442.2 1105 454.9 1104.8 467.6 1105.2 480.3 1105.4 492.9 1105.2 505.6 1105 518.3 1105.4 530.9 1104.8 543.6 1105.4 556.3 1105.4 569 1105 581.6 1105.3 594.3 1105 607 1105.4 619.6 1105.3 632.3 1105.4" fill="none" stroke="#0c0cb0" stroke-width="3.0"/><path d="M176.8 774.3L181.2 781.7L172.4 781.7ZM180 764.7L184.3 772.1L175.6 772.1ZM183.1 740.1L187.5 747.5L178.8 747.5ZM186.3 708L190.7 715.4L181.9 715.4ZM189.5 683.2L193.9 690.6L185.1 690.6ZM192.7 667.2L197 674.6L188.3 674.6ZM195.8 661.7L200.2 669.1L191.5 669.1ZM199 672.5L203.4 680L194.6 680ZM202.2 721.3L206.5 728.7L197.8 728.7ZM205.3 793.4L209.7 800.8L201 800.8ZM208.5 862.6L212.9 870L204.1 870ZM211.7 926.9L216 934.3L207.3 934.3ZM214.8 977.1L219.2 984.6L210.5 984.6ZM218 1015.6L222.4 1023L213.6 1023ZM221.2 1041.5L225.5 1048.9L216.8 1048.9ZM224.3 1060.8L228.7 1068.2L220 1068.2ZM227.5 1074.7L231.9 1082.1L223.1 1082.1ZM230.7 1084.6L235 1092L226.3 1092ZM233.8 1090.1L238.2 1097.5L229.5 1097.5ZM237 1093.5L241.4 1101L232.6 1101ZM240.2 1095.4L244.5 1102.8L235.8 1102.8ZM243.3 1096.8L247.7 1104.2L239 1104.2ZM246.5 1097.9L250.9 1105.3L242.1 1105.3ZM249.7 1098.6L254 1106L245.3 1106ZM252.8 1098.9L257.2 1106.3L248.5 1106.3ZM256 1099.1L260.4 1106.6L251.6 1106.6ZM259.2 1099.4L263.5 1106.8L254.8 1106.8ZM262.3 1099.6L266.7 1107L258 1107ZM265.5 1099.7L269.9 1107.1L261.1 1107.1ZM268.7 1099.8L273 1107.3L264.3 1107.3ZM271.8 1100L276.2 1107.4L267.5 1107.4ZM275 1100L279.4 1107.4L270.6 1107.4ZM278.2 1100.1L282.5 1107.5L273.8 1107.5ZM281.3 1100.1L285.7 1107.5L277 1107.5ZM284.5 1100.1L288.9 1107.5L280.1 1107.5ZM287.7 1100.3L292 1107.7L283.3 1107.7ZM290.8 1100.1L295.2 1107.5L286.5 1107.5ZM294 1100.3L298.4 1107.7L289.6 1107.7ZM297.2 1099.8L301.5 1107.2L292.8 1107.2ZM300.3 1100L304.7 1107.5L296 1107.5ZM303.5 1100.6L307.9 1108L299.1 1108ZM306.7 1100.7L311 1108.1L302.3 1108.1ZM309.8 1100.5L314.2 1107.9L305.5 1107.9ZM313 1100.5L317.4 1107.9L308.6 1107.9ZM316.2 1100.5L320.6 1107.9L311.8 1107.9ZM319.4 1100L323.7 1107.4L315 1107.4ZM322.5 1100.5L326.9 1107.9L318.2 1107.9ZM325.7 1100.4L330.1 1107.8L321.3 1107.8ZM328.9 1100.2L333.2 1107.7L324.5 1107.7ZM332 1100.7L336.4 1108.1L327.7 1108.1ZM335.2 1100.2L339.6 1107.6L330.8 1107.6ZM338.4 1100.1L342.7 1107.5L334 1107.5ZM341.5 1099.9L345.9 1107.3L337.2 1107.3ZM344.7 1100.7L349.1 1108.1L340.3 1108.1ZM347.9 1100.5L352.2 1107.9L343.5 1107.9ZM351 1100.3L355.4 1107.7L346.7 1107.7ZM354.2 1100.5L358.6 1107.9L349.8 1107.9ZM357.4 1100.7L361.7 1108.1L353 1108.1ZM360.5 1100.1L364.9 1107.5L356.2 1107.5ZM363.7 1100.5L368.1 1107.9L359.3 1107.9ZM366.9 1100.3L371.2 1107.7L362.5 1107.7ZM370 1100.7L374.4 1108.1L365.7 1108.1ZM373.2 1100.1L377.6 1107.5L368.8 1107.5ZM376.4 1100.5L380.7 1107.9L372 1107.9ZM391.6 1100.7L395.9 1108.1L387.2 1108.1ZM404.2 1100.2L408.6 1107.6L399.9 1107.6ZM416.9 1100.1L421.3 1107.5L412.5 1107.5ZM429.6 1100.7L433.9 1108.1L425.2 1108.1ZM442.2 1100.2L446.6 1107.6L437.9 1107.6ZM454.9 1100L459.3 1107.4L450.6 1107.4ZM467.6 1100.5L472 1107.9L463.2 1107.9ZM480.3 1100.7L484.6 1108.1L475.9 1108.1ZM492.9 1100.4L497.3 1107.8L488.6 1107.8ZM505.6 1100.3L510 1107.7L501.2 1107.7ZM518.3 1100.7L522.6 1108.1L513.9 1108.1ZM530.9 1100.1L535.3 1107.5L526.6 1107.5ZM543.6 1100.7L548 1108.1L539.2 1108.1ZM556.3 1100.7L560.6 1108.1L551.9 1108.1ZM569 1100.3L573.3 1107.7L564.6 1107.7ZM581.6 1100.6L586 1108L577.3 1108ZM594.3 1100.2L598.7 1107.6L589.9 1107.6ZM607 1100.7L611.3 1108.1L602.6 1108.1ZM619.6 1100.5L624 1107.9L615.3 1107.9ZM632.3 1100.6L636.7 1108.1L627.9 1108.1Z" fill="#fff" stroke="#0c0cb0" stroke-width="2.4"/><path d="M174.9 785.9 178.1 785.9 181.2 769.5 184.4 742.7 187.6 711.5 190.8 687.2 193.9 669.7 197.1 665.3 200.3 680.5 203.4 724.4 206.6 786.6 209.8 853.7 212.9 915.9 216.1 967.8 219.3 1009.5 222.4 1038.4 225.6 1059.6 228.8 1075.2 231.9 1085.6 235.1 1092 238.3 1096 241.4 1098.3 244.6 1100.2 247.8 1101.6 250.9 1102.4 254.1 1102.8 257.3 1103.2 260.4 1103.5 263.6 1103.8 266.8 1104 269.9 1104.2 273.1 1104.4 276.3 1104.5 279.4 1104.6 282.6 1104.6 285.8 1104.5 288.9 1104.5 292.1 1104.4 295.3 1104.5 298.4 1104.7 301.6 1105.1 304.8 1104.5 307.9 1104.9 311.1 1104.2 314.3 1105 317.5 1105.2 320.6 1104.4 323.8 1105.1 327 1105.3 330.1 1104.5 333.3 1105.3 336.5 1104.4 339.6 1105.2 342.8 1104.8 346 1104.8 349.1 1105.4 352.3 1105 355.5 1105.1 358.6 1104.9 361.8 1104.8 365 1104.5 368.1 1105.1 371.3 1105.1 374.5 1104.3 377.6 1104.8 391.6 1104.8 404.2 1105.4 416.9 1105.4 429.6 1105.4 442.2 1105.3 454.9 1105.1 467.6 1104.4 480.3 1105.4 492.9 1105.4 505.6 1105.1 518.3 1105.3 530.9 1105 543.6 1105.4 556.3 1105.4 569 1104.7 581.6 1105.2 594.3 1105.4 607 1105.4 619.6 1105.4 632.3 1105.4" fill="none" stroke="#0a14b4" stroke-width="3.0"/><path d="M174.9 790.7L179.3 783.3L170.5 783.3ZM178.1 790.7L182.4 783.3L173.7 783.3ZM181.2 774.3L185.6 766.9L176.9 766.9ZM184.4 747.4L188.8 740L180 740ZM187.6 716.2L192 708.8L183.2 708.8ZM190.8 691.9L195.1 684.5L186.4 684.5ZM193.9 674.5L198.3 667.1L189.6 667.1ZM197.1 670.1L201.5 662.7L192.7 662.7ZM200.3 685.3L204.6 677.9L195.9 677.9ZM203.4 729.2L207.8 721.7L199.1 721.7ZM206.6 791.3L211 783.9L202.2 783.9ZM209.8 858.4L214.1 851L205.4 851ZM212.9 920.6L217.3 913.2L208.6 913.2ZM216.1 972.5L220.5 965.1L211.7 965.1ZM219.3 1014.3L223.6 1006.9L214.9 1006.9ZM222.4 1043.1L226.8 1035.7L218.1 1035.7ZM225.6 1064.3L230 1056.9L221.2 1056.9ZM228.8 1080L233.1 1072.6L224.4 1072.6ZM231.9 1090.3L236.3 1082.9L227.6 1082.9ZM235.1 1096.8L239.5 1089.4L230.7 1089.4ZM238.3 1100.7L242.6 1093.3L233.9 1093.3ZM241.4 1103.1L245.8 1095.7L237.1 1095.7ZM244.6 1105L249 1097.6L240.2 1097.6ZM247.8 1106.4L252.1 1099L243.4 1099ZM250.9 1107.1L255.3 1099.7L246.6 1099.7ZM254.1 1107.6L258.5 1100.2L249.7 1100.2ZM257.3 1107.9L261.6 1100.5L252.9 1100.5ZM260.4 1108.3L264.8 1100.8L256.1 1100.8ZM263.6 1108.5L268 1101.1L259.2 1101.1ZM266.8 1108.8L271.1 1101.4L262.4 1101.4ZM269.9 1109L274.3 1101.6L265.6 1101.6ZM273.1 1109.1L277.5 1101.7L268.7 1101.7ZM276.3 1109.2L280.6 1101.8L271.9 1101.8ZM279.4 1109.3L283.8 1101.9L275.1 1101.9ZM282.6 1109.3L287 1101.9L278.2 1101.9ZM285.8 1109.2L290.1 1101.8L281.4 1101.8ZM288.9 1109.3L293.3 1101.8L284.6 1101.8ZM292.1 1109.1L296.5 1101.7L287.7 1101.7ZM295.3 1109.2L299.6 1101.8L290.9 1101.8ZM298.4 1109.5L302.8 1102.1L294.1 1102.1ZM301.6 1109.9L306 1102.4L297.2 1102.4ZM304.8 1109.2L309.1 1101.8L300.4 1101.8ZM307.9 1109.6L312.3 1102.2L303.6 1102.2ZM311.1 1109L315.5 1101.5L306.7 1101.5ZM314.3 1109.7L318.7 1102.3L309.9 1102.3ZM317.5 1109.9L321.8 1102.5L313.1 1102.5ZM320.6 1109.2L325 1101.8L316.3 1101.8ZM323.8 1109.8L328.2 1102.4L319.4 1102.4ZM327 1110.1L331.3 1102.7L322.6 1102.7ZM330.1 1109.2L334.5 1101.8L325.8 1101.8ZM333.3 1110.1L337.7 1102.7L328.9 1102.7ZM336.5 1109.2L340.8 1101.8L332.1 1101.8ZM339.6 1110L344 1102.5L335.3 1102.5ZM342.8 1109.5L347.2 1102.1L338.4 1102.1ZM346 1109.6L350.3 1102.2L341.6 1102.2ZM349.1 1110.1L353.5 1102.7L344.8 1102.7ZM352.3 1109.7L356.7 1102.3L347.9 1102.3ZM355.5 1109.8L359.8 1102.4L351.1 1102.4ZM358.6 1109.7L363 1102.3L354.3 1102.3ZM361.8 1109.5L366.2 1102.1L357.4 1102.1ZM365 1109.2L369.3 1101.8L360.6 1101.8ZM368.1 1109.8L372.5 1102.4L363.8 1102.4ZM371.3 1109.8L375.7 1102.4L366.9 1102.4ZM374.5 1109.1L378.8 1101.6L370.1 1101.6ZM377.6 1109.5L382 1102.1L373.3 1102.1ZM391.6 1109.6L395.9 1102.2L387.2 1102.2ZM404.2 1110.1L408.6 1102.7L399.9 1102.7ZM416.9 1110.1L421.3 1102.7L412.5 1102.7ZM429.6 1110.1L433.9 1102.7L425.2 1102.7ZM442.2 1110L446.6 1102.6L437.9 1102.6ZM454.9 1109.8L459.3 1102.4L450.6 1102.4ZM467.6 1109.1L472 1101.7L463.2 1101.7ZM480.3 1110.1L484.6 1102.7L475.9 1102.7ZM492.9 1110.1L497.3 1102.7L488.6 1102.7ZM505.6 1109.9L510 1102.5L501.2 1102.5ZM518.3 1110L522.6 1102.6L513.9 1102.6ZM530.9 1109.7L535.3 1102.3L526.6 1102.3ZM543.6 1110.1L548 1102.7L539.2 1102.7ZM556.3 1110.1L560.6 1102.7L551.9 1102.7ZM569 1109.4L573.3 1102L564.6 1102ZM581.6 1110L586 1102.6L577.3 1102.6ZM594.3 1110.1L598.7 1102.7L589.9 1102.7ZM607 1110.1L611.3 1102.7L602.6 1102.7ZM619.6 1110.1L624 1102.7L615.3 1102.7ZM632.3 1110.1L636.7 1102.7L627.9 1102.7Z" fill="#fff" stroke="#0a14b4" stroke-width="2.4"/><path d="M176.2 792.8 179.3 792.8 182.5 768.9 185.7 740.6 188.9 710.6 192 685.2 195.2 667.5 198.4 664.8 201.5 681.9 204.7 718.3 207.9 773.5 211 839.3 214.2 900.5 217.4 955.1 220.5 1000.1 223.7 1031.5 226.9 1054.4 230 1071.3 233.2 1082.3 236.4 1089.5 239.5 1093.8 242.7 1096.7 245.9 1099.1 249 1100.7 252.2 1101.5 255.4 1102.1 258.5 1102.5 261.7 1102.9 264.9 1103.3 268 1103.6 271.2 1103.9 274.4 1104.1 277.5 1104.2 280.7 1104.3 283.9 1104 287 1104.7 290.2 1104.1 293.4 1104.6 296.5 1103.9 299.7 1104.6 302.9 1104.1 306 1104.9 309.2 1104.3 312.4 1105 315.6 1104.5 318.7 1105.1 321.9 1104.7 325.1 1104.9 328.2 1105 331.4 1104.6 334.6 1104.4 337.7 1104.7 340.9 1104.6 344.1 1104.5 347.2 1104.4 350.4 1104.4 353.6 1104.7 356.7 1104.1 359.9 1105 363.1 1104.6 366.2 1105.2 369.4 1104.1 372.6 1105 375.7 1104.9 378.9 1104.5 391.6 1105 404.2 1105.3 416.9 1105.4 429.6 1105.2 442.2 1104.5 454.9 1105.1 467.6 1104.7 480.3 1105 492.9 1105.4 505.6 1105.4 518.3 1105.4 530.9 1105.1 543.6 1105.4 556.3 1105.3 569 1105.2 581.6 1105.4 594.3 1105.4 607 1105.4 619.6 1105.2 632.3 1105.4" fill="none" stroke="#1a32b4" stroke-width="2.0"/><path d="M171.4 792.8L178.8 788.4L178.8 797.2ZM174.6 792.8L182 788.4L182 797.2ZM177.8 768.9L185.2 764.5L185.2 773.2ZM180.9 740.6L188.4 736.2L188.4 745ZM184.1 710.6L191.5 706.2L191.5 714.9ZM187.3 685.2L194.7 680.9L194.7 689.6ZM190.4 667.5L197.9 663.1L197.9 671.9ZM193.6 664.8L201 660.5L201 669.2ZM196.8 681.9L204.2 677.5L204.2 686.3ZM199.9 718.3L207.4 713.9L207.4 722.6ZM203.1 773.5L210.5 769.2L210.5 777.9ZM206.3 839.3L213.7 835L213.7 843.7ZM209.4 900.5L216.9 896.1L216.9 904.8ZM212.6 955.1L220 950.8L220 959.5ZM215.8 1000.1L223.2 995.8L223.2 1004.5ZM219 1031.5L226.4 1027.2L226.4 1035.9ZM222.1 1054.4L229.5 1050L229.5 1058.7ZM225.3 1071.3L232.7 1067L232.7 1075.7ZM228.5 1082.3L235.9 1077.9L235.9 1086.6ZM231.6 1089.5L239 1085.1L239 1093.9ZM234.8 1093.8L242.2 1089.5L242.2 1098.2ZM238 1096.7L245.4 1092.4L245.4 1101.1ZM241.1 1099.1L248.5 1094.7L248.5 1103.4ZM244.3 1100.7L251.7 1096.3L251.7 1105ZM247.5 1101.5L254.9 1097.1L254.9 1105.9ZM250.6 1102.1L258 1097.7L258 1106.4ZM253.8 1102.5L261.2 1098.2L261.2 1106.9ZM257 1102.9L264.4 1098.6L264.4 1107.3ZM260.1 1103.3L267.5 1098.9L267.5 1107.7ZM263.3 1103.6L270.7 1099.2L270.7 1108ZM266.5 1103.9L273.9 1099.5L273.9 1108.2ZM269.6 1104.1L277 1099.7L277 1108.4ZM272.8 1104.2L280.2 1099.8L280.2 1108.6ZM276 1104.3L283.4 1099.9L283.4 1108.7ZM279.1 1104L286.5 1099.6L286.5 1108.4ZM282.3 1104.7L289.7 1100.3L289.7 1109ZM285.5 1104.1L292.9 1099.8L292.9 1108.5ZM288.6 1104.6L296 1100.2L296 1108.9ZM291.8 1103.9L299.2 1099.6L299.2 1108.3ZM295 1104.6L302.4 1100.2L302.4 1108.9ZM298.1 1104.1L305.5 1099.8L305.5 1108.5ZM301.3 1104.9L308.7 1100.5L308.7 1109.2ZM304.5 1104.3L311.9 1099.9L311.9 1108.6ZM307.6 1105L315.1 1100.6L315.1 1109.4ZM310.8 1104.5L318.2 1100.2L318.2 1108.9ZM314 1105.1L321.4 1100.8L321.4 1109.5ZM317.1 1104.7L324.6 1100.3L324.6 1109ZM320.3 1104.9L327.7 1100.5L327.7 1109.3ZM323.5 1105L330.9 1100.6L330.9 1109.3ZM326.6 1104.6L334.1 1100.2L334.1 1109ZM329.8 1104.4L337.2 1100.1L337.2 1108.8ZM333 1104.7L340.4 1100.3L340.4 1109ZM336.1 1104.6L343.6 1100.3L343.6 1109ZM339.3 1104.5L346.7 1100.1L346.7 1108.9ZM342.5 1104.4L349.9 1100L349.9 1108.7ZM345.7 1104.4L353.1 1100.1L353.1 1108.8ZM348.8 1104.7L356.2 1100.3L356.2 1109ZM352 1104.1L359.4 1099.8L359.4 1108.5ZM355.2 1105L362.6 1100.6L362.6 1109.4ZM358.3 1104.6L365.7 1100.2L365.7 1108.9ZM361.5 1105.2L368.9 1100.9L368.9 1109.6ZM364.7 1104.1L372.1 1099.7L372.1 1108.4ZM367.8 1105L375.2 1100.6L375.2 1109.3ZM371 1104.9L378.4 1100.5L378.4 1109.2ZM374.2 1104.5L381.6 1100.1L381.6 1108.8ZM386.8 1105L394.2 1100.7L394.2 1109.4ZM399.5 1105.3L406.9 1100.9L406.9 1109.7ZM412.2 1105.4L419.6 1101L419.6 1109.8ZM424.8 1105.2L432.2 1100.8L432.2 1109.6ZM437.5 1104.5L444.9 1100.1L444.9 1108.9ZM450.2 1105.1L457.6 1100.8L457.6 1109.5ZM462.8 1104.7L470.3 1100.3L470.3 1109ZM475.5 1105L482.9 1100.6L482.9 1109.4ZM488.2 1105.4L495.6 1101L495.6 1109.8ZM500.9 1105.4L508.3 1101L508.3 1109.8ZM513.5 1105.4L520.9 1101L520.9 1109.8ZM526.2 1105.1L533.6 1100.8L533.6 1109.5ZM538.9 1105.4L546.3 1101L546.3 1109.8ZM551.5 1105.3L558.9 1101L558.9 1109.7ZM564.2 1105.2L571.6 1100.8L571.6 1109.6ZM576.9 1105.4L584.3 1101L584.3 1109.8ZM589.5 1105.4L597 1101L597 1109.8ZM602.2 1105.4L609.6 1101L609.6 1109.8ZM614.9 1105.2L622.3 1100.9L622.3 1109.6ZM627.6 1105.4L635 1101L635 1109.8Z" fill="#fff" stroke="#1a32b4" stroke-width="2.4"/><path d="M174.3 799.6 177.4 799.6 180.6 796.1 183.8 767.5 186.9 738.8 190.1 709.7 193.3 682.1 196.5 665.1 199.6 665.1 202.8 680.5 206 707.6 209.1 759.2 212.3 824.2 215.5 885.6 218.6 944.1 221.8 991.8 225 1025.6 228.1 1049.9 231.3 1067.7 234.5 1079.3 237.6 1087.3 240.8 1091.9 244 1095.3 247.1 1098 250.3 1099.8 253.5 1100.7 256.6 1101.3 259.8 1101.9 263 1102.4 266.1 1102.9 269.3 1103.2 272.5 1103.5 275.6 1103.8 278.8 1103.9 282 1104 285.1 1103.3 288.3 1103.7 291.5 1103.7 294.6 1104.2 297.8 1104.5 301 1104.2 304.1 1104.2 307.3 1104.7 310.5 1104.5 313.6 1104.2 316.8 1103.9 320 1104.2 323.2 1104.6 326.3 1104.9 329.5 1103.8 332.7 1104.4 335.8 1104.3 339 1104.5 342.2 1105 345.3 1103.9 348.5 1104.4 351.7 1104.2 354.8 1104.9 358 1104.7 361.2 1104.2 364.3 1104.8 367.5 1105 370.7 1105.1 373.8 1105.2 377 1104.5 391.6 1104.9 404.2 1105.4 416.9 1104.5 429.6 1104.6 442.2 1104.7 454.9 1105.4 467.6 1105.1 480.3 1104.8 492.9 1105.4 505.6 1105.4 518.3 1105.4 530.9 1105.4 543.6 1105.3 556.3 1105 569 1105.1 581.6 1104.9 594.3 1105.4 607 1105.4 619.6 1105.4 632.3 1105.4" fill="none" stroke="#2a4cb4" stroke-width="2.0"/><path d="M179 799.6L171.6 795.3L171.6 804ZM182.2 799.6L174.8 795.3L174.8 804ZM185.4 796.1L177.9 791.7L177.9 800.5ZM188.5 767.5L181.1 763.2L181.1 771.9ZM191.7 738.8L184.3 734.5L184.3 743.2ZM194.9 709.7L187.4 705.3L187.4 714ZM198 682.1L190.6 677.7L190.6 686.4ZM201.2 665.1L193.8 660.8L193.8 669.5ZM204.4 665.1L197 660.8L197 669.5ZM207.5 680.5L200.1 676.2L200.1 684.9ZM210.7 707.6L203.3 703.3L203.3 712ZM213.9 759.2L206.5 754.8L206.5 763.6ZM217 824.2L209.6 819.9L209.6 828.6ZM220.2 885.6L212.8 881.2L212.8 890ZM223.4 944.1L216 939.8L216 948.5ZM226.5 991.8L219.1 987.5L219.1 996.2ZM229.7 1025.6L222.3 1021.2L222.3 1029.9ZM232.9 1049.9L225.5 1045.5L225.5 1054.3ZM236 1067.7L228.6 1063.4L228.6 1072.1ZM239.2 1079.3L231.8 1075L231.8 1083.7ZM242.4 1087.3L235 1082.9L235 1091.6ZM245.5 1091.9L238.1 1087.6L238.1 1096.3ZM248.7 1095.3L241.3 1091L241.3 1099.7ZM251.9 1098L244.5 1093.6L244.5 1102.3ZM255 1099.8L247.6 1095.4L247.6 1104.1ZM258.2 1100.7L250.8 1096.3L250.8 1105ZM261.4 1101.3L254 1097L254 1105.7ZM264.5 1101.9L257.1 1097.5L257.1 1106.3ZM267.7 1102.4L260.3 1098L260.3 1106.8ZM270.9 1102.9L263.5 1098.5L263.5 1107.2ZM274 1103.2L266.6 1098.9L266.6 1107.6ZM277.2 1103.5L269.8 1099.2L269.8 1107.9ZM280.4 1103.8L273 1099.4L273 1108.1ZM283.5 1103.9L276.1 1099.6L276.1 1108.3ZM286.7 1104L279.3 1099.7L279.3 1108.4ZM289.9 1103.3L282.5 1099L282.5 1107.7ZM293.1 1103.7L285.6 1099.3L285.6 1108.1ZM296.2 1103.7L288.8 1099.4L288.8 1108.1ZM299.4 1104.2L292 1099.8L292 1108.5ZM302.6 1104.5L295.1 1100.1L295.1 1108.8ZM305.7 1104.2L298.3 1099.8L298.3 1108.6ZM308.9 1104.2L301.5 1099.8L301.5 1108.5ZM312.1 1104.7L304.6 1100.4L304.6 1109.1ZM315.2 1104.5L307.8 1100.1L307.8 1108.8ZM318.4 1104.2L311 1099.8L311 1108.5ZM321.6 1103.9L314.1 1099.5L314.1 1108.2ZM324.7 1104.2L317.3 1099.8L317.3 1108.6ZM327.9 1104.6L320.5 1100.2L320.5 1108.9ZM331.1 1104.9L323.7 1100.5L323.7 1109.2ZM334.2 1103.8L326.8 1099.4L326.8 1108.2ZM337.4 1104.4L330 1100.1L330 1108.8ZM340.6 1104.3L333.2 1099.9L333.2 1108.6ZM343.7 1104.5L336.3 1100.2L336.3 1108.9ZM346.9 1105L339.5 1100.6L339.5 1109.4ZM350.1 1103.9L342.7 1099.5L342.7 1108.2ZM353.2 1104.4L345.8 1100L345.8 1108.7ZM356.4 1104.2L349 1099.8L349 1108.6ZM359.6 1104.9L352.2 1100.5L352.2 1109.3ZM362.7 1104.7L355.3 1100.3L355.3 1109ZM365.9 1104.2L358.5 1099.9L358.5 1108.6ZM369.1 1104.8L361.7 1100.5L361.7 1109.2ZM372.2 1105L364.8 1100.6L364.8 1109.3ZM375.4 1105.1L368 1100.8L368 1109.5ZM378.6 1105.2L371.2 1100.9L371.2 1109.6ZM381.7 1104.5L374.3 1100.1L374.3 1108.9ZM396.3 1104.9L388.9 1100.5L388.9 1109.3ZM409 1105.4L401.6 1101L401.6 1109.8ZM421.7 1104.5L414.2 1100.1L414.2 1108.9ZM434.3 1104.6L426.9 1100.3L426.9 1109ZM447 1104.7L439.6 1100.3L439.6 1109.1ZM459.7 1105.4L452.3 1101L452.3 1109.8ZM472.3 1105.1L464.9 1100.8L464.9 1109.5ZM485 1104.8L477.6 1100.4L477.6 1109.2ZM497.7 1105.4L490.3 1101L490.3 1109.8ZM510.3 1105.4L502.9 1101L502.9 1109.8ZM523 1105.4L515.6 1101L515.6 1109.8ZM535.7 1105.4L528.3 1101L528.3 1109.8ZM548.4 1105.3L540.9 1100.9L540.9 1109.6ZM561 1105L553.6 1100.7L553.6 1109.4ZM573.7 1105.1L566.3 1100.8L566.3 1109.5ZM586.4 1104.9L579 1100.5L579 1109.3ZM599 1105.4L591.6 1101L591.6 1109.7ZM611.7 1105.4L604.3 1101L604.3 1109.8ZM624.4 1105.4L617 1101L617 1109.8ZM637 1105.4L629.6 1101L629.6 1109.8Z" fill="#fff" stroke="#2a4cb4" stroke-width="2.4"/><path d="M175.5 793.9 178.7 791.5 181.9 789 185 766.6 188.2 740.8 191.4 713.9 194.6 687.7 197.7 669.6 200.9 666.1 204.1 678.5 207.2 703.1 210.4 748.9 213.6 809 216.7 869.3 219.9 927.1 223.1 976.3 226.2 1011.6 229.4 1038.6 232.6 1059.5 235.7 1073.3 238.9 1082.5 242.1 1088.5 245.2 1092.4 248.4 1095.2 251.6 1097.5 254.7 1099 257.9 1100 261.1 1100.8 264.2 1101.5 267.4 1102.1 270.6 1102.6 273.7 1103 276.9 1103.3 280.1 1103.5 283.2 1103.6 286.4 1103.6 289.6 1103.5 292.7 1103.9 295.9 1104 299.1 1104.1 302.2 1104.1 305.4 1104 308.6 1103.8 311.7 1103.9 314.9 1103.7 318.1 1104.2 321.3 1104.4 324.4 1104.4 327.6 1104.7 330.8 1104.4 333.9 1104.5 337.1 1103.7 340.3 1104.2 343.4 1103.8 346.6 1105 349.8 1104.3 352.9 1104.1 356.1 1104.4 359.3 1104.6 362.4 1104.4 365.6 1104.5 368.8 1104.5 371.9 1104.5 375.1 1104.3 378.3 1104.5 391.6 1104.6 404.2 1104.7 416.9 1104.6 429.6 1105.1 442.2 1104.7 454.9 1105 467.6 1104.7 480.3 1105.2 492.9 1105.1 505.6 1105.1 518.3 1105.4 530.9 1104.8 543.6 1105 556.3 1105.1 569 1104.8 581.6 1105.3 594.3 1105.2 607 1104.8 619.6 1104.4 632.3 1105.2" fill="none" stroke="#3464b4" stroke-width="2.0"/><path d="M171.6 793.9a3.9 3.9 0 1 0 7.8 0a3.9 3.9 0 1 0 -7.8 0ZM174.8 791.5a3.9 3.9 0 1 0 7.8 0a3.9 3.9 0 1 0 -7.8 0ZM178 789a3.9 3.9 0 1 0 7.8 0a3.9 3.9 0 1 0 -7.8 0ZM181.1 766.6a3.9 3.9 0 1 0 7.8 0a3.9 3.9 0 1 0 -7.8 0ZM184.3 740.8a3.9 3.9 0 1 0 7.8 0a3.9 3.9 0 1 0 -7.8 0ZM187.5 713.9a3.9 3.9 0 1 0 7.8 0a3.9 3.9 0 1 0 -7.8 0ZM190.7 687.7a3.9 3.9 0 1 0 7.8 0a3.9 3.9 0 1 0 -7.8 0ZM193.8 669.6a3.9 3.9 0 1 0 7.8 0a3.9 3.9 0 1 0 -7.8 0ZM197 666.1a3.9 3.9 0 1 0 7.8 0a3.9 3.9 0 1 0 -7.8 0ZM200.2 678.5a3.9 3.9 0 1 0 7.8 0a3.9 3.9 0 1 0 -7.8 0ZM203.3 703.1a3.9 3.9 0 1 0 7.8 0a3.9 3.9 0 1 0 -7.8 0ZM206.5 748.9a3.9 3.9 0 1 0 7.8 0a3.9 3.9 0 1 0 -7.8 0ZM209.7 809a3.9 3.9 0 1 0 7.8 0a3.9 3.9 0 1 0 -7.8 0ZM212.8 869.3a3.9 3.9 0 1 0 7.8 0a3.9 3.9 0 1 0 -7.8 0ZM216 927.1a3.9 3.9 0 1 0 7.8 0a3.9 3.9 0 1 0 -7.8 0ZM219.2 976.3a3.9 3.9 0 1 0 7.8 0a3.9 3.9 0 1 0 -7.8 0ZM222.3 1011.6a3.9 3.9 0 1 0 7.8 0a3.9 3.9 0 1 0 -7.8 0ZM225.5 1038.6a3.9 3.9 0 1 0 7.8 0a3.9 3.9 0 1 0 -7.8 0ZM228.7 1059.5a3.9 3.9 0 1 0 7.8 0a3.9 3.9 0 1 0 -7.8 0ZM231.8 1073.3a3.9 3.9 0 1 0 7.8 0a3.9 3.9 0 1 0 -7.8 0ZM235 1082.5a3.9 3.9 0 1 0 7.8 0a3.9 3.9 0 1 0 -7.8 0ZM238.2 1088.5a3.9 3.9 0 1 0 7.8 0a3.9 3.9 0 1 0 -7.8 0ZM241.3 1092.4a3.9 3.9 0 1 0 7.8 0a3.9 3.9 0 1 0 -7.8 0ZM244.5 1095.2a3.9 3.9 0 1 0 7.8 0a3.9 3.9 0 1 0 -7.8 0ZM247.7 1097.5a3.9 3.9 0 1 0 7.8 0a3.9 3.9 0 1 0 -7.8 0ZM250.8 1099a3.9 3.9 0 1 0 7.8 0a3.9 3.9 0 1 0 -7.8 0ZM254 1100a3.9 3.9 0 1 0 7.8 0a3.9 3.9 0 1 0 -7.8 0ZM257.2 1100.8a3.9 3.9 0 1 0 7.8 0a3.9 3.9 0 1 0 -7.8 0ZM260.3 1101.5a3.9 3.9 0 1 0 7.8 0a3.9 3.9 0 1 0 -7.8 0ZM263.5 1102.1a3.9 3.9 0 1 0 7.8 0a3.9 3.9 0 1 0 -7.8 0ZM266.7 1102.6a3.9 3.9 0 1 0 7.8 0a3.9 3.9 0 1 0 -7.8 0ZM269.8 1103a3.9 3.9 0 1 0 7.8 0a3.9 3.9 0 1 0 -7.8 0ZM273 1103.3a3.9 3.9 0 1 0 7.8 0a3.9 3.9 0 1 0 -7.8 0ZM276.2 1103.5a3.9 3.9 0 1 0 7.8 0a3.9 3.9 0 1 0 -7.8 0ZM279.3 1103.6a3.9 3.9 0 1 0 7.8 0a3.9 3.9 0 1 0 -7.8 0ZM282.5 1103.6a3.9 3.9 0 1 0 7.8 0a3.9 3.9 0 1 0 -7.8 0ZM285.7 1103.5a3.9 3.9 0 1 0 7.8 0a3.9 3.9 0 1 0 -7.8 0ZM288.8 1103.9a3.9 3.9 0 1 0 7.8 0a3.9 3.9 0 1 0 -7.8 0ZM292 1104a3.9 3.9 0 1 0 7.8 0a3.9 3.9 0 1 0 -7.8 0ZM295.2 1104.1a3.9 3.9 0 1 0 7.8 0a3.9 3.9 0 1 0 -7.8 0ZM298.3 1104.1a3.9 3.9 0 1 0 7.8 0a3.9 3.9 0 1 0 -7.8 0ZM301.5 1104a3.9 3.9 0 1 0 7.8 0a3.9 3.9 0 1 0 -7.8 0ZM304.7 1103.8a3.9 3.9 0 1 0 7.8 0a3.9 3.9 0 1 0 -7.8 0ZM307.8 1103.9a3.9 3.9 0 1 0 7.8 0a3.9 3.9 0 1 0 -7.8 0ZM311 1103.7a3.9 3.9 0 1 0 7.8 0a3.9 3.9 0 1 0 -7.8 0ZM314.2 1104.2a3.9 3.9 0 1 0 7.8 0a3.9 3.9 0 1 0 -7.8 0ZM317.4 1104.4a3.9 3.9 0 1 0 7.8 0a3.9 3.9 0 1 0 -7.8 0ZM320.5 1104.4a3.9 3.9 0 1 0 7.8 0a3.9 3.9 0 1 0 -7.8 0ZM323.7 1104.7a3.9 3.9 0 1 0 7.8 0a3.9 3.9 0 1 0 -7.8 0ZM326.9 1104.4a3.9 3.9 0 1 0 7.8 0a3.9 3.9 0 1 0 -7.8 0ZM330 1104.5a3.9 3.9 0 1 0 7.8 0a3.9 3.9 0 1 0 -7.8 0ZM333.2 1103.7a3.9 3.9 0 1 0 7.8 0a3.9 3.9 0 1 0 -7.8 0ZM336.4 1104.2a3.9 3.9 0 1 0 7.8 0a3.9 3.9 0 1 0 -7.8 0ZM339.5 1103.8a3.9 3.9 0 1 0 7.8 0a3.9 3.9 0 1 0 -7.8 0ZM342.7 1105a3.9 3.9 0 1 0 7.8 0a3.9 3.9 0 1 0 -7.8 0ZM345.9 1104.3a3.9 3.9 0 1 0 7.8 0a3.9 3.9 0 1 0 -7.8 0ZM349 1104.1a3.9 3.9 0 1 0 7.8 0a3.9 3.9 0 1 0 -7.8 0ZM352.2 1104.4a3.9 3.9 0 1 0 7.8 0a3.9 3.9 0 1 0 -7.8 0ZM355.4 1104.6a3.9 3.9 0 1 0 7.8 0a3.9 3.9 0 1 0 -7.8 0ZM358.5 1104.4a3.9 3.9 0 1 0 7.8 0a3.9 3.9 0 1 0 -7.8 0ZM361.7 1104.5a3.9 3.9 0 1 0 7.8 0a3.9 3.9 0 1 0 -7.8 0ZM364.9 1104.5a3.9 3.9 0 1 0 7.8 0a3.9 3.9 0 1 0 -7.8 0ZM368 1104.5a3.9 3.9 0 1 0 7.8 0a3.9 3.9 0 1 0 -7.8 0ZM371.2 1104.3a3.9 3.9 0 1 0 7.8 0a3.9 3.9 0 1 0 -7.8 0ZM374.4 1104.5a3.9 3.9 0 1 0 7.8 0a3.9 3.9 0 1 0 -7.8 0ZM387.7 1104.6a3.9 3.9 0 1 0 7.8 0a3.9 3.9 0 1 0 -7.8 0ZM400.3 1104.7a3.9 3.9 0 1 0 7.8 0a3.9 3.9 0 1 0 -7.8 0ZM413 1104.6a3.9 3.9 0 1 0 7.8 0a3.9 3.9 0 1 0 -7.8 0ZM425.7 1105.1a3.9 3.9 0 1 0 7.8 0a3.9 3.9 0 1 0 -7.8 0ZM438.4 1104.7a3.9 3.9 0 1 0 7.8 0a3.9 3.9 0 1 0 -7.8 0ZM451 1105a3.9 3.9 0 1 0 7.8 0a3.9 3.9 0 1 0 -7.8 0ZM463.7 1104.7a3.9 3.9 0 1 0 7.8 0a3.9 3.9 0 1 0 -7.8 0ZM476.4 1105.2a3.9 3.9 0 1 0 7.8 0a3.9 3.9 0 1 0 -7.8 0ZM489 1105.1a3.9 3.9 0 1 0 7.8 0a3.9 3.9 0 1 0 -7.8 0ZM501.7 1105.1a3.9 3.9 0 1 0 7.8 0a3.9 3.9 0 1 0 -7.8 0ZM514.4 1105.4a3.9 3.9 0 1 0 7.8 0a3.9 3.9 0 1 0 -7.8 0ZM527 1104.8a3.9 3.9 0 1 0 7.8 0a3.9 3.9 0 1 0 -7.8 0ZM539.7 1105a3.9 3.9 0 1 0 7.8 0a3.9 3.9 0 1 0 -7.8 0ZM552.4 1105.1a3.9 3.9 0 1 0 7.8 0a3.9 3.9 0 1 0 -7.8 0ZM565.1 1104.8a3.9 3.9 0 1 0 7.8 0a3.9 3.9 0 1 0 -7.8 0ZM577.7 1105.3a3.9 3.9 0 1 0 7.8 0a3.9 3.9 0 1 0 -7.8 0ZM590.4 1105.2a3.9 3.9 0 1 0 7.8 0a3.9 3.9 0 1 0 -7.8 0ZM603.1 1104.8a3.9 3.9 0 1 0 7.8 0a3.9 3.9 0 1 0 -7.8 0ZM615.7 1104.4a3.9 3.9 0 1 0 7.8 0a3.9 3.9 0 1 0 -7.8 0ZM628.4 1105.2a3.9 3.9 0 1 0 7.8 0a3.9 3.9 0 1 0 -7.8 0Z" fill="#fff" stroke="#3464b4" stroke-width="2.4"/><path d="M176.8 789.2 180 784.3 183.1 779.4 186.3 764 189.5 742 192.7 717 195.8 692.7 199 673.8 202.2 668.3 205.3 677 208.5 699 211.7 739.7 214.8 794.7 218 853.2 221.2 910.4 224.3 960.4 227.5 997.2 230.7 1026.5 233.8 1050 237 1066.9 240.2 1077.2 243.3 1084.7 246.5 1089.3 249.7 1092.4 252.8 1095 256 1097.1 259.2 1098.6 262.3 1099.6 265.5 1100.5 268.7 1101.2 271.8 1101.9 275 1102.4 278.2 1102.8 281.3 1103 284.5 1103.7 287.7 1103.7 290.8 1103 294 1103.5 297.2 1103.8 300.3 1103.3 303.5 1103.9 306.7 1103.8 309.8 1104.2 313 1104.1 316.2 1104.1 319.4 1103.7 322.5 1104.3 325.7 1104.2 328.9 1104.9 332 1104.7 335.2 1104 338.4 1104.3 341.5 1104.4 344.7 1104.1 347.9 1104.4 351 1104.3 354.2 1104.4 357.4 1105 360.5 1104.2 363.7 1103.9 366.9 1104 370 1104.4 373.2 1104.4 376.4 1104.3 391.6 1104 404.2 1104.2 416.9 1104.8 429.6 1104.8 442.2 1104.8 454.9 1105 467.6 1105.1 480.3 1104.9 492.9 1105.4 505.6 1104.8 518.3 1105.1 530.9 1105.4 543.6 1105.1 556.3 1105.3 569 1104.7 581.6 1105.4 594.3 1105.1 607 1105 619.6 1105.4 632.3 1105.4" fill="none" stroke="#4482ac" stroke-width="2.0"/><path d="M173.7 786h6.2v6.2h-6.2ZM176.9 781.2h6.2v6.2h-6.2ZM180 776.3h6.2v6.2h-6.2ZM183.2 760.8h6.2v6.2h-6.2ZM186.4 738.9h6.2v6.2h-6.2ZM189.5 713.9h6.2v6.2h-6.2ZM192.7 689.6h6.2v6.2h-6.2ZM195.9 670.7h6.2v6.2h-6.2ZM199 665.2h6.2v6.2h-6.2ZM202.2 673.9h6.2v6.2h-6.2ZM205.4 695.9h6.2v6.2h-6.2ZM208.5 736.6h6.2v6.2h-6.2ZM211.7 791.6h6.2v6.2h-6.2ZM214.9 850h6.2v6.2h-6.2ZM218 907.3h6.2v6.2h-6.2ZM221.2 957.3h6.2v6.2h-6.2ZM224.4 994.1h6.2v6.2h-6.2ZM227.5 1023.3h6.2v6.2h-6.2ZM230.7 1046.9h6.2v6.2h-6.2ZM233.9 1063.8h6.2v6.2h-6.2ZM237 1074h6.2v6.2h-6.2ZM240.2 1081.6h6.2v6.2h-6.2ZM243.4 1086.2h6.2v6.2h-6.2ZM246.5 1089.3h6.2v6.2h-6.2ZM249.7 1091.9h6.2v6.2h-6.2ZM252.9 1094h6.2v6.2h-6.2ZM256 1095.5h6.2v6.2h-6.2ZM259.2 1096.5h6.2v6.2h-6.2ZM262.4 1097.4h6.2v6.2h-6.2ZM265.6 1098.1h6.2v6.2h-6.2ZM268.7 1098.8h6.2v6.2h-6.2ZM271.9 1099.3h6.2v6.2h-6.2ZM275.1 1099.6h6.2v6.2h-6.2ZM278.2 1099.9h6.2v6.2h-6.2ZM281.4 1100.6h6.2v6.2h-6.2ZM284.6 1100.6h6.2v6.2h-6.2ZM287.7 1099.9h6.2v6.2h-6.2ZM290.9 1100.4h6.2v6.2h-6.2ZM294.1 1100.6h6.2v6.2h-6.2ZM297.2 1100.2h6.2v6.2h-6.2ZM300.4 1100.8h6.2v6.2h-6.2ZM303.6 1100.7h6.2v6.2h-6.2ZM306.7 1101.1h6.2v6.2h-6.2ZM309.9 1100.9h6.2v6.2h-6.2ZM313.1 1100.9h6.2v6.2h-6.2ZM316.2 1100.6h6.2v6.2h-6.2ZM319.4 1101.2h6.2v6.2h-6.2ZM322.6 1101.1h6.2v6.2h-6.2ZM325.7 1101.7h6.2v6.2h-6.2ZM328.9 1101.6h6.2v6.2h-6.2ZM332.1 1100.8h6.2v6.2h-6.2ZM335.2 1101.2h6.2v6.2h-6.2ZM338.4 1101.2h6.2v6.2h-6.2ZM341.6 1100.9h6.2v6.2h-6.2ZM344.7 1101.3h6.2v6.2h-6.2ZM347.9 1101.1h6.2v6.2h-6.2ZM351.1 1101.3h6.2v6.2h-6.2ZM354.2 1101.9h6.2v6.2h-6.2ZM357.4 1101h6.2v6.2h-6.2ZM360.6 1100.8h6.2v6.2h-6.2ZM363.7 1100.9h6.2v6.2h-6.2ZM366.9 1101.3h6.2v6.2h-6.2ZM370.1 1101.2h6.2v6.2h-6.2ZM373.2 1101.2h6.2v6.2h-6.2ZM388.4 1100.9h6.2v6.2h-6.2ZM401.1 1101.1h6.2v6.2h-6.2ZM413.8 1101.7h6.2v6.2h-6.2ZM426.5 1101.6h6.2v6.2h-6.2ZM439.1 1101.7h6.2v6.2h-6.2ZM451.8 1101.9h6.2v6.2h-6.2ZM464.5 1101.9h6.2v6.2h-6.2ZM477.1 1101.8h6.2v6.2h-6.2ZM489.8 1102.3h6.2v6.2h-6.2ZM502.5 1101.7h6.2v6.2h-6.2ZM515.2 1102h6.2v6.2h-6.2ZM527.8 1102.3h6.2v6.2h-6.2ZM540.5 1102h6.2v6.2h-6.2ZM553.2 1102.2h6.2v6.2h-6.2ZM565.8 1101.5h6.2v6.2h-6.2ZM578.5 1102.3h6.2v6.2h-6.2ZM591.2 1101.9h6.2v6.2h-6.2ZM603.8 1101.9h6.2v6.2h-6.2ZM616.5 1102.2h6.2v6.2h-6.2ZM629.2 1102.3h6.2v6.2h-6.2Z" fill="#fff" stroke="#4482ac" stroke-width="2.4"/><path d="M174.9 792.5 178.1 785.4 181.2 778.2 184.4 770.9 187.6 759.4 190.8 742.2 193.9 718.9 197.1 697.5 200.3 677.9 203.4 671.3 206.6 676.7 209.8 695.5 212.9 732.1 216.1 782.3 219.3 837.9 222.4 894.1 225.6 944.7 228.8 982.5 231.9 1013.5 235.1 1039.4 238.3 1060 241.4 1071.4 244.6 1080.4 247.8 1086.2 250.9 1089.5 254.1 1092.3 257.3 1094.9 260.4 1097 263.6 1098.4 266.8 1099.4 269.9 1100.3 273.1 1101.1 276.3 1101.8 279.4 1102.2 282.6 1102.6 285.8 1103 288.9 1103.2 292.1 1102.8 295.3 1103.2 298.4 1103.3 301.6 1104 304.8 1102.9 307.9 1103.1 311.1 1104.1 314.3 1104.3 317.5 1104.1 320.6 1103.8 323.8 1104.2 327 1103.9 330.1 1104.2 333.3 1103.1 336.5 1104.1 339.6 1104.2 342.8 1103.4 346 1104 349.1 1104.1 352.3 1104.2 355.5 1104 358.6 1104.3 361.8 1104.2 365 1104.4 368.1 1104.7 371.3 1104.4 374.5 1104.2 377.6 1103.8 391.6 1104.3 404.2 1104.5 416.9 1104.4 429.6 1104.3 442.2 1105.3 454.9 1104.8 467.6 1105.4 480.3 1105.3 492.9 1105 505.6 1104.8 518.3 1104.8 530.9 1104.8 543.6 1104.4 556.3 1104.7 569 1104.7 581.6 1105 594.3 1104.3 607 1104.5 619.6 1105.1 632.3 1105.1" fill="none" stroke="#56a8a8" stroke-width="3.0"/><path d="M174.9 787.7L179.3 795.1L170.5 795.1ZM178.1 780.7L182.4 788.1L173.7 788.1ZM181.2 773.5L185.6 780.9L176.9 780.9ZM184.4 766.2L188.8 773.6L180 773.6ZM187.6 754.7L192 762.1L183.2 762.1ZM190.8 737.4L195.1 744.9L186.4 744.9ZM193.9 714.2L198.3 721.6L189.6 721.6ZM197.1 692.8L201.5 700.2L192.7 700.2ZM200.3 673.1L204.6 680.5L195.9 680.5ZM203.4 666.6L207.8 674L199.1 674ZM206.6 671.9L211 679.4L202.2 679.4ZM209.8 690.7L214.1 698.1L205.4 698.1ZM212.9 727.3L217.3 734.8L208.6 734.8ZM216.1 777.6L220.5 785L211.7 785ZM219.3 833.1L223.6 840.5L214.9 840.5ZM222.4 889.4L226.8 896.8L218.1 896.8ZM225.6 940L230 947.4L221.2 947.4ZM228.8 977.8L233.1 985.2L224.4 985.2ZM231.9 1008.7L236.3 1016.1L227.6 1016.1ZM235.1 1034.6L239.5 1042.1L230.7 1042.1ZM238.3 1055.3L242.6 1062.7L233.9 1062.7ZM241.4 1066.7L245.8 1074.1L237.1 1074.1ZM244.6 1075.6L249 1083.1L240.2 1083.1ZM247.8 1081.5L252.1 1088.9L243.4 1088.9ZM250.9 1084.7L255.3 1092.1L246.6 1092.1ZM254.1 1087.6L258.5 1095L249.7 1095ZM257.3 1090.2L261.6 1097.6L252.9 1097.6ZM260.4 1092.3L264.8 1099.7L256.1 1099.7ZM263.6 1093.6L268 1101.1L259.2 1101.1ZM266.8 1094.7L271.1 1102.1L262.4 1102.1ZM269.9 1095.6L274.3 1103L265.6 1103ZM273.1 1096.4L277.5 1103.8L268.7 1103.8ZM276.3 1097L280.6 1104.4L271.9 1104.4ZM279.4 1097.5L283.8 1104.9L275.1 1104.9ZM282.6 1097.8L287 1105.2L278.2 1105.2ZM285.8 1098.2L290.1 1105.6L281.4 1105.6ZM288.9 1098.4L293.3 1105.8L284.6 1105.8ZM292.1 1098.1L296.5 1105.5L287.7 1105.5ZM295.3 1098.5L299.6 1105.9L290.9 1105.9ZM298.4 1098.6L302.8 1106L294.1 1106ZM301.6 1099.3L306 1106.7L297.2 1106.7ZM304.8 1098.1L309.1 1105.5L300.4 1105.5ZM307.9 1098.4L312.3 1105.8L303.6 1105.8ZM311.1 1099.3L315.5 1106.7L306.7 1106.7ZM314.3 1099.6L318.7 1107L309.9 1107ZM317.5 1099.4L321.8 1106.8L313.1 1106.8ZM320.6 1099.1L325 1106.5L316.3 1106.5ZM323.8 1099.5L328.2 1106.9L319.4 1106.9ZM327 1099.1L331.3 1106.5L322.6 1106.5ZM330.1 1099.5L334.5 1106.9L325.8 1106.9ZM333.3 1098.4L337.7 1105.8L328.9 1105.8ZM336.5 1099.4L340.8 1106.8L332.1 1106.8ZM339.6 1099.5L344 1106.9L335.3 1106.9ZM342.8 1098.7L347.2 1106.1L338.4 1106.1ZM346 1099.2L350.3 1106.7L341.6 1106.7ZM349.1 1099.4L353.5 1106.8L344.8 1106.8ZM352.3 1099.4L356.7 1106.8L347.9 1106.8ZM355.5 1099.2L359.8 1106.6L351.1 1106.6ZM358.6 1099.6L363 1107L354.3 1107ZM361.8 1099.4L366.2 1106.8L357.4 1106.8ZM365 1099.7L369.3 1107.1L360.6 1107.1ZM368.1 1099.9L372.5 1107.3L363.8 1107.3ZM371.3 1099.6L375.7 1107L366.9 1107ZM374.5 1099.5L378.8 1106.9L370.1 1106.9ZM377.6 1099L382 1106.4L373.3 1106.4ZM391.6 1099.6L395.9 1107L387.2 1107ZM404.2 1099.8L408.6 1107.2L399.9 1107.2ZM416.9 1099.7L421.3 1107.1L412.5 1107.1ZM429.6 1099.6L433.9 1107L425.2 1107ZM442.2 1100.6L446.6 1108L437.9 1108ZM454.9 1100L459.3 1107.4L450.6 1107.4ZM467.6 1100.6L472 1108L463.2 1108ZM480.3 1100.5L484.6 1107.9L475.9 1107.9ZM492.9 1100.2L497.3 1107.6L488.6 1107.6ZM505.6 1100.1L510 1107.5L501.2 1107.5ZM518.3 1100L522.6 1107.4L513.9 1107.4ZM530.9 1100L535.3 1107.4L526.6 1107.4ZM543.6 1099.7L548 1107.1L539.2 1107.1ZM556.3 1100L560.6 1107.4L551.9 1107.4ZM569 1100L573.3 1107.4L564.6 1107.4ZM581.6 1100.2L586 1107.6L577.3 1107.6ZM594.3 1099.5L598.7 1106.9L589.9 1106.9ZM607 1099.7L611.3 1107.1L602.6 1107.1ZM619.6 1100.3L624 1107.7L615.3 1107.7ZM632.3 1100.3L636.7 1107.7L627.9 1107.7Z" fill="#fff" stroke="#56a8a8" stroke-width="2.4"/><path d="M176.2 792 179.3 782.7 182.5 773.2 185.7 763.5 188.9 753 192 740.6 195.2 719.9 198.4 701.5 201.5 681.3 204.7 674.6 207.9 677.3 211 692.1 214.2 725.6 217.4 771.8 220.5 823.6 223.7 878.1 226.9 929.6 230 967.8 233.2 999.9 236.4 1027.9 239.5 1052.3 242.7 1065.3 245.9 1075.7 249 1082.8 252.2 1086.5 255.4 1089.6 258.5 1092.6 261.7 1095.2 264.9 1097.1 268 1098.3 271.2 1099.4 274.4 1100.3 277.5 1101.1 280.7 1101.7 283.9 1101.8 287 1102.8 290.2 1102.9 293.4 1103.2 296.5 1103.2 299.7 1103.1 302.9 1103 306 1103.7 309.2 1103.3 312.4 1104.1 315.6 1103 318.7 1103.9 321.9 1103.9 325.1 1103.7 328.2 1103.8 331.4 1103.9 334.6 1104.4 337.7 1103.6 340.9 1103.7 344.1 1104.1 347.2 1104.3 350.4 1103.9 353.6 1103.6 356.7 1104.6 359.9 1104.4 363.1 1104 366.2 1104.3 369.4 1104.2 372.6 1104.1 375.7 1103.9 378.9 1103.9 391.6 1103.9 404.2 1104 416.9 1104.5 429.6 1105.2 442.2 1104.3 454.9 1104.3 467.6 1104.4 480.3 1104.8 492.9 1104 505.6 1105.2 518.3 1104.4 530.9 1104.5 543.6 1104.4 556.3 1104.2 569 1104.5 581.6 1104.6 594.3 1104.8 607 1104.5 619.6 1104.6 632.3 1104.5" fill="none" stroke="#58a88e" stroke-width="3.0"/><path d="M176.2 796.8L180.5 789.4L171.8 789.4ZM179.3 787.5L183.7 780.1L175 780.1ZM182.5 777.9L186.9 770.5L178.1 770.5ZM185.7 768.2L190.1 760.8L181.3 760.8ZM188.9 757.7L193.2 750.3L184.5 750.3ZM192 745.3L196.4 737.9L187.6 737.9ZM195.2 724.7L199.6 717.3L190.8 717.3ZM198.4 706.3L202.7 698.9L194 698.9ZM201.5 686.1L205.9 678.6L197.2 678.6ZM204.7 679.3L209.1 671.9L200.3 671.9ZM207.9 682L212.2 674.6L203.5 674.6ZM211 696.8L215.4 689.4L206.7 689.4ZM214.2 730.4L218.6 723L209.8 723ZM217.4 776.6L221.7 769.2L213 769.2ZM220.5 828.4L224.9 821L216.2 821ZM223.7 882.8L228.1 875.4L219.3 875.4ZM226.9 934.4L231.2 927L222.5 927ZM230 972.5L234.4 965.1L225.7 965.1ZM233.2 1004.6L237.6 997.2L228.8 997.2ZM236.4 1032.6L240.7 1025.2L232 1025.2ZM239.5 1057L243.9 1049.6L235.2 1049.6ZM242.7 1070L247.1 1062.6L238.3 1062.6ZM245.9 1080.4L250.2 1073L241.5 1073ZM249 1087.6L253.4 1080.2L244.7 1080.2ZM252.2 1091.3L256.6 1083.9L247.8 1083.9ZM255.4 1094.3L259.7 1086.9L251 1086.9ZM258.5 1097.3L262.9 1089.9L254.2 1089.9ZM261.7 1100L266.1 1092.5L257.3 1092.5ZM264.9 1101.8L269.2 1094.4L260.5 1094.4ZM268 1103L272.4 1095.6L263.7 1095.6ZM271.2 1104.1L275.6 1096.7L266.8 1096.7ZM274.4 1105.1L278.7 1097.7L270 1097.7ZM277.5 1105.8L281.9 1098.4L273.2 1098.4ZM280.7 1106.4L285.1 1099L276.3 1099ZM283.9 1106.5L288.2 1099.1L279.5 1099.1ZM287 1107.5L291.4 1100.1L282.7 1100.1ZM290.2 1107.6L294.6 1100.2L285.8 1100.2ZM293.4 1107.9L297.7 1100.5L289 1100.5ZM296.5 1108L300.9 1100.6L292.2 1100.6ZM299.7 1107.9L304.1 1100.4L295.3 1100.4ZM302.9 1107.7L307.2 1100.3L298.5 1100.3ZM306 1108.5L310.4 1101L301.7 1101ZM309.2 1108L313.6 1100.6L304.8 1100.6ZM312.4 1108.8L316.8 1101.4L308 1101.4ZM315.6 1107.8L319.9 1100.4L311.2 1100.4ZM318.7 1108.6L323.1 1101.2L314.3 1101.2ZM321.9 1108.7L326.3 1101.3L317.5 1101.3ZM325.1 1108.4L329.4 1101L320.7 1101ZM328.2 1108.5L332.6 1101.1L323.9 1101.1ZM331.4 1108.6L335.8 1101.2L327 1101.2ZM334.6 1109.2L338.9 1101.7L330.2 1101.7ZM337.7 1108.4L342.1 1100.9L333.4 1100.9ZM340.9 1108.4L345.3 1101L336.5 1101ZM344.1 1108.8L348.4 1101.4L339.7 1101.4ZM347.2 1109.1L351.6 1101.7L342.9 1101.7ZM350.4 1108.6L354.8 1101.2L346 1101.2ZM353.6 1108.4L357.9 1101L349.2 1101ZM356.7 1109.3L361.1 1101.9L352.4 1101.9ZM359.9 1109.1L364.3 1101.7L355.5 1101.7ZM363.1 1108.8L367.4 1101.4L358.7 1101.4ZM366.2 1109.1L370.6 1101.7L361.9 1101.7ZM369.4 1109L373.8 1101.5L365 1101.5ZM372.6 1108.9L376.9 1101.5L368.2 1101.5ZM375.7 1108.6L380.1 1101.2L371.4 1101.2ZM378.9 1108.6L383.3 1101.2L374.5 1101.2ZM391.6 1108.6L395.9 1101.2L387.2 1101.2ZM404.2 1108.7L408.6 1101.3L399.9 1101.3ZM416.9 1109.3L421.3 1101.9L412.5 1101.9ZM429.6 1109.9L433.9 1102.5L425.2 1102.5ZM442.2 1109.1L446.6 1101.7L437.9 1101.7ZM454.9 1109.1L459.3 1101.7L450.6 1101.7ZM467.6 1109.1L472 1101.7L463.2 1101.7ZM480.3 1109.5L484.6 1102.1L475.9 1102.1ZM492.9 1108.7L497.3 1101.3L488.6 1101.3ZM505.6 1109.9L510 1102.5L501.2 1102.5ZM518.3 1109.1L522.6 1101.7L513.9 1101.7ZM530.9 1109.2L535.3 1101.8L526.6 1101.8ZM543.6 1109.1L548 1101.7L539.2 1101.7ZM556.3 1109L560.6 1101.6L551.9 1101.6ZM569 1109.3L573.3 1101.9L564.6 1101.9ZM581.6 1109.3L586 1101.9L577.3 1101.9ZM594.3 1109.6L598.7 1102.1L589.9 1102.1ZM607 1109.2L611.3 1101.8L602.6 1101.8ZM619.6 1109.3L624 1101.9L615.3 1101.9ZM632.3 1109.2L636.7 1101.8L627.9 1101.8Z" fill="#fff" stroke="#58a88e" stroke-width="2.4"/><path d="M174.3 818.9 177.4 806.7 180.6 784.6 183.8 769.2 186.9 753.5 190.1 740.2 193.3 728.1 196.5 711.6 199.6 697.6 202.8 682.4 206 677.1 209.1 679.5 212.3 692.3 215.5 720.8 218.6 760.8 221.8 807.1 225 856.8 228.1 905.1 231.3 943.5 234.5 978.6 237.6 1009.1 240.8 1034.7 244 1050.4 247.1 1063 250.3 1072.8 253.5 1079 256.6 1083.7 259.8 1088.4 263 1091.3 266.1 1094 269.3 1095.8 272.5 1097.5 275.6 1098.6 278.8 1099.6 282 1100.4 285.1 1100.7 288.3 1101.7 291.5 1101.8 294.6 1102.1 297.8 1102.8 301 1102.3 304.1 1102.9 307.3 1102.8 310.5 1103.7 313.6 1103.7 316.8 1103.5 320 1103.2 323.2 1103 326.3 1103.3 329.5 1103.5 332.7 1103.3 335.8 1103.6 339 1103.5 342.2 1103.5 345.3 1103.9 348.5 1103.5 351.7 1104.2 354.8 1104 358 1103.5 361.2 1104 364.3 1103.6 367.5 1103.7 370.7 1103.9 373.8 1103.3 377 1103.7 391.6 1104.1 404.2 1104.2 416.9 1104 429.6 1104.6 442.2 1103.8 454.9 1104.2 467.6 1104.8 480.3 1104.6 492.9 1103.9 505.6 1104.3 518.3 1103.7 530.9 1104.4 543.6 1104.3 556.3 1103.8 569 1103.8 581.6 1104.8 594.3 1104.2 607 1104.8 619.6 1104.6 632.3 1105.1" fill="none" stroke="#5aaa74" stroke-width="2.0"/><path d="M169.5 818.9L176.9 814.6L176.9 823.3ZM172.7 806.7L180.1 802.3L180.1 811.1ZM175.9 784.6L183.3 780.2L183.3 788.9ZM179 769.2L186.4 764.8L186.4 773.6ZM182.2 753.5L189.6 749.1L189.6 757.9ZM185.4 740.2L192.8 735.9L192.8 744.6ZM188.5 728.1L196 723.8L196 732.5ZM191.7 711.6L199.1 707.3L199.1 716ZM194.9 697.6L202.3 693.2L202.3 702ZM198 682.4L205.5 678L205.5 686.8ZM201.2 677.1L208.6 672.7L208.6 681.4ZM204.4 679.5L211.8 675.1L211.8 683.8ZM207.5 692.3L215 687.9L215 696.7ZM210.7 720.8L218.1 716.4L218.1 725.1ZM213.9 760.8L221.3 756.4L221.3 765.2ZM217 807.1L224.5 802.8L224.5 811.5ZM220.2 856.8L227.6 852.5L227.6 861.2ZM223.4 905.1L230.8 900.7L230.8 909.5ZM226.6 943.5L234 939.1L234 947.9ZM229.7 978.6L237.1 974.2L237.1 983ZM232.9 1009.1L240.3 1004.8L240.3 1013.5ZM236.1 1034.7L243.5 1030.4L243.5 1039.1ZM239.2 1050.4L246.6 1046L246.6 1054.8ZM242.4 1063L249.8 1058.7L249.8 1067.4ZM245.6 1072.8L253 1068.5L253 1077.2ZM248.7 1079L256.1 1074.6L256.1 1083.4ZM251.9 1083.7L259.3 1079.3L259.3 1088.1ZM255.1 1088.4L262.5 1084L262.5 1092.8ZM258.2 1091.3L265.6 1086.9L265.6 1095.7ZM261.4 1094L268.8 1089.6L268.8 1098.4ZM264.6 1095.8L272 1091.5L272 1100.2ZM267.7 1097.5L275.1 1093.1L275.1 1101.9ZM270.9 1098.6L278.3 1094.3L278.3 1103ZM274.1 1099.6L281.5 1095.3L281.5 1104ZM277.2 1100.4L284.6 1096.1L284.6 1104.8ZM280.4 1100.7L287.8 1096.3L287.8 1105.1ZM283.6 1101.7L291 1097.3L291 1106.1ZM286.7 1101.8L294.1 1097.4L294.1 1106.1ZM289.9 1102.1L297.3 1097.7L297.3 1106.4ZM293.1 1102.8L300.5 1098.5L300.5 1107.2ZM296.2 1102.3L303.6 1097.9L303.6 1106.7ZM299.4 1102.9L306.8 1098.5L306.8 1107.3ZM302.6 1102.8L310 1098.5L310 1107.2ZM305.7 1103.7L313.1 1099.3L313.1 1108.1ZM308.9 1103.7L316.3 1099.3L316.3 1108ZM312.1 1103.5L319.5 1099.1L319.5 1107.9ZM315.2 1103.2L322.7 1098.9L322.7 1107.6ZM318.4 1103L325.8 1098.7L325.8 1107.4ZM321.6 1103.3L329 1099L329 1107.7ZM324.7 1103.5L332.2 1099.2L332.2 1107.9ZM327.9 1103.3L335.3 1099L335.3 1107.7ZM331.1 1103.6L338.5 1099.3L338.5 1108ZM334.2 1103.5L341.7 1099.2L341.7 1107.9ZM337.4 1103.5L344.8 1099.1L344.8 1107.9ZM340.6 1103.9L348 1099.5L348 1108.2ZM343.7 1103.5L351.2 1099.2L351.2 1107.9ZM346.9 1104.2L354.3 1099.8L354.3 1108.5ZM350.1 1104L357.5 1099.6L357.5 1108.4ZM353.3 1103.5L360.7 1099.2L360.7 1107.9ZM356.4 1104L363.8 1099.6L363.8 1108.3ZM359.6 1103.6L367 1099.3L367 1108ZM362.8 1103.7L370.2 1099.4L370.2 1108.1ZM365.9 1103.9L373.3 1099.5L373.3 1108.3ZM369.1 1103.3L376.5 1099L376.5 1107.7ZM372.3 1103.7L379.7 1099.3L379.7 1108.1ZM386.8 1104.1L394.2 1099.8L394.2 1108.5ZM399.5 1104.2L406.9 1099.8L406.9 1108.5ZM412.2 1104L419.6 1099.6L419.6 1108.4ZM424.8 1104.6L432.2 1100.2L432.2 1109ZM437.5 1103.8L444.9 1099.4L444.9 1108.1ZM450.2 1104.2L457.6 1099.9L457.6 1108.6ZM462.8 1104.8L470.3 1100.4L470.3 1109.2ZM475.5 1104.6L482.9 1100.2L482.9 1109ZM488.2 1103.9L495.6 1099.5L495.6 1108.2ZM500.9 1104.3L508.3 1099.9L508.3 1108.6ZM513.5 1103.7L520.9 1099.3L520.9 1108ZM526.2 1104.4L533.6 1100L533.6 1108.8ZM538.9 1104.3L546.3 1099.9L546.3 1108.6ZM551.5 1103.8L558.9 1099.4L558.9 1108.2ZM564.2 1103.8L571.6 1099.4L571.6 1108.1ZM576.9 1104.8L584.3 1100.4L584.3 1109.1ZM589.5 1104.2L597 1099.8L597 1108.5ZM602.2 1104.8L609.6 1100.4L609.6 1109.2ZM614.9 1104.6L622.3 1100.3L622.3 1109ZM627.6 1105.1L635 1100.7L635 1109.4Z" fill="#fff" stroke="#5aaa74" stroke-width="2.4"/><path d="M175.5 844.7 178.7 820 181.9 785.7 185 764.6 188.2 743.1 191.4 727.4 194.6 715.9 197.7 703.9 200.9 694.1 204.1 683.6 207.2 679.6 210.4 681.5 213.6 692 216.7 715.2 219.9 749.2 223.1 790.1 226.2 835.1 229.4 880.5 232.6 919.5 235.7 957.6 238.9 990.6 242.1 1017.4 245.2 1035.8 248.4 1050.7 251.6 1063.1 254.7 1071.6 257.9 1078.1 261.1 1084.2 264.2 1087.5 267.4 1091 270.6 1093.5 273.7 1095.6 276.9 1097 280.1 1098.2 283.2 1099.2 286.4 1100.2 289.6 1101.2 292.7 1101.6 295.9 1101.7 299.1 1101.5 302.2 1102.6 305.4 1102.9 308.6 1102.5 311.7 1102.6 314.9 1103.1 318.1 1103.2 321.3 1103.2 324.4 1103 327.6 1102.1 330.8 1103.4 333.9 1103.1 337.1 1103.4 340.3 1103.3 343.4 1103.2 346.6 1103.3 349.8 1103.7 352.9 1103.8 356.1 1103.2 359.3 1103.4 362.4 1103.5 365.6 1103.4 368.8 1103.8 371.9 1103.2 375.1 1103.9 378.3 1104 391.6 1104 404.2 1103.8 416.9 1103 429.6 1103.9 442.2 1103.8 454.9 1103.5 467.6 1104.1 480.3 1104.5 492.9 1104.3 505.6 1104.2 518.3 1104.7 530.9 1104.3 543.6 1104.2 556.3 1103.5 569 1104 581.6 1104.2 594.3 1104.4 607 1104.5 619.6 1104.9 632.3 1104.3" fill="none" stroke="#68b068" stroke-width="2.0"/><path d="M180.3 844.7L172.9 840.4L172.9 849.1ZM183.5 820L176 815.6L176 824.4ZM186.6 785.7L179.2 781.3L179.2 790ZM189.8 764.6L182.4 760.2L182.4 768.9ZM193 743.1L185.5 738.7L185.5 747.4ZM196.1 727.4L188.7 723L188.7 731.7ZM199.3 715.9L191.9 711.6L191.9 720.3ZM202.5 703.9L195.1 699.5L195.1 708.2ZM205.6 694.1L198.2 689.7L198.2 698.5ZM208.8 683.6L201.4 679.2L201.4 688ZM212 679.6L204.6 675.2L204.6 684ZM215.1 681.5L207.7 677.1L207.7 685.9ZM218.3 692L210.9 687.7L210.9 696.4ZM221.5 715.2L214.1 710.9L214.1 719.6ZM224.6 749.2L217.2 744.8L217.2 753.6ZM227.8 790.1L220.4 785.7L220.4 794.5ZM231 835.1L223.6 830.7L223.6 839.5ZM234.1 880.5L226.7 876.1L226.7 884.8ZM237.3 919.5L229.9 915.1L229.9 923.9ZM240.5 957.6L233.1 953.3L233.1 962ZM243.6 990.6L236.2 986.2L236.2 994.9ZM246.8 1017.4L239.4 1013L239.4 1021.8ZM250 1035.8L242.6 1031.4L242.6 1040.1ZM253.1 1050.7L245.7 1046.3L245.7 1055ZM256.3 1063.1L248.9 1058.7L248.9 1067.5ZM259.5 1071.6L252.1 1067.2L252.1 1076ZM262.6 1078.1L255.2 1073.7L255.2 1082.4ZM265.8 1084.2L258.4 1079.8L258.4 1088.6ZM269 1087.5L261.6 1083.1L261.6 1091.9ZM272.1 1091L264.7 1086.6L264.7 1095.4ZM275.3 1093.5L267.9 1089.1L267.9 1097.8ZM278.5 1095.6L271.1 1091.3L271.1 1100ZM281.6 1097L274.2 1092.6L274.2 1101.3ZM284.8 1098.2L277.4 1093.8L277.4 1102.6ZM288 1099.2L280.6 1094.9L280.6 1103.6ZM291.2 1100.2L283.7 1095.9L283.7 1104.6ZM294.3 1101.2L286.9 1096.8L286.9 1105.5ZM297.5 1101.6L290.1 1097.3L290.1 1106ZM300.7 1101.7L293.2 1097.3L293.2 1106ZM303.8 1101.5L296.4 1097.1L296.4 1105.9ZM307 1102.6L299.6 1098.2L299.6 1107ZM310.2 1102.9L302.7 1098.5L302.7 1107.3ZM313.3 1102.5L305.9 1098.1L305.9 1106.8ZM316.5 1102.6L309.1 1098.2L309.1 1107ZM319.7 1103.1L312.2 1098.8L312.2 1107.5ZM322.8 1103.2L315.4 1098.8L315.4 1107.5ZM326 1103.2L318.6 1098.9L318.6 1107.6ZM329.2 1103L321.8 1098.6L321.8 1107.3ZM332.3 1102.1L324.9 1097.8L324.9 1106.5ZM335.5 1103.4L328.1 1099.1L328.1 1107.8ZM338.7 1103.1L331.3 1098.8L331.3 1107.5ZM341.8 1103.4L334.4 1099.1L334.4 1107.8ZM345 1103.3L337.6 1098.9L337.6 1107.6ZM348.2 1103.2L340.8 1098.8L340.8 1107.6ZM351.3 1103.3L343.9 1098.9L343.9 1107.7ZM354.5 1103.7L347.1 1099.4L347.1 1108.1ZM357.7 1103.8L350.3 1099.4L350.3 1108.1ZM360.8 1103.2L353.4 1098.8L353.4 1107.5ZM364 1103.4L356.6 1099L356.6 1107.8ZM367.2 1103.5L359.8 1099.1L359.8 1107.8ZM370.3 1103.4L362.9 1099L362.9 1107.7ZM373.5 1103.8L366.1 1099.4L366.1 1108.2ZM376.7 1103.2L369.3 1098.8L369.3 1107.6ZM379.8 1103.9L372.4 1099.5L372.4 1108.2ZM383 1104L375.6 1099.6L375.6 1108.3ZM396.3 1104L388.9 1099.6L388.9 1108.4ZM409 1103.8L401.6 1099.4L401.6 1108.2ZM421.7 1103L414.2 1098.6L414.2 1107.3ZM434.3 1103.9L426.9 1099.5L426.9 1108.2ZM447 1103.8L439.6 1099.5L439.6 1108.2ZM459.7 1103.5L452.3 1099.1L452.3 1107.8ZM472.3 1104.1L464.9 1099.8L464.9 1108.5ZM485 1104.5L477.6 1100.1L477.6 1108.9ZM497.7 1104.3L490.3 1099.9L490.3 1108.7ZM510.3 1104.2L502.9 1099.9L502.9 1108.6ZM523 1104.7L515.6 1100.3L515.6 1109ZM535.7 1104.3L528.3 1099.9L528.3 1108.6ZM548.4 1104.2L540.9 1099.8L540.9 1108.5ZM561 1103.5L553.6 1099.2L553.6 1107.9ZM573.7 1104L566.3 1099.6L566.3 1108.3ZM586.4 1104.2L579 1099.8L579 1108.6ZM599 1104.4L591.6 1100.1L591.6 1108.8ZM611.7 1104.5L604.3 1100.1L604.3 1108.9ZM624.4 1104.9L617 1100.5L617 1109.2ZM637 1104.3L629.6 1100L629.6 1108.7Z" fill="#fff" stroke="#68b068" stroke-width="2.4"/><path d="M176.8 869.6 180 831.8 183.1 786.1 186.3 759.2 189.5 732.2 192.7 714.4 195.8 704 199 696.6 202.2 691.1 205.3 685 208.5 682.2 211.7 683.4 214.8 691.3 218 709 221.2 737 224.3 772.6 227.5 813 230.7 855.7 233.8 895.7 237 937 240.2 972.1 243.3 1000.3 246.5 1021.3 249.7 1038.6 252.8 1053.6 256 1064.4 259.2 1072.7 262.3 1080.1 265.5 1083.8 268.7 1088.1 271.8 1091.2 275 1093.8 278.2 1095.3 281.3 1096.8 284.5 1098.2 287.7 1099.1 290.8 1099.8 294 1100.7 297.2 1101.3 300.3 1101.4 303.5 1102.3 306.7 1102.4 309.8 1101.9 313 1102.4 316.2 1102.6 319.4 1102.8 322.5 1103.1 325.7 1102.7 328.9 1102.8 332 1102.3 335.2 1103.2 338.4 1103 341.5 1103.1 344.7 1103.4 347.9 1102.5 351 1102.7 354.2 1103.1 357.4 1103.7 360.5 1103.1 363.7 1103.1 366.9 1103.5 370 1103.8 373.2 1102.8 376.4 1103.8 391.6 1103.1 404.2 1103.7 416.9 1103.7 429.6 1103.3 442.2 1104 454.9 1103.8 467.6 1103.8 480.3 1103.4 492.9 1103.5 505.6 1103.8 518.3 1104.3 530.9 1103.5 543.6 1104.1 556.3 1103.9 569 1104.6 581.6 1104 594.3 1103.8 607 1104.1 619.6 1103.8 632.3 1103.6" fill="none" stroke="#80b040" stroke-width="3.0"/><path d="M172.9 869.6a3.9 3.9 0 1 0 7.8 0a3.9 3.9 0 1 0 -7.8 0ZM176.1 831.8a3.9 3.9 0 1 0 7.8 0a3.9 3.9 0 1 0 -7.8 0ZM179.2 786.1a3.9 3.9 0 1 0 7.8 0a3.9 3.9 0 1 0 -7.8 0ZM182.4 759.2a3.9 3.9 0 1 0 7.8 0a3.9 3.9 0 1 0 -7.8 0ZM185.6 732.2a3.9 3.9 0 1 0 7.8 0a3.9 3.9 0 1 0 -7.8 0ZM188.8 714.4a3.9 3.9 0 1 0 7.8 0a3.9 3.9 0 1 0 -7.8 0ZM191.9 704a3.9 3.9 0 1 0 7.8 0a3.9 3.9 0 1 0 -7.8 0ZM195.1 696.6a3.9 3.9 0 1 0 7.8 0a3.9 3.9 0 1 0 -7.8 0ZM198.3 691.1a3.9 3.9 0 1 0 7.8 0a3.9 3.9 0 1 0 -7.8 0ZM201.4 685a3.9 3.9 0 1 0 7.8 0a3.9 3.9 0 1 0 -7.8 0ZM204.6 682.2a3.9 3.9 0 1 0 7.8 0a3.9 3.9 0 1 0 -7.8 0ZM207.8 683.4a3.9 3.9 0 1 0 7.8 0a3.9 3.9 0 1 0 -7.8 0ZM210.9 691.3a3.9 3.9 0 1 0 7.8 0a3.9 3.9 0 1 0 -7.8 0ZM214.1 709a3.9 3.9 0 1 0 7.8 0a3.9 3.9 0 1 0 -7.8 0ZM217.3 737a3.9 3.9 0 1 0 7.8 0a3.9 3.9 0 1 0 -7.8 0ZM220.4 772.6a3.9 3.9 0 1 0 7.8 0a3.9 3.9 0 1 0 -7.8 0ZM223.6 813a3.9 3.9 0 1 0 7.8 0a3.9 3.9 0 1 0 -7.8 0ZM226.8 855.7a3.9 3.9 0 1 0 7.8 0a3.9 3.9 0 1 0 -7.8 0ZM229.9 895.7a3.9 3.9 0 1 0 7.8 0a3.9 3.9 0 1 0 -7.8 0ZM233.1 937a3.9 3.9 0 1 0 7.8 0a3.9 3.9 0 1 0 -7.8 0ZM236.3 972.1a3.9 3.9 0 1 0 7.8 0a3.9 3.9 0 1 0 -7.8 0ZM239.4 1000.3a3.9 3.9 0 1 0 7.8 0a3.9 3.9 0 1 0 -7.8 0ZM242.6 1021.3a3.9 3.9 0 1 0 7.8 0a3.9 3.9 0 1 0 -7.8 0ZM245.8 1038.6a3.9 3.9 0 1 0 7.8 0a3.9 3.9 0 1 0 -7.8 0ZM248.9 1053.6a3.9 3.9 0 1 0 7.8 0a3.9 3.9 0 1 0 -7.8 0ZM252.1 1064.4a3.9 3.9 0 1 0 7.8 0a3.9 3.9 0 1 0 -7.8 0ZM255.3 1072.7a3.9 3.9 0 1 0 7.8 0a3.9 3.9 0 1 0 -7.8 0ZM258.4 1080.1a3.9 3.9 0 1 0 7.8 0a3.9 3.9 0 1 0 -7.8 0ZM261.6 1083.8a3.9 3.9 0 1 0 7.8 0a3.9 3.9 0 1 0 -7.8 0ZM264.8 1088.1a3.9 3.9 0 1 0 7.8 0a3.9 3.9 0 1 0 -7.8 0ZM267.9 1091.2a3.9 3.9 0 1 0 7.8 0a3.9 3.9 0 1 0 -7.8 0ZM271.1 1093.8a3.9 3.9 0 1 0 7.8 0a3.9 3.9 0 1 0 -7.8 0ZM274.3 1095.3a3.9 3.9 0 1 0 7.8 0a3.9 3.9 0 1 0 -7.8 0ZM277.4 1096.8a3.9 3.9 0 1 0 7.8 0a3.9 3.9 0 1 0 -7.8 0ZM280.6 1098.2a3.9 3.9 0 1 0 7.8 0a3.9 3.9 0 1 0 -7.8 0ZM283.8 1099.1a3.9 3.9 0 1 0 7.8 0a3.9 3.9 0 1 0 -7.8 0ZM286.9 1099.8a3.9 3.9 0 1 0 7.8 0a3.9 3.9 0 1 0 -7.8 0ZM290.1 1100.7a3.9 3.9 0 1 0 7.8 0a3.9 3.9 0 1 0 -7.8 0ZM293.3 1101.3a3.9 3.9 0 1 0 7.8 0a3.9 3.9 0 1 0 -7.8 0ZM296.4 1101.4a3.9 3.9 0 1 0 7.8 0a3.9 3.9 0 1 0 -7.8 0ZM299.6 1102.3a3.9 3.9 0 1 0 7.8 0a3.9 3.9 0 1 0 -7.8 0ZM302.8 1102.4a3.9 3.9 0 1 0 7.8 0a3.9 3.9 0 1 0 -7.8 0ZM305.9 1101.9a3.9 3.9 0 1 0 7.8 0a3.9 3.9 0 1 0 -7.8 0ZM309.1 1102.4a3.9 3.9 0 1 0 7.8 0a3.9 3.9 0 1 0 -7.8 0ZM312.3 1102.6a3.9 3.9 0 1 0 7.8 0a3.9 3.9 0 1 0 -7.8 0ZM315.5 1102.8a3.9 3.9 0 1 0 7.8 0a3.9 3.9 0 1 0 -7.8 0ZM318.6 1103.1a3.9 3.9 0 1 0 7.8 0a3.9 3.9 0 1 0 -7.8 0ZM321.8 1102.7a3.9 3.9 0 1 0 7.8 0a3.9 3.9 0 1 0 -7.8 0ZM325 1102.8a3.9 3.9 0 1 0 7.8 0a3.9 3.9 0 1 0 -7.8 0ZM328.1 1102.3a3.9 3.9 0 1 0 7.8 0a3.9 3.9 0 1 0 -7.8 0ZM331.3 1103.2a3.9 3.9 0 1 0 7.8 0a3.9 3.9 0 1 0 -7.8 0ZM334.5 1103a3.9 3.9 0 1 0 7.8 0a3.9 3.9 0 1 0 -7.8 0ZM337.6 1103.1a3.9 3.9 0 1 0 7.8 0a3.9 3.9 0 1 0 -7.8 0ZM340.8 1103.4a3.9 3.9 0 1 0 7.8 0a3.9 3.9 0 1 0 -7.8 0ZM344 1102.5a3.9 3.9 0 1 0 7.8 0a3.9 3.9 0 1 0 -7.8 0ZM347.1 1102.7a3.9 3.9 0 1 0 7.8 0a3.9 3.9 0 1 0 -7.8 0ZM350.3 1103.1a3.9 3.9 0 1 0 7.8 0a3.9 3.9 0 1 0 -7.8 0ZM353.5 1103.7a3.9 3.9 0 1 0 7.8 0a3.9 3.9 0 1 0 -7.8 0ZM356.6 1103.1a3.9 3.9 0 1 0 7.8 0a3.9 3.9 0 1 0 -7.8 0ZM359.8 1103.1a3.9 3.9 0 1 0 7.8 0a3.9 3.9 0 1 0 -7.8 0ZM363 1103.5a3.9 3.9 0 1 0 7.8 0a3.9 3.9 0 1 0 -7.8 0ZM366.1 1103.8a3.9 3.9 0 1 0 7.8 0a3.9 3.9 0 1 0 -7.8 0ZM369.3 1102.8a3.9 3.9 0 1 0 7.8 0a3.9 3.9 0 1 0 -7.8 0ZM372.5 1103.8a3.9 3.9 0 1 0 7.8 0a3.9 3.9 0 1 0 -7.8 0ZM387.7 1103.1a3.9 3.9 0 1 0 7.8 0a3.9 3.9 0 1 0 -7.8 0ZM400.3 1103.7a3.9 3.9 0 1 0 7.8 0a3.9 3.9 0 1 0 -7.8 0ZM413 1103.7a3.9 3.9 0 1 0 7.8 0a3.9 3.9 0 1 0 -7.8 0ZM425.7 1103.3a3.9 3.9 0 1 0 7.8 0a3.9 3.9 0 1 0 -7.8 0ZM438.4 1104a3.9 3.9 0 1 0 7.8 0a3.9 3.9 0 1 0 -7.8 0ZM451 1103.8a3.9 3.9 0 1 0 7.8 0a3.9 3.9 0 1 0 -7.8 0ZM463.7 1103.8a3.9 3.9 0 1 0 7.8 0a3.9 3.9 0 1 0 -7.8 0ZM476.4 1103.4a3.9 3.9 0 1 0 7.8 0a3.9 3.9 0 1 0 -7.8 0ZM489 1103.5a3.9 3.9 0 1 0 7.8 0a3.9 3.9 0 1 0 -7.8 0ZM501.7 1103.8a3.9 3.9 0 1 0 7.8 0a3.9 3.9 0 1 0 -7.8 0ZM514.4 1104.3a3.9 3.9 0 1 0 7.8 0a3.9 3.9 0 1 0 -7.8 0ZM527 1103.5a3.9 3.9 0 1 0 7.8 0a3.9 3.9 0 1 0 -7.8 0ZM539.7 1104.1a3.9 3.9 0 1 0 7.8 0a3.9 3.9 0 1 0 -7.8 0ZM552.4 1103.9a3.9 3.9 0 1 0 7.8 0a3.9 3.9 0 1 0 -7.8 0ZM565.1 1104.6a3.9 3.9 0 1 0 7.8 0a3.9 3.9 0 1 0 -7.8 0ZM577.7 1104a3.9 3.9 0 1 0 7.8 0a3.9 3.9 0 1 0 -7.8 0ZM590.4 1103.8a3.9 3.9 0 1 0 7.8 0a3.9 3.9 0 1 0 -7.8 0ZM603.1 1104.1a3.9 3.9 0 1 0 7.8 0a3.9 3.9 0 1 0 -7.8 0ZM615.7 1103.8a3.9 3.9 0 1 0 7.8 0a3.9 3.9 0 1 0 -7.8 0ZM628.4 1103.6a3.9 3.9 0 1 0 7.8 0a3.9 3.9 0 1 0 -7.8 0Z" fill="#fff" stroke="#80b040" stroke-width="2.4"/><path d="M174.9 906 178.1 893.4 181.2 842 184.4 786 187.6 753.2 190.8 720.9 193.9 701.3 197.1 692.3 200.3 689.7 203.4 688.6 206.6 686.5 209.8 684.8 212.9 685.2 216.1 690.1 219.3 702.2 222.4 724.2 225.6 754.5 228.8 790.5 231.9 830.9 235.1 872.3 238.3 916.6 241.4 953.9 244.6 983.5 247.8 1007.1 250.9 1026.8 254.1 1044.5 257.3 1057.3 260.4 1067.6 263.6 1075.9 266.8 1080.2 269.9 1085.2 273.1 1089 276.3 1091.9 279.4 1093.7 282.6 1095.4 285.8 1096.7 288.9 1098.6 292.1 1099.3 295.3 1099.8 298.4 1100.4 301.6 1100.7 304.8 1101.1 307.9 1101.8 311.1 1101.2 314.3 1102 317.5 1102.3 320.6 1101.8 323.8 1102.5 327 1102.1 330.1 1102.7 333.3 1102.2 336.5 1102.2 339.6 1102.8 342.8 1102.5 346 1102.5 349.1 1102.8 352.3 1102.7 355.5 1102.9 358.6 1103.1 361.8 1103.3 365 1102.9 368.1 1102.8 371.3 1102.7 374.5 1102.9 377.6 1102.8 391.6 1103.2 404.2 1102.6 416.9 1103.5 429.6 1103 442.2 1103.4 454.9 1103.5 467.6 1102.8 480.3 1103.3 492.9 1103.9 505.6 1103.4 518.3 1103.7 530.9 1103 543.6 1103.9 556.3 1103.6 569 1103.8 581.6 1103.9 594.3 1103.4 607 1103.3 619.6 1103.3 632.3 1103.7" fill="none" stroke="#92aa1c" stroke-width="3.0"/><path d="M171.8 902.9h6.2v6.2h-6.2ZM175 890.3h6.2v6.2h-6.2ZM178.1 838.9h6.2v6.2h-6.2ZM181.3 782.9h6.2v6.2h-6.2ZM184.5 750.1h6.2v6.2h-6.2ZM187.6 717.8h6.2v6.2h-6.2ZM190.8 698.2h6.2v6.2h-6.2ZM194 689.2h6.2v6.2h-6.2ZM197.1 686.6h6.2v6.2h-6.2ZM200.3 685.5h6.2v6.2h-6.2ZM203.5 683.4h6.2v6.2h-6.2ZM206.6 681.7h6.2v6.2h-6.2ZM209.8 682.1h6.2v6.2h-6.2ZM213 687h6.2v6.2h-6.2ZM216.1 699.1h6.2v6.2h-6.2ZM219.3 721.1h6.2v6.2h-6.2ZM222.5 751.4h6.2v6.2h-6.2ZM225.6 787.4h6.2v6.2h-6.2ZM228.8 827.8h6.2v6.2h-6.2ZM232 869.1h6.2v6.2h-6.2ZM235.1 913.5h6.2v6.2h-6.2ZM238.3 950.7h6.2v6.2h-6.2ZM241.5 980.4h6.2v6.2h-6.2ZM244.6 1004h6.2v6.2h-6.2ZM247.8 1023.6h6.2v6.2h-6.2ZM251 1041.3h6.2v6.2h-6.2ZM254.1 1054.2h6.2v6.2h-6.2ZM257.3 1064.4h6.2v6.2h-6.2ZM260.5 1072.8h6.2v6.2h-6.2ZM263.7 1077.1h6.2v6.2h-6.2ZM266.8 1082.1h6.2v6.2h-6.2ZM270 1085.8h6.2v6.2h-6.2ZM273.2 1088.8h6.2v6.2h-6.2ZM276.3 1090.6h6.2v6.2h-6.2ZM279.5 1092.3h6.2v6.2h-6.2ZM282.7 1093.6h6.2v6.2h-6.2ZM285.8 1095.5h6.2v6.2h-6.2ZM289 1096.1h6.2v6.2h-6.2ZM292.2 1096.7h6.2v6.2h-6.2ZM295.3 1097.3h6.2v6.2h-6.2ZM298.5 1097.6h6.2v6.2h-6.2ZM301.7 1098h6.2v6.2h-6.2ZM304.8 1098.7h6.2v6.2h-6.2ZM308 1098.1h6.2v6.2h-6.2ZM311.2 1098.9h6.2v6.2h-6.2ZM314.3 1099.2h6.2v6.2h-6.2ZM317.5 1098.6h6.2v6.2h-6.2ZM320.7 1099.4h6.2v6.2h-6.2ZM323.8 1099h6.2v6.2h-6.2ZM327 1099.6h6.2v6.2h-6.2ZM330.2 1099h6.2v6.2h-6.2ZM333.3 1099.1h6.2v6.2h-6.2ZM336.5 1099.7h6.2v6.2h-6.2ZM339.7 1099.4h6.2v6.2h-6.2ZM342.8 1099.4h6.2v6.2h-6.2ZM346 1099.7h6.2v6.2h-6.2ZM349.2 1099.6h6.2v6.2h-6.2ZM352.3 1099.8h6.2v6.2h-6.2ZM355.5 1100h6.2v6.2h-6.2ZM358.7 1100.2h6.2v6.2h-6.2ZM361.8 1099.8h6.2v6.2h-6.2ZM365 1099.7h6.2v6.2h-6.2ZM368.2 1099.6h6.2v6.2h-6.2ZM371.3 1099.8h6.2v6.2h-6.2ZM374.5 1099.7h6.2v6.2h-6.2ZM388.4 1100.1h6.2v6.2h-6.2ZM401.1 1099.5h6.2v6.2h-6.2ZM413.8 1100.4h6.2v6.2h-6.2ZM426.5 1099.9h6.2v6.2h-6.2ZM439.1 1100.3h6.2v6.2h-6.2ZM451.8 1100.4h6.2v6.2h-6.2ZM464.5 1099.6h6.2v6.2h-6.2ZM477.1 1100.2h6.2v6.2h-6.2ZM489.8 1100.7h6.2v6.2h-6.2ZM502.5 1100.3h6.2v6.2h-6.2ZM515.2 1100.6h6.2v6.2h-6.2ZM527.8 1099.9h6.2v6.2h-6.2ZM540.5 1100.8h6.2v6.2h-6.2ZM553.2 1100.5h6.2v6.2h-6.2ZM565.8 1100.7h6.2v6.2h-6.2ZM578.5 1100.7h6.2v6.2h-6.2ZM591.2 1100.3h6.2v6.2h-6.2ZM603.8 1100.2h6.2v6.2h-6.2ZM616.5 1100.2h6.2v6.2h-6.2ZM629.2 1100.6h6.2v6.2h-6.2Z" fill="#fff" stroke="#92aa1c" stroke-width="2.4"/><path d="M176.2 926.2 179.3 904.5 182.5 852.6 185.7 813.8 188.9 780.1 192 746.9 195.2 719.3 198.4 700.4 201.5 686.6 204.7 675.9 207.9 671.2 211 666.9 214.2 671.2 217.4 679.2 220.5 693.8 223.7 716.3 226.9 743.7 230 776.2 233.2 809.4 236.4 845.3 239.5 884.3 242.7 918.9 245.9 947.2 249 970.1 252.2 993.1 255.4 1012.4 258.5 1027.2 261.7 1043.1 264.9 1052.5 268 1061 271.2 1067.8 274.4 1074.2 277.5 1079.2 280.7 1083.6 283.9 1086.6 287 1089.6 290.2 1090.5 293.4 1092.9 296.5 1094.2 299.7 1094.8 302.9 1096.5 306 1097.1 309.2 1097.7 312.4 1098.1 315.6 1097.8 318.7 1099 321.9 1098.2 325.1 1099 328.2 1099.1 331.4 1099.7 334.6 1100.5 337.7 1100.6 340.9 1100 344.1 1100.7 347.2 1100.6 350.4 1100.7 353.6 1100.5 356.7 1100.7 359.9 1101.1 363.1 1101.3 366.2 1101.1 369.4 1101.8 372.6 1101.8 375.7 1102 378.9 1101.9 391.6 1102.2 404.2 1101.6 416.9 1102 429.6 1101.5 442.2 1102.2 454.9 1102.1 467.6 1102.5 480.3 1102.1 492.9 1102.2 505.6 1102.6 518.3 1102.4 530.9 1102.8 543.6 1102.8 556.3 1103 569 1102.4 581.6 1103 594.3 1103.1 607 1102.5 619.6 1102.8 632.3 1103.2" fill="none" stroke="#a88e10" stroke-width="2.0"/><path d="M176.2 921.4L180.5 928.8L171.8 928.8ZM179.3 899.8L183.7 907.2L175 907.2ZM182.5 847.8L186.9 855.3L178.1 855.3ZM185.7 809.1L190.1 816.5L181.3 816.5ZM188.9 775.3L193.2 782.7L184.5 782.7ZM192 742.1L196.4 749.5L187.6 749.5ZM195.2 714.6L199.6 722L190.8 722ZM198.4 695.6L202.7 703.1L194 703.1ZM201.5 681.9L205.9 689.3L197.2 689.3ZM204.7 671.2L209.1 678.6L200.3 678.6ZM207.9 666.4L212.2 673.8L203.5 673.8ZM211 662.2L215.4 669.6L206.7 669.6ZM214.2 666.5L218.6 673.9L209.8 673.9ZM217.4 674.4L221.7 681.8L213 681.8ZM220.5 689.1L224.9 696.5L216.2 696.5ZM223.7 711.6L228.1 719L219.3 719ZM226.9 739L231.2 746.4L222.5 746.4ZM230 771.4L234.4 778.8L225.7 778.8ZM233.2 804.7L237.6 812.1L228.8 812.1ZM236.4 840.5L240.7 847.9L232 847.9ZM239.5 879.5L243.9 886.9L235.2 886.9ZM242.7 914.2L247.1 921.6L238.3 921.6ZM245.9 942.4L250.2 949.8L241.5 949.8ZM249 965.4L253.4 972.8L244.7 972.8ZM252.2 988.4L256.6 995.8L247.8 995.8ZM255.4 1007.6L259.7 1015L251 1015ZM258.5 1022.5L262.9 1029.9L254.2 1029.9ZM261.7 1038.4L266.1 1045.8L257.3 1045.8ZM264.9 1047.8L269.2 1055.2L260.5 1055.2ZM268 1056.3L272.4 1063.7L263.7 1063.7ZM271.2 1063.1L275.6 1070.5L266.8 1070.5ZM274.4 1069.4L278.7 1076.8L270 1076.8ZM277.5 1074.5L281.9 1081.9L273.2 1081.9ZM280.7 1078.8L285.1 1086.3L276.3 1086.3ZM283.9 1081.9L288.2 1089.3L279.5 1089.3ZM287 1084.8L291.4 1092.2L282.7 1092.2ZM290.2 1085.7L294.6 1093.1L285.8 1093.1ZM293.4 1088.2L297.7 1095.6L289 1095.6ZM296.5 1089.5L300.9 1096.9L292.2 1096.9ZM299.7 1090.1L304.1 1097.5L295.3 1097.5ZM302.9 1091.7L307.2 1099.1L298.5 1099.1ZM306 1092.3L310.4 1099.7L301.7 1099.7ZM309.2 1093L313.6 1100.4L304.8 1100.4ZM312.4 1093.3L316.8 1100.7L308 1100.7ZM315.6 1093.1L319.9 1100.5L311.2 1100.5ZM318.7 1094.3L323.1 1101.7L314.3 1101.7ZM321.9 1093.5L326.3 1100.9L317.5 1100.9ZM325.1 1094.3L329.4 1101.7L320.7 1101.7ZM328.2 1094.3L332.6 1101.7L323.9 1101.7ZM331.4 1095L335.8 1102.4L327 1102.4ZM334.6 1095.8L338.9 1103.2L330.2 1103.2ZM337.7 1095.9L342.1 1103.3L333.4 1103.3ZM340.9 1095.2L345.3 1102.6L336.5 1102.6ZM344.1 1095.9L348.4 1103.3L339.7 1103.3ZM347.2 1095.8L351.6 1103.2L342.9 1103.2ZM350.4 1096L354.8 1103.4L346 1103.4ZM353.6 1095.7L357.9 1103.1L349.2 1103.1ZM356.7 1095.9L361.1 1103.3L352.4 1103.3ZM359.9 1096.3L364.3 1103.8L355.5 1103.8ZM363.1 1096.5L367.4 1103.9L358.7 1103.9ZM366.2 1096.3L370.6 1103.7L361.9 1103.7ZM369.4 1097.1L373.8 1104.5L365 1104.5ZM372.6 1097L376.9 1104.4L368.2 1104.4ZM375.7 1097.3L380.1 1104.7L371.4 1104.7ZM378.9 1097.2L383.3 1104.6L374.5 1104.6ZM391.6 1097.5L395.9 1104.9L387.2 1104.9ZM404.2 1096.8L408.6 1104.2L399.9 1104.2ZM416.9 1097.3L421.3 1104.7L412.5 1104.7ZM429.6 1096.7L433.9 1104.1L425.2 1104.1ZM442.2 1097.5L446.6 1104.9L437.9 1104.9ZM454.9 1097.4L459.3 1104.8L450.6 1104.8ZM467.6 1097.7L472 1105.1L463.2 1105.1ZM480.3 1097.4L484.6 1104.8L475.9 1104.8ZM492.9 1097.5L497.3 1104.9L488.6 1104.9ZM505.6 1097.9L510 1105.3L501.2 1105.3ZM518.3 1097.7L522.6 1105.1L513.9 1105.1ZM530.9 1098.1L535.3 1105.5L526.6 1105.5ZM543.6 1098.1L548 1105.5L539.2 1105.5ZM556.3 1098.3L560.6 1105.7L551.9 1105.7ZM569 1097.7L573.3 1105.1L564.6 1105.1ZM581.6 1098.3L586 1105.7L577.3 1105.7ZM594.3 1098.4L598.7 1105.8L589.9 1105.8ZM607 1097.7L611.3 1105.1L602.6 1105.1ZM619.6 1098.1L624 1105.5L615.3 1105.5ZM632.3 1098.5L636.7 1105.9L627.9 1105.9Z" fill="#fff" stroke="#a88e10" stroke-width="2.4"/><path d="M174.3 946.7 177.4 945.1 180.6 916.3 183.8 871.1 186.9 842.3 190.1 806.8 193.3 768.8 196.5 731.8 199.6 702.5 202.8 676.6 206 661.8 209.1 653.9 212.3 650 215.5 658.7 218.6 668.9 221.8 685.6 225 706.6 228.1 731 231.3 758.3 234.5 784.3 237.6 815.2 240.8 850.7 244 883.6 247.1 910.2 250.3 935.1 253.5 960.6 256.6 981.1 259.8 1000.6 263 1019.3 266.1 1031.5 269.3 1042.9 272.5 1051.8 275.6 1060.6 278.8 1067.9 282 1074.8 285.1 1079.1 288.3 1083.1 291.5 1085.3 294.6 1087 297.8 1088.1 301 1089.9 304.1 1091.6 307.3 1092.1 310.5 1093.5 313.6 1094.5 316.8 1095 320 1095 323.2 1095.7 326.3 1096.7 329.5 1097.2 332.7 1097.1 335.8 1098 339 1098.1 342.2 1098 345.3 1098.8 348.5 1099 351.7 1098.9 354.8 1099.3 358 1099 361.2 1099.6 364.3 1099.6 367.5 1099.7 370.7 1100.2 373.8 1099.9 377 1099.8 391.6 1100.5 404.2 1100.8 416.9 1100.8 429.6 1100.4 442.2 1101 454.9 1101.3 467.6 1101.6 480.3 1101.3 492.9 1101.9 505.6 1101.2 518.3 1101.8 530.9 1102.1 543.6 1101.4 556.3 1101.6 569 1101.6 581.6 1102.1 594.3 1101.6 607 1101.8 619.6 1101.8 632.3 1101.6" fill="none" stroke="#ae6a12" stroke-width="2.0"/><path d="M174.3 951.5L178.6 944.1L169.9 944.1ZM177.4 949.8L181.8 942.4L173.1 942.4ZM180.6 921.1L185 913.7L176.2 913.7ZM183.8 875.8L188.2 868.4L179.4 868.4ZM186.9 847.1L191.3 839.6L182.6 839.6ZM190.1 811.6L194.5 804.2L185.7 804.2ZM193.3 773.5L197.7 766.1L188.9 766.1ZM196.5 736.5L200.8 729.1L192.1 729.1ZM199.6 707.2L204 699.8L195.3 699.8ZM202.8 681.4L207.2 674L198.4 674ZM206 666.5L210.3 659.1L201.6 659.1ZM209.1 658.6L213.5 651.2L204.8 651.2ZM212.3 654.7L216.7 647.3L207.9 647.3ZM215.5 663.5L219.8 656.1L211.1 656.1ZM218.6 673.6L223 666.2L214.3 666.2ZM221.8 690.3L226.2 682.9L217.4 682.9ZM225 711.3L229.3 703.9L220.6 703.9ZM228.1 735.7L232.5 728.3L223.8 728.3ZM231.3 763L235.7 755.6L226.9 755.6ZM234.5 789.1L238.8 781.7L230.1 781.7ZM237.6 819.9L242 812.5L233.3 812.5ZM240.8 855.5L245.2 848.1L236.4 848.1ZM244 888.4L248.3 881L239.6 881ZM247.1 914.9L251.5 907.5L242.8 907.5ZM250.3 939.9L254.7 932.4L245.9 932.4ZM253.5 965.3L257.8 957.9L249.1 957.9ZM256.6 985.8L261 978.4L252.3 978.4ZM259.8 1005.4L264.2 998L255.4 998ZM263 1024L267.3 1016.6L258.6 1016.6ZM266.1 1036.2L270.5 1028.8L261.8 1028.8ZM269.3 1047.7L273.7 1040.3L264.9 1040.3ZM272.5 1056.5L276.8 1049.1L268.1 1049.1ZM275.6 1065.3L280 1057.9L271.3 1057.9ZM278.8 1072.6L283.2 1065.2L274.4 1065.2ZM282 1079.6L286.3 1072.2L277.6 1072.2ZM285.1 1083.9L289.5 1076.4L280.8 1076.4ZM288.3 1087.8L292.7 1080.4L283.9 1080.4ZM291.5 1090.1L295.8 1082.7L287.1 1082.7ZM294.6 1091.7L299 1084.3L290.3 1084.3ZM297.8 1092.9L302.2 1085.5L293.4 1085.5ZM301 1094.6L305.3 1087.2L296.6 1087.2ZM304.1 1096.4L308.5 1089L299.8 1089ZM307.3 1096.8L311.7 1089.4L302.9 1089.4ZM310.5 1098.2L314.9 1090.8L306.1 1090.8ZM313.6 1099.3L318 1091.9L309.3 1091.9ZM316.8 1099.7L321.2 1092.3L312.4 1092.3ZM320 1099.7L324.4 1092.3L315.6 1092.3ZM323.2 1100.5L327.5 1093.1L318.8 1093.1ZM326.3 1101.4L330.7 1094L322 1094ZM329.5 1102L333.9 1094.6L325.1 1094.6ZM332.7 1101.8L337 1094.4L328.3 1094.4ZM335.8 1102.7L340.2 1095.3L331.5 1095.3ZM339 1102.8L343.4 1095.4L334.6 1095.4ZM342.2 1102.7L346.5 1095.3L337.8 1095.3ZM345.3 1103.6L349.7 1096.2L341 1096.2ZM348.5 1103.7L352.9 1096.3L344.1 1096.3ZM351.7 1103.6L356 1096.2L347.3 1096.2ZM354.8 1104L359.2 1096.6L350.5 1096.6ZM358 1103.7L362.4 1096.3L353.6 1096.3ZM361.2 1104.3L365.5 1096.9L356.8 1096.9ZM364.3 1104.3L368.7 1096.9L360 1096.9ZM367.5 1104.4L371.9 1097L363.1 1097ZM370.7 1105L375 1097.6L366.3 1097.6ZM373.8 1104.6L378.2 1097.2L369.5 1097.2ZM377 1104.5L381.4 1097.1L372.6 1097.1ZM391.6 1105.2L395.9 1097.8L387.2 1097.8ZM404.2 1105.5L408.6 1098.1L399.9 1098.1ZM416.9 1105.5L421.3 1098.1L412.5 1098.1ZM429.6 1105.1L433.9 1097.7L425.2 1097.7ZM442.2 1105.7L446.6 1098.3L437.9 1098.3ZM454.9 1106L459.3 1098.6L450.6 1098.6ZM467.6 1106.4L472 1099L463.2 1099ZM480.3 1106.1L484.6 1098.7L475.9 1098.7ZM492.9 1106.6L497.3 1099.2L488.6 1099.2ZM505.6 1105.9L510 1098.5L501.2 1098.5ZM518.3 1106.6L522.6 1099.2L513.9 1099.2ZM530.9 1106.8L535.3 1099.4L526.6 1099.4ZM543.6 1106.1L548 1098.7L539.2 1098.7ZM556.3 1106.4L560.6 1099L551.9 1099ZM569 1106.4L573.3 1099L564.6 1099ZM581.6 1106.9L586 1099.5L577.3 1099.5ZM594.3 1106.4L598.7 1098.9L589.9 1098.9ZM607 1106.5L611.3 1099.1L602.6 1099.1ZM619.6 1106.6L624 1099.2L615.3 1099.2ZM632.3 1106.4L636.7 1098.9L627.9 1098.9Z" fill="#fff" stroke="#ae6a12" stroke-width="2.4"/><path d="M175.5 967.1 178.7 960.7 181.9 928.7 185 897.3 188.2 870.2 191.4 832.4 194.6 785.1 197.7 738.4 200.9 698.6 204.1 660.8 207.2 646.6 210.4 634.3 213.6 635.4 216.7 647.2 219.9 659.2 223.1 676.9 226.2 694.8 229.4 716 232.6 736.5 235.7 755.7 238.9 782.6 242.1 816.8 245.2 848.1 248.4 872.9 251.6 902.3 254.7 929.1 257.9 951 261.1 977.2 264.2 996.3 267.4 1012.6 270.6 1025.9 273.7 1037 276.9 1048.3 280.1 1057.8 283.2 1066.9 286.4 1072.2 289.6 1076 292.7 1079.3 295.9 1081.9 299.1 1083 302.2 1085.4 305.4 1086.9 308.6 1088.1 311.7 1089.9 314.9 1090.7 318.1 1091.3 321.3 1092.2 324.4 1093 327.6 1094 330.8 1094.6 333.9 1094.6 337.1 1095.4 340.3 1095.4 343.4 1095.9 346.6 1096.3 349.8 1096.6 352.9 1097 356.1 1097 359.3 1098.4 362.4 1098.2 365.6 1098.1 368.8 1097.9 371.9 1099.1 375.1 1098.9 378.3 1098.7 391.6 1098.6 404.2 1099.4 416.9 1100.1 429.6 1099.5 442.2 1099.6 454.9 1099.8 467.6 1100 480.3 1100.1 492.9 1100.6 505.6 1100.3 518.3 1100.3 530.9 1100.7 543.6 1101 556.3 1101 569 1100.6 581.6 1101.1 594.3 1100.5 607 1100.9 619.6 1101.1 632.3 1100.7" fill="none" stroke="#a84a12" stroke-width="2.0"/><path d="M170.8 967.1L178.2 962.7L178.2 971.5ZM174 960.7L181.4 956.3L181.4 965.1ZM177.1 928.7L184.5 924.3L184.5 933ZM180.3 897.3L187.7 892.9L187.7 901.7ZM183.5 870.2L190.9 865.8L190.9 874.5ZM186.6 832.4L194.1 828L194.1 836.8ZM189.8 785.1L197.2 780.7L197.2 789.4ZM193 738.4L200.4 734L200.4 742.7ZM196.1 698.6L203.6 694.3L203.6 703ZM199.3 660.8L206.7 656.4L206.7 665.1ZM202.5 646.6L209.9 642.3L209.9 651ZM205.6 634.3L213.1 629.9L213.1 638.6ZM208.8 635.4L216.2 631L216.2 639.7ZM212 647.2L219.4 642.8L219.4 651.6ZM215.1 659.2L222.6 654.8L222.6 663.5ZM218.3 676.9L225.7 672.5L225.7 681.3ZM221.5 694.8L228.9 690.4L228.9 699.1ZM224.7 716L232.1 711.6L232.1 720.3ZM227.8 736.5L235.2 732.1L235.2 740.9ZM231 755.7L238.4 751.3L238.4 760.1ZM234.2 782.6L241.6 778.2L241.6 787ZM237.3 816.8L244.7 812.4L244.7 821.1ZM240.5 848.1L247.9 843.8L247.9 852.5ZM243.7 872.9L251.1 868.5L251.1 877.3ZM246.8 902.3L254.2 898L254.2 906.7ZM250 929.1L257.4 924.8L257.4 933.5ZM253.2 951L260.6 946.6L260.6 955.3ZM256.3 977.2L263.7 972.9L263.7 981.6ZM259.5 996.3L266.9 992L266.9 1000.7ZM262.7 1012.6L270.1 1008.2L270.1 1017ZM265.8 1025.9L273.2 1021.6L273.2 1030.3ZM269 1037L276.4 1032.7L276.4 1041.4ZM272.2 1048.3L279.6 1043.9L279.6 1052.6ZM275.3 1057.8L282.7 1053.4L282.7 1062.2ZM278.5 1066.9L285.9 1062.5L285.9 1071.2ZM281.7 1072.2L289.1 1067.8L289.1 1076.5ZM284.8 1076L292.2 1071.7L292.2 1080.4ZM288 1079.3L295.4 1074.9L295.4 1083.6ZM291.2 1081.9L298.6 1077.6L298.6 1086.3ZM294.3 1083L301.7 1078.7L301.7 1087.4ZM297.5 1085.4L304.9 1081.1L304.9 1089.8ZM300.7 1086.9L308.1 1082.5L308.1 1091.3ZM303.8 1088.1L311.2 1083.7L311.2 1092.4ZM307 1089.9L314.4 1085.5L314.4 1094.3ZM310.2 1090.7L317.6 1086.4L317.6 1095.1ZM313.3 1091.3L320.8 1086.9L320.8 1095.6ZM316.5 1092.2L323.9 1087.9L323.9 1096.6ZM319.7 1093L327.1 1088.6L327.1 1097.4ZM322.8 1094L330.3 1089.6L330.3 1098.4ZM326 1094.6L333.4 1090.2L333.4 1099ZM329.2 1094.6L336.6 1090.2L336.6 1098.9ZM332.3 1095.4L339.8 1091L339.8 1099.7ZM335.5 1095.4L342.9 1091.1L342.9 1099.8ZM338.7 1095.9L346.1 1091.5L346.1 1100.3ZM341.8 1096.3L349.3 1092L349.3 1100.7ZM345 1096.6L352.4 1092.2L352.4 1100.9ZM348.2 1097L355.6 1092.7L355.6 1101.4ZM351.4 1097L358.8 1092.7L358.8 1101.4ZM354.5 1098.4L361.9 1094L361.9 1102.8ZM357.7 1098.2L365.1 1093.8L365.1 1102.6ZM360.9 1098.1L368.3 1093.7L368.3 1102.5ZM364 1097.9L371.4 1093.5L371.4 1102.3ZM367.2 1099.1L374.6 1094.8L374.6 1103.5ZM370.4 1098.9L377.8 1094.5L377.8 1103.3ZM373.5 1098.7L380.9 1094.3L380.9 1103ZM386.8 1098.6L394.2 1094.3L394.2 1103ZM399.5 1099.4L406.9 1095L406.9 1103.8ZM412.2 1100.1L419.6 1095.8L419.6 1104.5ZM424.8 1099.5L432.2 1095.2L432.2 1103.9ZM437.5 1099.6L444.9 1095.2L444.9 1103.9ZM450.2 1099.8L457.6 1095.5L457.6 1104.2ZM462.8 1100L470.3 1095.6L470.3 1104.3ZM475.5 1100.1L482.9 1095.7L482.9 1104.4ZM488.2 1100.6L495.6 1096.2L495.6 1105ZM500.9 1100.3L508.3 1095.9L508.3 1104.7ZM513.5 1100.3L520.9 1095.9L520.9 1104.7ZM526.2 1100.7L533.6 1096.3L533.6 1105ZM538.9 1101L546.3 1096.6L546.3 1105.4ZM551.5 1101L558.9 1096.6L558.9 1105.4ZM564.2 1100.6L571.6 1096.3L571.6 1105ZM576.9 1101.1L584.3 1096.7L584.3 1105.5ZM589.5 1100.5L597 1096.1L597 1104.9ZM602.2 1100.9L609.6 1096.5L609.6 1105.3ZM614.9 1101.1L622.3 1096.7L622.3 1105.4ZM627.6 1100.7L635 1096.3L635 1105.1Z" fill="#fff" stroke="#a84a12" stroke-width="2.4"/><path d="M176.8 987.4 180 976.2 183.1 944.9 186.3 927.1 189.5 897.5 192.7 855.1 195.8 795.9 199 738.9 202.2 688.8 205.3 642.7 208.5 630.4 211.7 613.8 214.8 623.2 218 636.5 221.2 650 224.3 667 227.5 681 230.7 698.1 233.8 711 237 723.8 240.2 748.3 243.3 782.3 246.5 812.2 249.7 836.6 252.8 870.9 256 898.8 259.2 923.3 262.3 955.2 265.5 975.4 268.7 995.2 271.8 1010.2 275 1023.6 278.2 1037.3 281.3 1049 284.5 1059.6 287.7 1064.6 290.8 1070 294 1072.8 297.2 1075.3 300.3 1078.1 303.5 1080.7 306.7 1082.5 309.8 1084.7 313 1086.3 316.2 1087.2 319.4 1088.4 322.5 1089.1 325.7 1089.8 328.9 1090.6 332 1092.5 335.2 1092.3 338.4 1092.8 341.5 1093.3 344.7 1094.2 347.9 1094.6 351 1094.8 354.2 1095.6 357.4 1096.3 360.5 1095.8 363.7 1096.2 366.9 1097.1 370 1096.6 373.2 1097.5 376.4 1097.2 391.6 1098.1 404.2 1098 416.9 1098.4 429.6 1098.6 442.2 1098.5 454.9 1098.6 467.6 1099.3 480.3 1098.7 492.9 1099.6 505.6 1100 518.3 1099.7 530.9 1099.1 543.6 1099.9 556.3 1100.3 569 1100.1 581.6 1099.9 594.3 1099.8 607 1099.9 619.6 1099.7 632.3 1099.4" fill="none" stroke="#a02a10" stroke-width="2.0"/><path d="M181.6 987.4L174.1 983.1L174.1 991.8ZM184.7 976.2L177.3 971.8L177.3 980.6ZM187.9 944.9L180.5 940.5L180.5 949.3ZM191.1 927.1L183.6 922.7L183.6 931.4ZM194.2 897.5L186.8 893.2L186.8 901.9ZM197.4 855.1L190 850.7L190 859.5ZM200.6 795.9L193.2 791.5L193.2 800.3ZM203.7 738.9L196.3 734.5L196.3 743.3ZM206.9 688.8L199.5 684.4L199.5 693.1ZM210.1 642.7L202.7 638.3L202.7 647.1ZM213.2 630.4L205.8 626L205.8 634.8ZM216.4 613.8L209 609.4L209 618.2ZM219.6 623.2L212.2 618.9L212.2 627.6ZM222.7 636.5L215.3 632.2L215.3 640.9ZM225.9 650L218.5 645.7L218.5 654.4ZM229.1 667L221.7 662.6L221.7 671.4ZM232.2 681L224.8 676.6L224.8 685.4ZM235.4 698.1L228 693.7L228 702.4ZM238.6 711L231.2 706.6L231.2 715.3ZM241.7 723.8L234.3 719.5L234.3 728.2ZM244.9 748.3L237.5 743.9L237.5 752.6ZM248.1 782.3L240.7 777.9L240.7 786.7ZM251.2 812.2L243.8 807.9L243.8 816.6ZM254.4 836.6L247 832.3L247 841ZM257.6 870.9L250.2 866.5L250.2 875.2ZM260.7 898.8L253.3 894.4L253.3 903.1ZM263.9 923.3L256.5 918.9L256.5 927.7ZM267.1 955.2L259.7 950.8L259.7 959.5ZM270.2 975.4L262.8 971L262.8 979.7ZM273.4 995.2L266 990.8L266 999.6ZM276.6 1010.2L269.2 1005.8L269.2 1014.6ZM279.7 1023.6L272.3 1019.2L272.3 1028ZM282.9 1037.3L275.5 1032.9L275.5 1041.7ZM286.1 1049L278.7 1044.7L278.7 1053.4ZM289.3 1059.6L281.8 1055.2L281.8 1063.9ZM292.4 1064.6L285 1060.3L285 1069ZM295.6 1070L288.2 1065.6L288.2 1074.4ZM298.8 1072.8L291.3 1068.4L291.3 1077.1ZM301.9 1075.3L294.5 1070.9L294.5 1079.7ZM305.1 1078.1L297.7 1073.8L297.7 1082.5ZM308.3 1080.7L300.8 1076.4L300.8 1085.1ZM311.4 1082.5L304 1078.1L304 1086.9ZM314.6 1084.7L307.2 1080.4L307.2 1089.1ZM317.8 1086.3L310.3 1082L310.3 1090.7ZM320.9 1087.2L313.5 1082.8L313.5 1091.6ZM324.1 1088.4L316.7 1084L316.7 1092.8ZM327.3 1089.1L319.9 1084.8L319.9 1093.5ZM330.4 1089.8L323 1085.5L323 1094.2ZM333.6 1090.6L326.2 1086.2L326.2 1094.9ZM336.8 1092.5L329.4 1088.2L329.4 1096.9ZM339.9 1092.3L332.5 1087.9L332.5 1096.7ZM343.1 1092.8L335.7 1088.5L335.7 1097.2ZM346.3 1093.3L338.9 1088.9L338.9 1097.7ZM349.4 1094.2L342 1089.8L342 1098.5ZM352.6 1094.6L345.2 1090.2L345.2 1099ZM355.8 1094.8L348.4 1090.4L348.4 1099.2ZM358.9 1095.6L351.5 1091.2L351.5 1099.9ZM362.1 1096.3L354.7 1091.9L354.7 1100.6ZM365.3 1095.8L357.9 1091.5L357.9 1100.2ZM368.4 1096.2L361 1091.8L361 1100.6ZM371.6 1097.1L364.2 1092.7L364.2 1101.5ZM374.8 1096.6L367.4 1092.3L367.4 1101ZM377.9 1097.5L370.5 1093.1L370.5 1101.8ZM381.1 1097.2L373.7 1092.8L373.7 1101.6ZM396.3 1098.1L388.9 1093.7L388.9 1102.5ZM409 1098L401.6 1093.6L401.6 1102.3ZM421.7 1098.4L414.2 1094.1L414.2 1102.8ZM434.3 1098.6L426.9 1094.2L426.9 1103ZM447 1098.5L439.6 1094.2L439.6 1102.9ZM459.7 1098.6L452.3 1094.3L452.3 1103ZM472.3 1099.3L464.9 1095L464.9 1103.7ZM485 1098.7L477.6 1094.3L477.6 1103.1ZM497.7 1099.6L490.3 1095.2L490.3 1104ZM510.3 1100L502.9 1095.6L502.9 1104.3ZM523 1099.7L515.6 1095.3L515.6 1104ZM535.7 1099.1L528.3 1094.7L528.3 1103.4ZM548.4 1099.9L540.9 1095.6L540.9 1104.3ZM561 1100.3L553.6 1095.9L553.6 1104.7ZM573.7 1100.1L566.3 1095.8L566.3 1104.5ZM586.4 1099.9L579 1095.5L579 1104.2ZM599 1099.8L591.6 1095.5L591.6 1104.2ZM611.7 1099.9L604.3 1095.5L604.3 1104.3ZM624.4 1099.7L617 1095.4L617 1104.1ZM637 1099.4L629.6 1095.1L629.6 1103.8Z" fill="#fff" stroke="#a02a10" stroke-width="2.4"/><path d="M174.9 973.5 178.1 973.5 181.2 960.9 184.4 948.5 187.6 932.7 190.8 904 193.9 865.1 197.1 822 200.3 764.5 203.4 714.3 206.6 679 209.8 649.6 212.9 621.4 216.1 612.3 219.3 620.2 222.4 633.5 225.6 647.8 228.8 665.1 231.9 679.3 235.1 691.8 238.3 711.1 241.4 738.1 244.6 761.5 247.8 782.6 250.9 806.1 254.1 831.5 257.3 856.9 260.4 882.2 263.6 905.3 266.8 926.8 269.9 947.5 273.1 967.5 276.3 987 279.4 1005.8 282.6 1019.3 285.8 1028.6 288.9 1039.7 292.1 1050.6 295.3 1057.1 298.4 1063.9 301.6 1070.1 304.8 1071.5 307.9 1076 311.1 1078.7 314.3 1079 317.5 1081.5 320.6 1082.8 323.8 1082.4 327 1084.6 330.1 1086.1 333.3 1088.1 336.5 1091.7 339.6 1093.1 342.8 1091.9 346 1088.3 349.1 1092.2 352.3 1093.1 355.5 1092.4 358.6 1092.1 361.8 1093.6 365 1093.8 368.1 1094.5 371.3 1095.9 374.5 1096.5 377.6 1099 391.6 1096.9 404.2 1097.4 416.9 1097.4 429.6 1096.7 442.2 1099.9 454.9 1099.8 467.6 1097.4 480.3 1100.5 492.9 1098.2 505.6 1098.5 518.3 1098 530.9 1099.8 543.6 1098 556.3 1100.3 569 1097.8 581.6 1098.9 594.3 1099.4 607 1098.7 619.6 1097.3 632.3 1100.3" fill="none" stroke="#980a0a" stroke-width="3.0"/><path d="M171 973.5a3.9 3.9 0 1 0 7.8 0a3.9 3.9 0 1 0 -7.8 0ZM174.2 973.5a3.9 3.9 0 1 0 7.8 0a3.9 3.9 0 1 0 -7.8 0ZM177.3 960.9a3.9 3.9 0 1 0 7.8 0a3.9 3.9 0 1 0 -7.8 0ZM180.5 948.5a3.9 3.9 0 1 0 7.8 0a3.9 3.9 0 1 0 -7.8 0ZM183.7 932.7a3.9 3.9 0 1 0 7.8 0a3.9 3.9 0 1 0 -7.8 0ZM186.9 904a3.9 3.9 0 1 0 7.8 0a3.9 3.9 0 1 0 -7.8 0ZM190 865.1a3.9 3.9 0 1 0 7.8 0a3.9 3.9 0 1 0 -7.8 0ZM193.2 822a3.9 3.9 0 1 0 7.8 0a3.9 3.9 0 1 0 -7.8 0ZM196.4 764.5a3.9 3.9 0 1 0 7.8 0a3.9 3.9 0 1 0 -7.8 0ZM199.5 714.3a3.9 3.9 0 1 0 7.8 0a3.9 3.9 0 1 0 -7.8 0ZM202.7 679a3.9 3.9 0 1 0 7.8 0a3.9 3.9 0 1 0 -7.8 0ZM205.9 649.6a3.9 3.9 0 1 0 7.8 0a3.9 3.9 0 1 0 -7.8 0ZM209 621.4a3.9 3.9 0 1 0 7.8 0a3.9 3.9 0 1 0 -7.8 0ZM212.2 612.3a3.9 3.9 0 1 0 7.8 0a3.9 3.9 0 1 0 -7.8 0ZM215.4 620.2a3.9 3.9 0 1 0 7.8 0a3.9 3.9 0 1 0 -7.8 0ZM218.5 633.5a3.9 3.9 0 1 0 7.8 0a3.9 3.9 0 1 0 -7.8 0ZM221.7 647.8a3.9 3.9 0 1 0 7.8 0a3.9 3.9 0 1 0 -7.8 0ZM224.9 665.1a3.9 3.9 0 1 0 7.8 0a3.9 3.9 0 1 0 -7.8 0ZM228 679.3a3.9 3.9 0 1 0 7.8 0a3.9 3.9 0 1 0 -7.8 0ZM231.2 691.8a3.9 3.9 0 1 0 7.8 0a3.9 3.9 0 1 0 -7.8 0ZM234.4 711.1a3.9 3.9 0 1 0 7.8 0a3.9 3.9 0 1 0 -7.8 0ZM237.5 738.1a3.9 3.9 0 1 0 7.8 0a3.9 3.9 0 1 0 -7.8 0ZM240.7 761.5a3.9 3.9 0 1 0 7.8 0a3.9 3.9 0 1 0 -7.8 0ZM243.9 782.6a3.9 3.9 0 1 0 7.8 0a3.9 3.9 0 1 0 -7.8 0ZM247 806.1a3.9 3.9 0 1 0 7.8 0a3.9 3.9 0 1 0 -7.8 0ZM250.2 831.5a3.9 3.9 0 1 0 7.8 0a3.9 3.9 0 1 0 -7.8 0ZM253.4 856.9a3.9 3.9 0 1 0 7.8 0a3.9 3.9 0 1 0 -7.8 0ZM256.5 882.2a3.9 3.9 0 1 0 7.8 0a3.9 3.9 0 1 0 -7.8 0ZM259.7 905.3a3.9 3.9 0 1 0 7.8 0a3.9 3.9 0 1 0 -7.8 0ZM262.9 926.8a3.9 3.9 0 1 0 7.8 0a3.9 3.9 0 1 0 -7.8 0ZM266 947.5a3.9 3.9 0 1 0 7.8 0a3.9 3.9 0 1 0 -7.8 0ZM269.2 967.5a3.9 3.9 0 1 0 7.8 0a3.9 3.9 0 1 0 -7.8 0ZM272.4 987a3.9 3.9 0 1 0 7.8 0a3.9 3.9 0 1 0 -7.8 0ZM275.5 1005.8a3.9 3.9 0 1 0 7.8 0a3.9 3.9 0 1 0 -7.8 0ZM278.7 1019.3a3.9 3.9 0 1 0 7.8 0a3.9 3.9 0 1 0 -7.8 0ZM281.9 1028.6a3.9 3.9 0 1 0 7.8 0a3.9 3.9 0 1 0 -7.8 0ZM285 1039.7a3.9 3.9 0 1 0 7.8 0a3.9 3.9 0 1 0 -7.8 0ZM288.2 1050.6a3.9 3.9 0 1 0 7.8 0a3.9 3.9 0 1 0 -7.8 0ZM291.4 1057.1a3.9 3.9 0 1 0 7.8 0a3.9 3.9 0 1 0 -7.8 0ZM294.5 1063.9a3.9 3.9 0 1 0 7.8 0a3.9 3.9 0 1 0 -7.8 0ZM297.7 1070.1a3.9 3.9 0 1 0 7.8 0a3.9 3.9 0 1 0 -7.8 0ZM300.9 1071.5a3.9 3.9 0 1 0 7.8 0a3.9 3.9 0 1 0 -7.8 0ZM304 1076a3.9 3.9 0 1 0 7.8 0a3.9 3.9 0 1 0 -7.8 0ZM307.2 1078.7a3.9 3.9 0 1 0 7.8 0a3.9 3.9 0 1 0 -7.8 0ZM310.4 1079a3.9 3.9 0 1 0 7.8 0a3.9 3.9 0 1 0 -7.8 0ZM313.6 1081.5a3.9 3.9 0 1 0 7.8 0a3.9 3.9 0 1 0 -7.8 0ZM316.7 1082.8a3.9 3.9 0 1 0 7.8 0a3.9 3.9 0 1 0 -7.8 0ZM319.9 1082.4a3.9 3.9 0 1 0 7.8 0a3.9 3.9 0 1 0 -7.8 0ZM323.1 1084.6a3.9 3.9 0 1 0 7.8 0a3.9 3.9 0 1 0 -7.8 0ZM326.2 1086.1a3.9 3.9 0 1 0 7.8 0a3.9 3.9 0 1 0 -7.8 0ZM329.4 1088.1a3.9 3.9 0 1 0 7.8 0a3.9 3.9 0 1 0 -7.8 0ZM332.6 1091.7a3.9 3.9 0 1 0 7.8 0a3.9 3.9 0 1 0 -7.8 0ZM335.7 1093.1a3.9 3.9 0 1 0 7.8 0a3.9 3.9 0 1 0 -7.8 0ZM338.9 1091.9a3.9 3.9 0 1 0 7.8 0a3.9 3.9 0 1 0 -7.8 0ZM342.1 1088.3a3.9 3.9 0 1 0 7.8 0a3.9 3.9 0 1 0 -7.8 0ZM345.2 1092.2a3.9 3.9 0 1 0 7.8 0a3.9 3.9 0 1 0 -7.8 0ZM348.4 1093.1a3.9 3.9 0 1 0 7.8 0a3.9 3.9 0 1 0 -7.8 0ZM351.6 1092.4a3.9 3.9 0 1 0 7.8 0a3.9 3.9 0 1 0 -7.8 0ZM354.7 1092.1a3.9 3.9 0 1 0 7.8 0a3.9 3.9 0 1 0 -7.8 0ZM357.9 1093.6a3.9 3.9 0 1 0 7.8 0a3.9 3.9 0 1 0 -7.8 0ZM361.1 1093.8a3.9 3.9 0 1 0 7.8 0a3.9 3.9 0 1 0 -7.8 0ZM364.2 1094.5a3.9 3.9 0 1 0 7.8 0a3.9 3.9 0 1 0 -7.8 0ZM367.4 1095.9a3.9 3.9 0 1 0 7.8 0a3.9 3.9 0 1 0 -7.8 0ZM370.6 1096.5a3.9 3.9 0 1 0 7.8 0a3.9 3.9 0 1 0 -7.8 0ZM373.7 1099a3.9 3.9 0 1 0 7.8 0a3.9 3.9 0 1 0 -7.8 0ZM387.7 1096.9a3.9 3.9 0 1 0 7.8 0a3.9 3.9 0 1 0 -7.8 0ZM400.3 1097.4a3.9 3.9 0 1 0 7.8 0a3.9 3.9 0 1 0 -7.8 0ZM413 1097.4a3.9 3.9 0 1 0 7.8 0a3.9 3.9 0 1 0 -7.8 0ZM425.7 1096.7a3.9 3.9 0 1 0 7.8 0a3.9 3.9 0 1 0 -7.8 0ZM438.4 1099.9a3.9 3.9 0 1 0 7.8 0a3.9 3.9 0 1 0 -7.8 0ZM451 1099.8a3.9 3.9 0 1 0 7.8 0a3.9 3.9 0 1 0 -7.8 0ZM463.7 1097.4a3.9 3.9 0 1 0 7.8 0a3.9 3.9 0 1 0 -7.8 0ZM476.4 1100.5a3.9 3.9 0 1 0 7.8 0a3.9 3.9 0 1 0 -7.8 0ZM489 1098.2a3.9 3.9 0 1 0 7.8 0a3.9 3.9 0 1 0 -7.8 0ZM501.7 1098.5a3.9 3.9 0 1 0 7.8 0a3.9 3.9 0 1 0 -7.8 0ZM514.4 1098a3.9 3.9 0 1 0 7.8 0a3.9 3.9 0 1 0 -7.8 0ZM527 1099.8a3.9 3.9 0 1 0 7.8 0a3.9 3.9 0 1 0 -7.8 0ZM539.7 1098a3.9 3.9 0 1 0 7.8 0a3.9 3.9 0 1 0 -7.8 0ZM552.4 1100.3a3.9 3.9 0 1 0 7.8 0a3.9 3.9 0 1 0 -7.8 0ZM565.1 1097.8a3.9 3.9 0 1 0 7.8 0a3.9 3.9 0 1 0 -7.8 0ZM577.7 1098.9a3.9 3.9 0 1 0 7.8 0a3.9 3.9 0 1 0 -7.8 0ZM590.4 1099.4a3.9 3.9 0 1 0 7.8 0a3.9 3.9 0 1 0 -7.8 0ZM603.1 1098.7a3.9 3.9 0 1 0 7.8 0a3.9 3.9 0 1 0 -7.8 0ZM615.7 1097.3a3.9 3.9 0 1 0 7.8 0a3.9 3.9 0 1 0 -7.8 0ZM628.4 1100.3a3.9 3.9 0 1 0 7.8 0a3.9 3.9 0 1 0 -7.8 0Z" fill="#fff" stroke="#980a0a" stroke-width="2.4"/></g>
<g><rect x="445.5" y="38.5" width="359.2" height="336.5" fill="#fff" stroke="#262626" stroke-width="2"/><line x1="450.2" y1="57.7" x2="517.5" y2="57.7" stroke="#14148c" stroke-width="3"/><path d="M475.4 57.7a8.4 8.4 0 1 0 16.8 0a8.4 8.4 0 1 0 -16.8 0Z" fill="#fff" stroke="#14148c" stroke-width="2.2"/><text x="520.5" y="67.2" font-family="Liberation Serif" font-size="26" text-anchor="start" textLength="74.6" lengthAdjust="spacingAndGlyphs">1 mHz</text><line x1="450.2" y1="90.8" x2="517.5" y2="90.8" stroke="#1616a0" stroke-width="3"/><path d="M476.1 83.1h15.4v15.4h-15.4Z" fill="#fff" stroke="#1616a0" stroke-width="2.2"/><text x="520.5" y="100.3" font-family="Liberation Serif" font-size="26" text-anchor="start" textLength="95.4" lengthAdjust="spacingAndGlyphs">2.1 mHz</text><line x1="450.2" y1="123.9" x2="517.5" y2="123.9" stroke="#0c0cb0" stroke-width="5"/><path d="M483.8 112.5L494.3 130.3L473.3 130.3Z" fill="#fff" stroke="#0c0cb0" stroke-width="2.2"/><text x="520.5" y="133.4" font-family="Liberation Serif" font-size="26" text-anchor="start" textLength="95.4" lengthAdjust="spacingAndGlyphs">5.7 mHz</text><line x1="450.2" y1="157" x2="517.5" y2="157" stroke="#0a14b4" stroke-width="5"/><path d="M483.8 168.4L494.3 150.6L473.3 150.6Z" fill="#fff" stroke="#0a14b4" stroke-width="2.2"/><text x="520.5" y="166.5" font-family="Liberation Serif" font-size="26" text-anchor="start" textLength="87.4" lengthAdjust="spacingAndGlyphs">11 mHz</text><line x1="450.2" y1="190.1" x2="517.5" y2="190.1" stroke="#1a32b4" stroke-width="3"/><path d="M472.4 190.1L490.2 179.6L490.2 200.6Z" fill="#fff" stroke="#1a32b4" stroke-width="2.2"/><text x="520.5" y="199.6" font-family="Liberation Serif" font-size="26" text-anchor="start" textLength="88.4" lengthAdjust="spacingAndGlyphs">21 mHz</text><line x1="450.2" y1="223.2" x2="517.5" y2="223.2" stroke="#2a4cb4" stroke-width="3"/><path d="M495.2 223.2L477.4 212.7L477.4 233.7Z" fill="#fff" stroke="#2a4cb4" stroke-width="2.2"/><text x="520.5" y="232.7" font-family="Liberation Serif" font-size="26" text-anchor="start" textLength="88.4" lengthAdjust="spacingAndGlyphs">57 mHz</text><line x1="450.2" y1="256.3" x2="517.5" y2="256.3" stroke="#3464b4" stroke-width="3"/><path d="M475.4 256.3a8.4 8.4 0 1 0 16.8 0a8.4 8.4 0 1 0 -16.8 0Z" fill="#fff" stroke="#3464b4" stroke-width="2.2"/><text x="520.5" y="265.8" font-family="Liberation Serif" font-size="26" text-anchor="start" textLength="101.3" lengthAdjust="spacingAndGlyphs">110 mHz</text><line x1="450.2" y1="289.4" x2="517.5" y2="289.4" stroke="#4482ac" stroke-width="3"/><path d="M476.1 281.7h15.4v15.4h-15.4Z" fill="#fff" stroke="#4482ac" stroke-width="2.2"/><text x="520.5" y="298.9" font-family="Liberation Serif" font-size="26" text-anchor="start" textLength="102.3" lengthAdjust="spacingAndGlyphs">210 mHz</text><line x1="450.2" y1="322.5" x2="517.5" y2="322.5" stroke="#56a8a8" stroke-width="5"/><path d="M483.8 311.1L494.3 328.9L473.3 328.9Z" fill="#fff" stroke="#56a8a8" stroke-width="2.2"/><text x="520.5" y="332" font-family="Liberation Serif" font-size="26" text-anchor="start" textLength="102.3" lengthAdjust="spacingAndGlyphs">570 mHz</text><line x1="450.2" y1="355.6" x2="517.5" y2="355.6" stroke="#58a88e" stroke-width="5"/><path d="M483.8 367L494.3 349.2L473.3 349.2Z" fill="#fff" stroke="#58a88e" stroke-width="2.2"/><text x="520.5" y="365.1" font-family="Liberation Serif" font-size="26" text-anchor="start" textLength="86.6" lengthAdjust="spacingAndGlyphs">1.11 Hz</text><line x1="634.7" y1="57.7" x2="699.7" y2="57.7" stroke="#5aaa74" stroke-width="3"/><path d="M655.1 57.7L672.9 47.2L672.9 68.2Z" fill="#fff" stroke="#5aaa74" stroke-width="2.2"/><text x="703" y="67.2" font-family="Liberation Serif" font-size="26" text-anchor="start" textLength="86.6" lengthAdjust="spacingAndGlyphs">2.11 Hz</text><line x1="634.7" y1="90.8" x2="699.7" y2="90.8" stroke="#68b068" stroke-width="3"/><path d="M677.9 90.8L660.1 80.3L660.1 101.3Z" fill="#fff" stroke="#68b068" stroke-width="2.2"/><text x="703" y="100.3" font-family="Liberation Serif" font-size="26" text-anchor="start" textLength="73.8" lengthAdjust="spacingAndGlyphs">5.7 Hz</text><line x1="634.7" y1="123.9" x2="699.7" y2="123.9" stroke="#80b040" stroke-width="5"/><path d="M658.1 123.9a8.4 8.4 0 1 0 16.8 0a8.4 8.4 0 1 0 -16.8 0Z" fill="#fff" stroke="#80b040" stroke-width="2.2"/><text x="703" y="133.4" font-family="Liberation Serif" font-size="26" text-anchor="start" textLength="86.6" lengthAdjust="spacingAndGlyphs">11.1 Hz</text><line x1="634.7" y1="157" x2="699.7" y2="157" stroke="#92aa1c" stroke-width="5"/><path d="M658.8 149.3h15.4v15.4h-15.4Z" fill="#fff" stroke="#92aa1c" stroke-width="2.2"/><text x="703" y="166.5" font-family="Liberation Serif" font-size="26" text-anchor="start" textLength="66.9" lengthAdjust="spacingAndGlyphs">21 Hz</text><line x1="634.7" y1="190.1" x2="699.7" y2="190.1" stroke="#a88e10" stroke-width="3"/><path d="M666.5 178.7L677 196.5L656 196.5Z" fill="#fff" stroke="#a88e10" stroke-width="2.2"/><text x="703" y="199.6" font-family="Liberation Serif" font-size="26" text-anchor="start" textLength="66.9" lengthAdjust="spacingAndGlyphs">57 Hz</text><line x1="634.7" y1="223.2" x2="699.7" y2="223.2" stroke="#ae6a12" stroke-width="3"/><path d="M666.5 234.6L677 216.8L656 216.8Z" fill="#fff" stroke="#ae6a12" stroke-width="2.2"/><text x="703" y="232.7" font-family="Liberation Serif" font-size="26" text-anchor="start" textLength="78.7" lengthAdjust="spacingAndGlyphs">111 Hz</text><line x1="634.7" y1="256.3" x2="699.7" y2="256.3" stroke="#a84a12" stroke-width="3"/><path d="M655.1 256.3L672.9 245.8L672.9 266.8Z" fill="#fff" stroke="#a84a12" stroke-width="2.2"/><text x="703" y="265.8" font-family="Liberation Serif" font-size="26" text-anchor="start" textLength="79.7" lengthAdjust="spacingAndGlyphs">211 Hz</text><line x1="634.7" y1="289.4" x2="699.7" y2="289.4" stroke="#a02a10" stroke-width="3"/><path d="M677.9 289.4L660.1 278.9L660.1 299.9Z" fill="#fff" stroke="#a02a10" stroke-width="2.2"/><text x="703" y="298.9" font-family="Liberation Serif" font-size="26" text-anchor="start" textLength="80.7" lengthAdjust="spacingAndGlyphs">570 Hz</text><line x1="634.7" y1="322.5" x2="699.7" y2="322.5" stroke="#980a0a" stroke-width="5"/><path d="M658.1 322.5a8.4 8.4 0 1 0 16.8 0a8.4 8.4 0 1 0 -16.8 0Z" fill="#fff" stroke="#980a0a" stroke-width="2.2"/><text x="703" y="332" font-family="Liberation Serif" font-size="26" text-anchor="start" textLength="92.5" lengthAdjust="spacingAndGlyphs">1110 Hz</text></g>
<g><rect x="378.1" y="617.3" width="404.6" height="334.0" fill="#fff"/><clipPath id="ci"><rect x="378.1" y="617.3" width="404.6" height="334.0"/></clipPath><g clip-path="url(#ci)" stroke-linejoin="round"><path d="M380.4 879.2 382.5 873.4 384.6 867.4 386.6 861.3 388.7 855.2 390.7 848.9 392.8 842.4 394.9 835.9 396.9 828.9 399 821.9 401 814.8 403.1 807.8 405.2 801.3 407.2 795.1 409.3 789.1 411.3 783.4 413.4 777.8 415.5 772.3 417.5 767 419.6 761.9 421.6 756.8 423.7 751.3 425.8 745.5 427.8 740.2 429.9 736.2 432 734 434 731.9 436.1 729.4 438.1 726.8 440.2 723.9 442.3 720.3 444.3 716.4 446.4 712.2 448.4 707.9 450.5 703.6 452.6 699.5 454.6 695.6 456.7 692.3 458.8 689.5 460.8 687.4 462.9 685.7 465 684.3 467.1 683 469.1 681.8 471.2 680.8 473.3 679.6 475.4 678.5 477.5 677.6 479.6 677.1 481.7 677 483.9 677.2 486 677.4 488.1 677.9 490.2 678.4 492.2 679.3 494.3 681.4 496.4 686.4 498.5 693.1 500.6 701.1 502.6 709.3 504.7 718.5 506.8 729 508.8 741.5 510.9 754.2 513 766.1 515 776.6 517.1 786.5 519.1 796 521.2 805.3 523.3 814.3 525.3 823.3 527.4 832.4 529.4 841.4 531.5 850.1 533.6 858.1 535.6 865.5 537.7 872.3 539.7 878.7 541.8 884.7 543.9 890.3 545.9 895.4 548 900.1 550.1 904.4 552.1 908.4 554.2 912 556.2 915.1 558.3 917.8 560.4 920.2 562.4 922.3 564.5 924.4 566.5 926.4 568.6 928.3 570.7 930.3 572.7 932.2 574.8 933.9 576.8 935.5 578.9 936.9 581 938.1 583 939.2 585.1 940.3 587.1 941.3 589.2 942.5 591.3 943.7 593.3 945 595.4 946.2 597.5 947 599.5 947.6 601.6 948.1 603.6 948.5 605.7 948.9 607.8 949.3 609.8 949.6 611.9 949.9 613.9 950.2 616 950.4 618.1 950.6 620.1 950.8 622.2 950.9 624.2 951.1 626.3 951.1 628.4 951.2 630.4 951.3 632.5 951.3 634.5 951.4 636.6 951.4 638.7 951.5 640.7 951.5 642.8 951.6 644.9 951.6 646.9 951.7 649 951.7 651 951.7 653.1 951.8 655.2 951.8 657.2 951.8 659.3 951.9 661.3 951.9 663.4 951.9 665.5 951.9 667.5 952 669.6 952 671.6 952 673.7 952 675.8 952 677.8 952 679.9 952 681.9 952 684 952 686.1 952 688.1 952 690.2 952 692.3 952 694.3 952 696.4 952 698.4 952 700.5 952 702.6 952 704.6 952 706.7 952 708.7 952 710.8 952 712.9 952 714.9 952 717 952 719 952 721.1 952 723.2 952 725.2 952 727.3 952 729.3 952 731.4 952 733.5 952 735.5 952 737.6 952 739.7 952 741.7 952 743.8 952 745.8 952 747.9 952 750 952 752 952 754.1 952 756.1 952 758.2 952 760.3 952 762.3 952 764.4 952 766.4 952 768.5 952 770.6 952 772.6 952 774.7 952 776.7 952 778.8 952 780.9 952 782.9 952 785 952 787.1 952 789.1 952 791.2 952" fill="none" stroke="#14148c" stroke-width="2.3"/><path d="M423.4 737.8 434.2 727.3 445 707.6 455.8 688.8 466.6 681.3 477.4 677 488.1 679.1 498.9 711.5 509.7 771.1 520.5 820.7 531.3 865 542.1 896.2 552.9 916.2 563.7 927.6 574.4 936.7 585.2 942.6 596 947.8 606.8 949.8 617.6 950.9 628.4 951.3 639.2 951.6 649.9 951.8 660.7 951.9 671.5 952 682.3 952 693.1 952 703.9 952 714.7 952 725.5 952 736.2 952 747 952 757.8 952 768.6 952 779.4 952" fill="none" stroke="#14148c" stroke-width="2.3"/><path d="M419.5 737.8a3.9 3.9 0 1 0 7.8 0a3.9 3.9 0 1 0 -7.8 0ZM430.3 727.3a3.9 3.9 0 1 0 7.8 0a3.9 3.9 0 1 0 -7.8 0ZM441.1 707.6a3.9 3.9 0 1 0 7.8 0a3.9 3.9 0 1 0 -7.8 0ZM451.9 688.8a3.9 3.9 0 1 0 7.8 0a3.9 3.9 0 1 0 -7.8 0ZM462.7 681.3a3.9 3.9 0 1 0 7.8 0a3.9 3.9 0 1 0 -7.8 0ZM473.5 677a3.9 3.9 0 1 0 7.8 0a3.9 3.9 0 1 0 -7.8 0ZM484.2 679.1a3.9 3.9 0 1 0 7.8 0a3.9 3.9 0 1 0 -7.8 0ZM495 711.5a3.9 3.9 0 1 0 7.8 0a3.9 3.9 0 1 0 -7.8 0ZM505.8 771.1a3.9 3.9 0 1 0 7.8 0a3.9 3.9 0 1 0 -7.8 0ZM516.6 820.7a3.9 3.9 0 1 0 7.8 0a3.9 3.9 0 1 0 -7.8 0ZM527.4 865a3.9 3.9 0 1 0 7.8 0a3.9 3.9 0 1 0 -7.8 0ZM538.2 896.2a3.9 3.9 0 1 0 7.8 0a3.9 3.9 0 1 0 -7.8 0ZM549 916.2a3.9 3.9 0 1 0 7.8 0a3.9 3.9 0 1 0 -7.8 0ZM559.8 927.6a3.9 3.9 0 1 0 7.8 0a3.9 3.9 0 1 0 -7.8 0ZM570.5 936.7a3.9 3.9 0 1 0 7.8 0a3.9 3.9 0 1 0 -7.8 0ZM581.3 942.6a3.9 3.9 0 1 0 7.8 0a3.9 3.9 0 1 0 -7.8 0ZM592.1 947.8a3.9 3.9 0 1 0 7.8 0a3.9 3.9 0 1 0 -7.8 0ZM602.9 949.8a3.9 3.9 0 1 0 7.8 0a3.9 3.9 0 1 0 -7.8 0ZM613.7 950.9a3.9 3.9 0 1 0 7.8 0a3.9 3.9 0 1 0 -7.8 0ZM624.5 951.3a3.9 3.9 0 1 0 7.8 0a3.9 3.9 0 1 0 -7.8 0ZM635.3 951.6a3.9 3.9 0 1 0 7.8 0a3.9 3.9 0 1 0 -7.8 0ZM646 951.8a3.9 3.9 0 1 0 7.8 0a3.9 3.9 0 1 0 -7.8 0ZM656.8 951.9a3.9 3.9 0 1 0 7.8 0a3.9 3.9 0 1 0 -7.8 0ZM667.6 952a3.9 3.9 0 1 0 7.8 0a3.9 3.9 0 1 0 -7.8 0ZM678.4 952a3.9 3.9 0 1 0 7.8 0a3.9 3.9 0 1 0 -7.8 0ZM689.2 952a3.9 3.9 0 1 0 7.8 0a3.9 3.9 0 1 0 -7.8 0ZM700 952a3.9 3.9 0 1 0 7.8 0a3.9 3.9 0 1 0 -7.8 0ZM710.8 952a3.9 3.9 0 1 0 7.8 0a3.9 3.9 0 1 0 -7.8 0ZM721.6 952a3.9 3.9 0 1 0 7.8 0a3.9 3.9 0 1 0 -7.8 0ZM732.3 952a3.9 3.9 0 1 0 7.8 0a3.9 3.9 0 1 0 -7.8 0ZM743.1 952a3.9 3.9 0 1 0 7.8 0a3.9 3.9 0 1 0 -7.8 0ZM753.9 952a3.9 3.9 0 1 0 7.8 0a3.9 3.9 0 1 0 -7.8 0ZM764.7 952a3.9 3.9 0 1 0 7.8 0a3.9 3.9 0 1 0 -7.8 0ZM775.5 952a3.9 3.9 0 1 0 7.8 0a3.9 3.9 0 1 0 -7.8 0Z" fill="#fff" stroke="#14148c" stroke-width="2.2"/><path d="M376.9 934.7 378.9 933.1 381 931.4 383 929.5 385.1 927.5 387.2 925.4 389.2 923.2 391.3 920.8 393.3 918.4 395.4 915.9 397.5 913.3 399.5 910.6 401.6 907.6 403.7 904.4 405.7 900.9 407.8 897.1 409.8 892.6 411.9 887.4 414 881.7 416 875.4 418.1 868.8 420.1 862 422.2 855 424.3 848.1 426.3 841.3 428.4 834.8 430.4 828.1 432.5 821.3 434.6 814.4 436.6 807.4 438.7 800.4 440.7 793.4 442.8 786.5 444.9 779.5 446.9 772.6 449 765.4 451.1 758.3 453.1 751.3 455.2 744.7 457.3 738.4 459.3 732.6 461.4 727.1 463.5 721.7 465.6 716.5 467.7 711.3 469.8 706 471.9 700.5 474.1 694.7 476.2 689.2 478.4 684.5 480.7 681.2 483 678.9 485.3 677.3 487.7 675.8 490 674.5 492.4 673.5 494.8 672.9 497.2 672.9 499.5 673.4 501.8 674.5 504.1 676.1 506.3 677.9 508.5 679.7 510.6 681.6 512.8 683.8 514.9 686.3 517 689.1 519.1 692.2 521.1 695.7 523.2 699.5 525.3 704.2 527.4 709.8 529.4 716 531.5 722.8 533.6 729.6 535.6 736.7 537.7 744.2 539.7 752.3 541.8 760.5 543.9 768.6 545.9 776.4 548 784 550.1 791.6 552.1 799.1 554.2 806.5 556.2 813.6 558.3 820.7 560.4 827.9 562.4 835.1 564.5 842.3 566.5 849.2 568.6 856 570.7 862.4 572.7 868.4 574.8 873.9 576.8 878.8 578.9 883.4 581 887.8 583 892 585.1 896 587.1 899.8 589.2 903.3 591.3 906.7 593.3 909.7 595.4 912.6 597.5 915.2 599.5 917.7 601.6 920.1 603.6 922.4 605.7 924.6 607.8 926.6 609.8 928.5 611.9 930.2 613.9 931.7 616 933.1 618.1 934.3 620.1 935.5 622.2 936.6 624.2 937.7 626.3 938.6 628.4 939.5 630.4 940.4 632.5 941.1 634.5 941.8 636.6 942.3 638.7 942.8 640.7 943.3 642.8 943.8 644.9 944.2 646.9 944.6 649 945 651 945.4 653.1 945.8 655.2 946.1 657.2 946.5 659.3 946.8 661.3 947.1 663.4 947.4 665.5 947.6 667.5 947.9 669.6 948.1 671.6 948.3 673.7 948.5 675.8 948.6 677.8 948.7 679.9 948.8 681.9 948.9 684 949 686.1 949.1 688.1 949.2 690.2 949.3 692.3 949.3 694.3 949.4 696.4 949.5 698.4 949.6 700.5 949.6 702.6 949.7 704.6 949.8 706.7 949.8 708.7 949.9 710.8 950 712.9 950 714.9 950.1 717 950.1 719 950.2 721.1 950.2 723.2 950.3 725.2 950.4 727.3 950.4 729.3 950.4 731.4 950.5 733.5 950.5 735.5 950.6 737.6 950.6 739.7 950.7 741.7 950.7 743.8 950.7 745.8 950.8 747.9 950.8 750 950.8 752 950.9 754.1 950.9 756.1 950.9 758.2 951 760.3 951 762.3 951 764.4 951 766.4 951 768.5 951.1 770.6 951.1 772.6 951.1 774.7 951.1 776.7 951.1 778.8 951.1 780.9 951.1 782.9 951.1 785 951.2 787.1 951.2 789.1 951.2 791.2 951.2" fill="none" stroke="#2a4cb4" stroke-width="2.3"/><path d="M433.3 759.3 444 741.1 454.8 722.9 465.6 704.3 476.4 686.7 487.2 675.1 498 674.2 508.8 683.8 519.5 700.5 530.3 732.8 541.1 774.1 551.9 813.2 562.7 850.4 573.5 880.7 584.3 902.1 595.1 917.4 605.8 928.6 616.6 935.9 627.4 940.8 638.2 943.7 649 945.8 659.8 947.5 670.6 948.5 681.3 949.1 692.1 949.5 702.9 949.8 713.7 950.2 724.5 950.4 735.3 950.7 746.1 950.8 756.9 951 767.6 951.1 778.4 951.1" fill="none" stroke="#2a4cb4" stroke-width="2.3"/><path d="M438 759.3L430.6 754.9L430.6 763.7ZM448.8 741.1L441.4 736.8L441.4 745.5ZM459.6 722.9L452.2 718.6L452.2 727.3ZM470.4 704.3L462.9 700L462.9 708.7ZM481.1 686.7L473.7 682.4L473.7 691.1ZM491.9 675.1L484.5 670.7L484.5 679.5ZM502.7 674.2L495.3 669.9L495.3 678.6ZM513.5 683.8L506.1 679.4L506.1 688.1ZM524.3 700.5L516.9 696.1L516.9 704.9ZM535.1 732.8L527.7 728.5L527.7 737.2ZM545.9 774.1L538.5 769.7L538.5 778.5ZM556.6 813.2L549.2 808.8L549.2 817.5ZM567.4 850.4L560 846.1L560 854.8ZM578.2 880.7L570.8 876.3L570.8 885.1ZM589 902.1L581.6 897.7L581.6 906.4ZM599.8 917.4L592.4 913.1L592.4 921.8ZM610.6 928.6L603.2 924.3L603.2 933ZM621.4 935.9L614 931.5L614 940.2ZM632.2 940.8L624.7 936.4L624.7 945.2ZM642.9 943.7L635.5 939.3L635.5 948ZM653.7 945.8L646.3 941.4L646.3 950.2ZM664.5 947.5L657.1 943.1L657.1 951.8ZM675.3 948.5L667.9 944.2L667.9 952.9ZM686.1 949.1L678.7 944.7L678.7 953.4ZM696.9 949.5L689.5 945.1L689.5 953.8ZM707.7 949.8L700.3 945.5L700.3 954.2ZM718.4 950.2L711 945.8L711 954.5ZM729.2 950.4L721.8 946.1L721.8 954.8ZM740 950.7L732.6 946.3L732.6 955ZM750.8 950.8L743.4 946.5L743.4 955.2ZM761.6 951L754.2 946.6L754.2 955.4ZM772.4 951.1L765 946.7L765 955.5ZM783.2 951.1L775.8 946.8L775.8 955.5Z" fill="#fff" stroke="#2a4cb4" stroke-width="2.2"/><path d="M380.4 875.1 382.5 869.2 384.6 863.2 386.6 857.3 388.7 851.3 390.7 845.4 392.8 839.4 394.9 833.5 396.9 827.5 399 821.5 401 815.5 403.1 809.4 405.2 802.6 407.2 795.4 409.3 788.2 411.3 781 413.4 774.3 415.5 768.3 417.5 763.2 419.6 759.3 421.6 756.7 423.7 754.9 425.8 753.4 427.8 752.2 429.9 750.9 432 749.8 434 748.7 436.1 747.5 438.1 746.3 440.2 745.2 442.3 744 444.3 742.8 446.4 741.7 448.4 740.5 450.5 739.3 452.6 738.1 454.6 737 456.7 735.8 458.7 734.5 460.8 733.3 462.9 732 464.9 730.6 467 729.3 469 727.9 471.1 726.5 473.2 725 475.2 723.3 477.3 721.5 479.4 719.4 481.4 717 483.5 714.2 485.5 711.4 487.6 708.8 489.7 706.4 491.7 704.2 493.8 702.1 495.9 699.9 497.9 697.6 500 695 502.1 691.9 504.1 688.9 506.2 686.6 508.3 685.1 510.4 683.9 512.5 682.9 514.6 682 516.7 681.3 518.8 680.7 520.9 680.5 523 680.4 525.1 680.7 527.2 681.2 529.3 681.9 531.4 682.7 533.5 683.7 535.6 684.9 537.6 686.9 539.7 689.5 541.8 692.5 543.9 695.7 545.9 699.3 548 703.3 550 708.1 552.1 713.2 554.2 718.5 556.2 723.8 558.3 729.4 560.4 735.3 562.4 741.3 564.5 747.4 566.5 753.5 568.6 759.8 570.7 766.2 572.7 772.7 574.8 779.1 576.8 785.6 578.9 792.1 581 798.9 583 805.7 585.1 812.5 587.1 819.1 589.2 825.6 591.3 831.9 593.3 837.7 595.4 843.1 597.5 848.1 599.5 852.8 601.6 857.4 603.6 861.8 605.7 866 607.8 870.2 609.8 874.2 611.9 878.1 613.9 881.8 616 885.5 618.1 889.1 620.1 892.5 622.2 896 624.2 899.3 626.3 902.6 628.4 905.8 630.4 909 632.5 912.1 634.5 915 636.6 917.7 638.7 919.8 640.7 921.6 642.8 923.2 644.9 924.6 646.9 926 649 927.4 651 928.7 653.1 930 655.2 931.3 657.2 932.5 659.3 933.5 661.3 934.5 663.4 935.5 665.5 936.3 667.5 937.1 669.6 937.8 671.6 938.4 673.7 938.9 675.8 939.3 677.8 939.7 679.9 940.1 681.9 940.4 684 940.8 686.1 941.2 688.1 941.5 690.2 941.9 692.3 942.3 694.3 942.7 696.4 943 698.4 943.4 700.5 943.8 702.6 944.1 704.6 944.5 706.7 944.8 708.7 945.1 710.8 945.4 712.9 945.7 714.9 945.9 717 946.2 719 946.4 721.1 946.6 723.2 946.8 725.2 946.9 727.3 947.1 729.3 947.2 731.4 947.4 733.5 947.5 735.5 947.7 737.6 947.8 739.7 947.9 741.7 948.1 743.8 948.2 745.8 948.3 747.9 948.4 750 948.5 752 948.7 754.1 948.8 756.1 948.9 758.2 949 760.3 949.1 762.3 949.1 764.4 949.2 766.4 949.3 768.5 949.4 770.6 949.5 772.6 949.5 774.7 949.6 776.7 949.7 778.8 949.7 780.9 949.8 782.9 949.8 785 949.9 787.1 949.9 789.1 949.9 791.2 950" fill="none" stroke="#58a88e" stroke-width="2.3"/><path d="M419.4 754.7 430.2 748.8 440.9 742.7 451.7 736.6 462.5 729.9 473.3 721.9 484.1 708.7 494.9 697 505.7 684.5 516.4 680.5 527.2 682.7 538 693.1 548.8 715.5 559.6 745.3 570.4 778.5 581.2 813.4 592 845 602.7 868.6 613.5 888.5 624.3 906 635.1 920.4 645.9 928.1 656.7 934.3 667.5 938.4 678.2 940.5 689 942.5 699.8 944.4 710.6 945.9 721.4 947 732.2 947.7 743 948.4 753.8 949 764.5 949.4 775.3 949.7" fill="none" stroke="#58a88e" stroke-width="2.3"/><path d="M419.4 759.4L423.7 752L415 752ZM430.2 753.6L434.5 746.1L425.8 746.1ZM440.9 747.5L445.3 740.1L436.6 740.1ZM451.7 741.3L456.1 733.9L447.4 733.9ZM462.5 734.6L466.9 727.2L458.1 727.2ZM473.3 726.7L477.7 719.3L468.9 719.3ZM484.1 713.4L488.5 706L479.7 706ZM494.9 701.7L499.2 694.3L490.5 694.3ZM505.7 689.2L510 681.8L501.3 681.8ZM516.4 685.2L520.8 677.8L512.1 677.8ZM527.2 687.4L531.6 680L522.9 680ZM538 697.9L542.4 690.5L533.7 690.5ZM548.8 720.2L553.2 712.8L544.4 712.8ZM559.6 750.1L564 742.7L555.2 742.7ZM570.4 783.3L574.7 775.8L566 775.8ZM581.2 818.1L585.5 810.7L576.8 810.7ZM592 849.8L596.3 842.3L587.6 842.3ZM602.7 873.3L607.1 865.9L598.4 865.9ZM613.5 893.2L617.9 885.8L609.2 885.8ZM624.3 910.7L628.7 903.3L619.9 903.3ZM635.1 925.2L639.5 917.8L630.7 917.8ZM645.9 932.8L650.3 925.4L641.5 925.4ZM656.7 939L661 931.6L652.3 931.6ZM667.5 943.2L671.8 935.8L663.1 935.8ZM678.2 945.3L682.6 937.9L673.9 937.9ZM689 947.2L693.4 939.8L684.7 939.8ZM699.8 949.1L704.2 941.7L695.5 941.7ZM710.6 950.7L715 943.3L706.2 943.3ZM721.4 951.7L725.8 944.3L717 944.3ZM732.2 952.5L736.6 945.1L727.8 945.1ZM743 953.1L747.3 945.7L738.6 945.7ZM753.8 953.7L758.1 946.3L749.4 946.3ZM764.5 954.1L768.9 946.7L760.2 946.7ZM775.3 954.5L779.7 947.1L771 947.1Z" fill="#fff" stroke="#58a88e" stroke-width="2.2"/><path d="M376.9 928.1 378.9 925.9 381 923.7 383 921.3 385.1 918.8 387.2 916.1 389.2 913.4 391.3 910.6 393.3 907.7 395.4 904.7 397.5 901.6 399.5 898.6 401.6 895.4 403.7 892.1 405.7 888.6 407.8 884.7 409.8 880.4 411.9 875.4 414 869.5 416 862.8 418.1 855.4 420.1 845.8 422.2 835 424.3 825 426.3 817.4 428.4 812.3 430.4 806.9 432.5 800.9 434.6 794.1 436.6 786.3 438.7 777.7 440.7 769.2 442.8 762 444.9 756.2 446.9 751.7 449 747.7 451.1 744 453.1 740.2 455.2 736.2 457.2 731.9 459.3 727.4 461.4 722.9 463.4 718.8 465.5 715.1 467.5 711.7 469.6 708.4 471.7 705.6 473.7 703 475.8 700.9 477.8 698.9 479.9 697 482 695.4 484 694.1 486.1 693.1 488.2 692.4 490.2 691.7 492.3 691.2 494.3 690.8 496.4 690.5 498.5 690.3 500.5 690.2 502.6 690 504.7 689.9 506.8 689.8 508.9 689.7 511 689.5 513.1 689.3 515.3 689.1 517.4 688.9 519.7 688.7 521.9 688.3 524.2 687.9 526.5 687.5 528.9 687.3 531.3 687.2 533.7 687.1 536 687.1 538.4 687 540.7 687 543 687 545.3 687.1 547.5 687.4 549.7 687.8 551.8 688.3 554 688.9 556.1 689.5 558.2 690.4 560.3 691.5 562.4 692.7 564.4 694.1 566.5 695.7 568.6 697.6 570.6 699.8 572.7 702.2 574.8 704.8 576.8 707.6 578.9 710.6 581 714 583 717.5 585.1 721.1 587.1 724.9 589.2 728.7 591.3 732.7 593.3 736.8 595.4 741.1 597.5 745.5 599.5 750 601.6 754.8 603.6 759.8 605.7 764.8 607.8 769.8 609.8 774.6 611.9 779.4 613.9 784.2 616 789 618.1 793.9 620.1 799.1 622.2 804.5 624.2 810 626.3 815.7 628.4 821.1 630.4 826.4 632.5 831.6 634.5 836.6 636.6 841.5 638.7 846.1 640.7 850.5 642.8 854.6 644.9 858.6 646.9 862.4 649 866 651 869.6 653.1 873 655.2 876.3 657.2 879.5 659.3 882.5 661.3 885.3 663.4 888 665.5 890.5 667.5 892.9 669.6 895.3 671.6 897.6 673.7 900 675.8 902.4 677.8 904.7 679.9 907 681.9 909.1 684 911.2 686.1 913.2 688.1 915.1 690.2 916.9 692.3 918.6 694.3 920 696.4 921.3 698.4 922.4 700.5 923.5 702.6 924.6 704.6 925.8 706.7 927.2 708.7 928.8 710.8 930.3 712.9 931.6 714.9 932.5 717 933.1 719 933.5 721.1 933.9 723.2 934.3 725.2 934.8 727.3 935.4 729.3 936.2 731.4 936.9 733.5 937.6 735.5 938.3 737.6 938.8 739.7 939.2 741.7 939.6 743.8 940.1 745.8 940.5 747.9 941 750 941.5 752 942 754.1 942.5 756.1 942.9 758.2 943.2 760.3 943.4 762.3 943.6 764.4 943.8 766.4 944 768.5 944.2 770.6 944.5 772.6 944.7 774.7 945 776.7 945.2 778.8 945.4 780.9 945.6 782.9 945.7 785 945.9 787.1 946.1 789.1 946.3 791.2 946.5" fill="none" stroke="#92aa1c" stroke-width="2.3"/><path d="M422.4 826.3 433.1 799 443.9 758.6 454.7 737.2 465.5 715 476.3 700.4 487.1 692.7 497.9 690.3 508.7 689.7 519.4 688.6 530.2 687.1 541 687 551.8 689.4 562.6 695.9 573.4 708.6 584.2 727.1 594.9 749.2 605.7 774.9 616.5 800.6 627.3 829.1 638.1 853.6 648.9 873 659.7 888.5 670.5 901.1 681.2 912.6 692 921.2 702.8 927.5 713.6 933.3 724.4 935.9 735.2 939.2 746 941.5 756.7 943.5 767.5 944.6 778.3 945.7" fill="none" stroke="#92aa1c" stroke-width="2.3"/><path d="M419.2 823.2h6.2v6.2h-6.2ZM430 795.9h6.2v6.2h-6.2ZM440.8 755.5h6.2v6.2h-6.2ZM451.6 734h6.2v6.2h-6.2ZM462.4 711.9h6.2v6.2h-6.2ZM473.2 697.3h6.2v6.2h-6.2ZM484 689.6h6.2v6.2h-6.2ZM494.7 687.2h6.2v6.2h-6.2ZM505.5 686.5h6.2v6.2h-6.2ZM516.3 685.5h6.2v6.2h-6.2ZM527.1 684h6.2v6.2h-6.2ZM537.9 683.9h6.2v6.2h-6.2ZM548.7 686.3h6.2v6.2h-6.2ZM559.5 692.8h6.2v6.2h-6.2ZM570.3 705.5h6.2v6.2h-6.2ZM581 724h6.2v6.2h-6.2ZM591.8 746.1h6.2v6.2h-6.2ZM602.6 771.8h6.2v6.2h-6.2ZM613.4 797.5h6.2v6.2h-6.2ZM624.2 826h6.2v6.2h-6.2ZM635 850.5h6.2v6.2h-6.2ZM645.8 869.8h6.2v6.2h-6.2ZM656.5 885.4h6.2v6.2h-6.2ZM667.3 898h6.2v6.2h-6.2ZM678.1 909.5h6.2v6.2h-6.2ZM688.9 918.1h6.2v6.2h-6.2ZM699.7 924.4h6.2v6.2h-6.2ZM710.5 930.1h6.2v6.2h-6.2ZM721.3 932.8h6.2v6.2h-6.2ZM732.1 936h6.2v6.2h-6.2ZM742.8 938.4h6.2v6.2h-6.2ZM753.6 940.4h6.2v6.2h-6.2ZM764.4 941.5h6.2v6.2h-6.2ZM775.2 942.6h6.2v6.2h-6.2Z" fill="#fff" stroke="#92aa1c" stroke-width="2.2"/><path d="M376.9 922 378.9 920.2 381 918.3 383 916.4 385.1 914.4 387.2 912.5 389.2 910.5 391.3 908.5 393.3 906.5 395.4 904.5 397.5 902.5 399.5 900.5 401.6 898.4 403.7 896.1 405.7 893.8 407.8 891.4 409.8 889 411.9 886.7 414 884.4 416 882.3 418.1 880.3 420.1 878.6 422.2 877.2 424.3 876.1 426.3 875.1 428.4 874 430.4 872.6 432.5 870.6 434.6 867.8 436.6 864.2 438.7 859.5 440.7 855 442.8 851.3 444.9 848.6 446.9 846.5 449 844.5 451.1 842.6 453.1 840.4 455.2 837.8 457.2 834.7 459.3 831.2 461.4 827.3 463.4 823.2 465.5 818.8 467.5 814.2 469.6 809.2 471.7 804 473.7 798.3 475.8 792.3 477.8 785.7 479.9 778.4 482 770.8 484 763.3 486.1 756 488.1 748.9 490.2 741.8 492.3 734.8 494.3 728 496.4 721.4 498.5 715 500.5 708.8 502.6 702.7 504.7 696.7 506.7 690.8 508.8 684.8 510.9 678.2 513 671.9 515.1 666.2 517.2 661.9 519.3 659.1 521.5 657.4 523.7 656 525.9 654.8 528.1 653.6 530.4 652.2 532.7 650.4 535.1 648 537.5 645.5 539.9 643.4 542.3 642.1 544.7 642.3 547 642.9 549.3 644.5 551.5 646.3 553.7 648.4 555.9 650.4 558 652.1 560.2 653.6 562.3 655 564.4 656.5 566.5 657.9 568.5 659.4 570.6 661 572.7 662.7 574.8 664.5 576.8 666.6 578.9 668.7 581 670.9 583 673 585.1 674.9 587.1 676.7 589.2 678.4 591.3 680 593.3 681.6 595.4 683.4 597.5 685.3 599.5 687.3 601.6 689.5 603.6 691.7 605.7 693.8 607.8 695.7 609.8 697.4 611.9 699 613.9 700.5 616 702 618.1 703.5 620.1 705 622.2 706.4 624.2 707.9 626.3 709.4 628.4 711.2 630.4 713.4 632.5 716 634.5 719 636.6 722.2 638.7 725.6 640.7 729.2 642.8 733.2 644.9 737.5 646.9 741.9 649 746.1 651 750 653.1 753.9 655.2 757.6 657.2 761.3 659.3 764.8 661.3 768 663.4 771 665.5 773.8 667.5 776.6 669.6 779.5 671.6 782.9 673.7 786.7 675.8 791 677.8 795.5 679.9 799.8 681.9 803.7 684 807.4 686.1 810.9 688.1 814.3 690.2 817.6 692.3 820.8 694.3 823.8 696.4 826.7 698.4 829.5 700.5 832.4 702.6 835.6 704.6 839.1 706.7 843.3 708.7 847.5 710.8 851.6 712.9 855.2 714.9 858.3 717 860.9 719 863.3 721.1 865.6 723.2 867.9 725.2 870.4 727.3 873 729.3 875.5 731.4 878 733.5 880.3 735.5 882.5 737.6 884.5 739.7 886.3 741.7 888.1 743.8 889.9 745.8 891.6 747.9 893.3 750 894.9 752 896.5 754.1 898.1 756.1 899.8 758.2 901.5 760.3 903.2 762.3 904.9 764.4 906.5 766.4 908.2 768.5 909.7 770.6 911.2 772.6 912.6 774.7 914 776.7 915.4 778.8 916.8 780.9 918.4 782.9 919.9 785 921.2 787.1 922.2 789.1 923 791.2 923.7" fill="none" stroke="#a02a10" stroke-width="2.3"/><path d="M421.5 877.7 432.3 870.7 443.1 850.9 453.9 839.5 464.6 820.6 475.4 793.4 486.2 755.6 497 719.5 507.8 687.7 518.6 659.7 529.4 652.2 540.2 642 550.9 649.3 561.7 657.5 572.5 666.4 583.3 677 594.1 686.1 604.9 696.8 615.7 704.8 626.5 713.6 637.2 730.5 648 752.3 658.8 770.5 669.6 786.9 680.4 808.4 691.2 825.3 702 842.2 712.7 860.8 723.5 873.5 734.3 885.3 745.1 894.4 755.9 903 766.7 911.4 777.5 919" fill="none" stroke="#a02a10" stroke-width="2.3"/><path d="M426.2 877.7L418.8 873.3L418.8 882.1ZM437 870.7L429.6 866.3L429.6 875.1ZM447.8 850.9L440.4 846.5L440.4 855.3ZM458.6 839.5L451.2 835.2L451.2 843.9ZM469.4 820.6L462 816.2L462 825ZM480.2 793.4L472.8 789L472.8 797.8ZM491 755.6L483.6 751.2L483.6 759.9ZM501.8 719.5L494.3 715.1L494.3 723.8ZM512.5 687.7L505.1 683.3L505.1 692.1ZM523.3 659.7L515.9 655.3L515.9 664ZM534.1 652.2L526.7 647.8L526.7 656.6ZM544.9 642L537.5 637.7L537.5 646.4ZM555.7 649.3L548.3 645L548.3 653.7ZM566.5 657.5L559.1 653.1L559.1 661.8ZM577.3 666.4L569.9 662.1L569.9 670.8ZM588 677L580.6 672.6L580.6 681.4ZM598.8 686.1L591.4 681.7L591.4 690.5ZM609.6 696.8L602.2 692.4L602.2 701.1ZM620.4 704.8L613 700.5L613 709.2ZM631.2 713.6L623.8 709.3L623.8 718ZM642 730.5L634.6 726.1L634.6 734.9ZM652.8 752.3L645.4 747.9L645.4 756.6ZM663.6 770.5L656.1 766.1L656.1 774.8ZM674.3 786.9L666.9 782.6L666.9 791.3ZM685.1 808.4L677.7 804L677.7 812.8ZM695.9 825.3L688.5 821L688.5 829.7ZM706.7 842.2L699.3 837.8L699.3 846.6ZM717.5 860.8L710.1 856.5L710.1 865.2ZM728.3 873.5L720.9 869.2L720.9 877.9ZM739.1 885.3L731.7 881L731.7 889.7ZM749.8 894.4L742.4 890.1L742.4 898.8ZM760.6 903L753.2 898.7L753.2 907.4ZM771.4 911.4L764 907L764 915.8ZM782.2 919L774.8 914.6L774.8 923.4Z" fill="#fff" stroke="#a02a10" stroke-width="2.2"/></g><line x1="378.1" y1="615.8" x2="378.1" y2="952.8" stroke="#262626" stroke-width="3"/><line x1="782.7" y1="615.8" x2="782.7" y2="952.8" stroke="#262626" stroke-width="3"/><line x1="376.6" y1="617.3" x2="784.2" y2="617.3" stroke="#262626" stroke-width="3"/><line x1="376.6" y1="951.3" x2="784.2" y2="951.3" stroke="#262626" stroke-width="3.4"/><line x1="462.3" y1="617.3" x2="462.3" y2="622.3" stroke="#262626" stroke-width="3.5"/><line x1="462.3" y1="951.3" x2="462.3" y2="946.3" stroke="#262626" stroke-width="3.5"/><line x1="569.1" y1="617.3" x2="569.1" y2="622.3" stroke="#262626" stroke-width="3.5"/><line x1="569.1" y1="951.3" x2="569.1" y2="946.3" stroke="#262626" stroke-width="3.5"/><line x1="675.9" y1="617.3" x2="675.9" y2="622.3" stroke="#262626" stroke-width="3.5"/><line x1="675.9" y1="951.3" x2="675.9" y2="946.3" stroke="#262626" stroke-width="3.5"/><line x1="378.1" y1="846.9" x2="383.6" y2="846.9" stroke="#262626" stroke-width="3.6"/><line x1="782.7" y1="846.9" x2="777.2" y2="846.9" stroke="#262626" stroke-width="3.6"/><line x1="378.1" y1="741.7" x2="383.6" y2="741.7" stroke="#262626" stroke-width="3.6"/><line x1="782.7" y1="741.7" x2="777.2" y2="741.7" stroke="#262626" stroke-width="3.6"/><line x1="378.1" y1="636.5" x2="383.6" y2="636.5" stroke="#262626" stroke-width="3.6"/><line x1="782.7" y1="636.5" x2="777.2" y2="636.5" stroke="#262626" stroke-width="3.6"/><text x="367.5" y="962" font-family="Liberation Serif" font-size="27.5" text-anchor="end" textLength="14.7" lengthAdjust="spacingAndGlyphs">0</text><text x="367.5" y="856.9" font-family="Liberation Serif" font-size="27.5" text-anchor="end" textLength="36.8" lengthAdjust="spacingAndGlyphs">0.5</text><text x="367.5" y="751.7" font-family="Liberation Serif" font-size="27.5" text-anchor="end" textLength="14.7" lengthAdjust="spacingAndGlyphs">1</text><text x="367.5" y="646.5" font-family="Liberation Serif" font-size="27.5" text-anchor="end" textLength="36.8" lengthAdjust="spacingAndGlyphs">1.5</text><text x="462.3" y="988" font-family="Liberation Serif" font-size="27.5" text-anchor="middle" textLength="36.8" lengthAdjust="spacingAndGlyphs">0.1</text><text x="569.1" y="988" font-family="Liberation Serif" font-size="27.5" text-anchor="middle" textLength="51.5" lengthAdjust="spacingAndGlyphs">0.15</text><text x="675.9" y="988" font-family="Liberation Serif" font-size="27.5" text-anchor="middle" textLength="36.8" lengthAdjust="spacingAndGlyphs">0.2</text><text x="782.7" y="988" font-family="Liberation Serif" font-size="27.5" text-anchor="middle" textLength="51.5" lengthAdjust="spacingAndGlyphs">0.25</text></g>
<g><text x="4.8" y="36" font-family="Liberation Sans" font-size="39.5" text-anchor="start" font-weight="bold">A</text><text x="6.3" y="595" font-family="Liberation Sans" font-size="38" text-anchor="start" font-weight="bold">B</text><text x="396" y="656" font-family="Liberation Sans" font-size="37.5" text-anchor="start" font-weight="bold">C</text><path d="M48.6 588.2L61.4 601M48.6 601L61.4 588.2" stroke="#111" stroke-width="1.5" fill="none"/><text x="67.5" y="602.5" font-family="Liberation Serif" font-size="31" text-anchor="start" textLength="27.5" lengthAdjust="spacingAndGlyphs">10</text><text x="99" y="586.5" font-family="Liberation Serif" font-size="23" text-anchor="start" >-3</text><path d="M382.6 596.6L394.8 608.8M382.6 608.8L394.8 596.6" stroke="#111" stroke-width="1.4" fill="none"/><text x="400.8" y="610.5" font-family="Liberation Serif" font-size="29.5" text-anchor="start" >10</text><text x="430" y="597" font-family="Liberation Serif" font-size="22" text-anchor="start" >-3</text><text x="429" y="1181.5" font-family="Liberation Serif" font-size="35" text-anchor="start" font-style="italic" textLength="25" lengthAdjust="spacingAndGlyphs">T</text><text x="467" y="1181.5" font-family="Liberation Serif" font-size="35" text-anchor="start" >(</text><text x="479" y="1181.5" font-family="Liberation Serif" font-size="35" text-anchor="start" >K</text><text x="504.5" y="1181.5" font-family="Liberation Serif" font-size="35" text-anchor="start" >)</text><text x="536.5" y="1023.5" font-family="Liberation Serif" font-size="34" text-anchor="start" font-style="italic" textLength="24" lengthAdjust="spacingAndGlyphs">T</text><text x="572" y="1023.5" font-family="Liberation Serif" font-size="34" text-anchor="start" >(</text><text x="584" y="1023.5" font-family="Liberation Serif" font-size="34" text-anchor="start" >K</text><text x="609" y="1023.5" font-family="Liberation Serif" font-size="34" text-anchor="start" >)</text><text x="379.5" y="1077.5" font-family="Liberation Serif" font-size="30.5" text-anchor="start" textLength="251" lengthAdjust="spacingAndGlyphs">GGG single crystal</text><g fill="none" stroke="#000" stroke-linecap="round" stroke-linejoin="round"><path d="M14.1 351.1 L34.4 369.7" stroke-width="1.5"/><path d="M14.9 368.4 C13.1 366.5 13.7 363 18.4 361.2 C23.4 359.8 29.4 358.8 33.1 356.4 C35.5 354.6 34.9 351.6 32.7 351.6" stroke-width="2.7"/><path d="M4.9 345.4 L13.6 347.9" stroke-width="2.6"/></g><text transform="translate(28.9 329.8) rotate(-90)" font-family="Liberation Serif" font-size="35" textLength="116" lengthAdjust="spacingAndGlyphs">(emu/g)</text><g fill="none" stroke="#000" stroke-linecap="round" stroke-linejoin="round"><path d="M44.2 900.1 L64.5 918.7" stroke-width="1.5"/><path d="M45 917.4 C43.2 915.5 43.8 912 48.5 910.2 C53.5 908.8 59.5 907.8 63.2 905.4 C65.6 903.6 65 900.6 62.8 900.6" stroke-width="2.7"/><path d="M35.2 888.7 L44.5 891.9M35.2 895 L44.5 897.4" stroke-width="2.6"/></g><text transform="translate(59 872.3) rotate(-90)" font-family="Liberation Serif" font-size="35" textLength="113" lengthAdjust="spacingAndGlyphs">(emu/g)</text><g fill="none" stroke="#000" stroke-linecap="round" stroke-linejoin="round"><path d="M301.1 844.1 L320 861.4" stroke-width="1.4"/><path d="M301.9 860.2 C300.2 858.4 300.8 855.2 305.1 853.5 C309.8 852.2 315.4 851.3 318.8 849.1 C321 847.4 320.5 844.6 318.4 844.6" stroke-width="2.5"/><path d="M292.8 833.5 L301.4 836.5M292.8 839.4 L301.4 841.6" stroke-width="2.4"/></g><text transform="translate(314.9 816.8) rotate(-90)" font-family="Liberation Serif" font-size="33" textLength="109.5" lengthAdjust="spacingAndGlyphs">(emu/g)</text></g>
</svg></body></html>
